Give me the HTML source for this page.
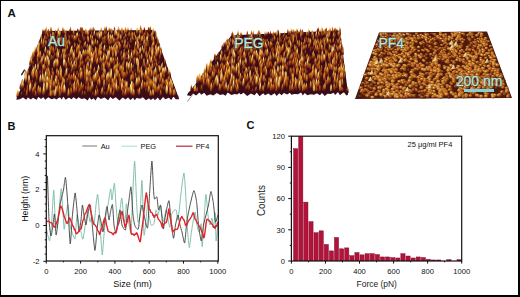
<!DOCTYPE html>
<html><head><meta charset="utf-8"><style>
html,body{margin:0;padding:0;background:#fff;}
svg{display:block;}
text{font-family:"Liberation Sans", sans-serif;}
</style></head><body>
<svg width="520" height="297" viewBox="0 0 520 297">
<defs>
<linearGradient id="ga" x1="0" y1="0" x2="0.25" y2="1"><stop offset="0" stop-color="#f8d870"/><stop offset="0.3" stop-color="#d47c18"/><stop offset="0.7" stop-color="#8c3010"/><stop offset="1" stop-color="#440c18"/></linearGradient>
<linearGradient id="gb" x1="0" y1="0" x2="0.25" y2="1"><stop offset="0" stop-color="#e49828"/><stop offset="0.35" stop-color="#b25210"/><stop offset="0.75" stop-color="#6a1e0e"/><stop offset="1" stop-color="#380a18"/></linearGradient>
<linearGradient id="gc" x1="0" y1="0" x2="0.25" y2="1"><stop offset="0" stop-color="#fff6d0"/><stop offset="0.25" stop-color="#f0c850"/><stop offset="0.6" stop-color="#c86c1c"/><stop offset="1" stop-color="#501018"/></linearGradient>
<linearGradient id="gd" x1="0" y1="0" x2="0.25" y2="1"><stop offset="0" stop-color="#c87028"/><stop offset="0.4" stop-color="#903610"/><stop offset="1" stop-color="#360a18"/></linearGradient>
<linearGradient id="ge" x1="0" y1="0" x2="0.25" y2="1"><stop offset="0" stop-color="#ffffff"/><stop offset="0.3" stop-color="#f8f0b0"/><stop offset="0.65" stop-color="#d89838"/><stop offset="1" stop-color="#602014"/></linearGradient>
<path id="pa1" d="M0,-4.88 C0.47,-3.66 0.94,-1.71 0.75,0 Q0,0.73 -0.75,0 C-0.94,-1.71 -0.47,-3.66 0,-4.88Z" fill="url(#ga)"/><path id="pb1" d="M0,-4.12 C0.45,-3.09 0.9,-1.44 0.72,0 Q0,0.62 -0.72,0 C-0.9,-1.44 -0.45,-3.09 0,-4.12Z" fill="url(#gb)"/><path id="pc1" d="M0,-5.62 C0.49,-4.22 0.98,-1.97 0.78,0 Q0,0.84 -0.78,0 C-0.98,-1.97 -0.49,-4.22 0,-5.62Z" fill="url(#gc)"/><path id="pd1" d="M0,-3.38 C0.43,-2.53 0.86,-1.18 0.69,0 Q0,0.51 -0.69,0 C-0.86,-1.18 -0.43,-2.53 0,-3.38Z" fill="url(#gd)"/><path id="pe1" d="M0,-6 C0.49,-4.5 0.98,-2.1 0.78,0 Q0,0.9 -0.78,0 C-0.98,-2.1 -0.49,-4.5 0,-6Z" fill="url(#ge)"/><path id="pa2" d="M0,-5.85 C0.56,-4.39 1.12,-2.05 0.9,0 Q0,0.88 -0.9,0 C-1.12,-2.05 -0.56,-4.39 0,-5.85Z" fill="url(#ga)"/><path id="pb2" d="M0,-4.95 C0.54,-3.71 1.08,-1.73 0.86,0 Q0,0.74 -0.86,0 C-1.08,-1.73 -0.54,-3.71 0,-4.95Z" fill="url(#gb)"/><path id="pc2" d="M0,-6.75 C0.59,-5.06 1.17,-2.36 0.94,0 Q0,1.01 -0.94,0 C-1.17,-2.36 -0.59,-5.06 0,-6.75Z" fill="url(#gc)"/><path id="pd2" d="M0,-4.05 C0.52,-3.04 1.03,-1.42 0.83,0 Q0,0.61 -0.83,0 C-1.03,-1.42 -0.52,-3.04 0,-4.05Z" fill="url(#gd)"/><path id="pe2" d="M0,-7.2 C0.59,-5.4 1.17,-2.52 0.94,0 Q0,1.08 -0.94,0 C-1.17,-2.52 -0.59,-5.4 0,-7.2Z" fill="url(#ge)"/><path id="pa3" d="M0,-6.83 C0.66,-5.12 1.31,-2.39 1.05,0 Q0,1.02 -1.05,0 C-1.31,-2.39 -0.66,-5.12 0,-6.83Z" fill="url(#ga)"/><path id="pb3" d="M0,-5.78 C0.63,-4.33 1.26,-2.02 1.01,0 Q0,0.87 -1.01,0 C-1.26,-2.02 -0.63,-4.33 0,-5.78Z" fill="url(#gb)"/><path id="pc3" d="M0,-7.88 C0.68,-5.91 1.37,-2.76 1.09,0 Q0,1.18 -1.09,0 C-1.37,-2.76 -0.68,-5.91 0,-7.88Z" fill="url(#gc)"/><path id="pd3" d="M0,-4.73 C0.6,-3.54 1.21,-1.65 0.97,0 Q0,0.71 -0.97,0 C-1.21,-1.65 -0.6,-3.54 0,-4.73Z" fill="url(#gd)"/><path id="pe3" d="M0,-8.4 C0.68,-6.3 1.37,-2.94 1.09,0 Q0,1.26 -1.09,0 C-1.37,-2.94 -0.68,-6.3 0,-8.4Z" fill="url(#ge)"/><filter id="soft" x="0" y="0" width="1" height="1"><feGaussianBlur stdDeviation="0.35"/></filter>
<radialGradient id="g1" cx="0.35" cy="0.3" r="0.75"><stop offset="0" stop-color="#e8a448"/><stop offset="0.45" stop-color="#bc6a1e"/><stop offset="1" stop-color="#642410"/></radialGradient>
<radialGradient id="g2" cx="0.35" cy="0.3" r="0.75"><stop offset="0" stop-color="#cc8034"/><stop offset="0.5" stop-color="#9a4c18"/><stop offset="1" stop-color="#521a10"/></radialGradient>
<radialGradient id="g3" cx="0.35" cy="0.3" r="0.75"><stop offset="0" stop-color="#f0c468"/><stop offset="0.45" stop-color="#c07828"/><stop offset="1" stop-color="#6a2810"/></radialGradient>
<radialGradient id="g4" cx="0.35" cy="0.3" r="0.75"><stop offset="0" stop-color="#8a4a1c"/><stop offset="0.5" stop-color="#622410"/><stop offset="1" stop-color="#38100c"/></radialGradient>
<linearGradient id="gt" x1="0" y1="0" x2="1" y2="0.3"><stop offset="0" stop-color="#fff8d8"/><stop offset="0.6" stop-color="#e8d090"/><stop offset="1" stop-color="#a07030"/></linearGradient>
<path id="tri" d="M0,-4 L2.5,0.5 L-2.5,0.5Z" fill="url(#gt)"/>
<ellipse id="e1a" rx="1.64" ry="1.33" fill="url(#g1)"/><ellipse id="e2a" rx="1.48" ry="1.25" fill="url(#g2)"/><ellipse id="e3a" rx="1.79" ry="1.48" fill="url(#g3)"/><ellipse id="e4a" rx="1.56" ry="1.33" fill="url(#g4)"/><ellipse id="e1b" rx="1.99" ry="1.61" fill="url(#g1)"/><ellipse id="e2b" rx="1.8" ry="1.52" fill="url(#g2)"/><ellipse id="e3b" rx="2.18" ry="1.8" fill="url(#g3)"/><ellipse id="e4b" rx="1.9" ry="1.61" fill="url(#g4)"/></defs>
<rect x="0" y="0" width="520" height="297" fill="#fff"/>
<g filter="url(#soft)">
<path d="M43,31 L154,30 L178.19,96.4 L17.4,96.9 Z" fill="#3a0c16"/>
<use href="#pc1" x="140.6" y="30.1"/>
<use href="#pd1" x="148.5" y="30.2"/>
<use href="#pb1" x="118.5" y="30.4"/>
<use href="#pb1" x="114.5" y="30.4"/>
<use href="#pb1" x="144.3" y="30.6"/>
<use href="#pa1" x="106.2" y="30.6"/>
<use href="#pb1" x="80.5" y="30.7"/>
<use href="#pb1" x="81.3" y="30.7"/>
<use href="#pc1" x="150.4" y="30.8"/>
<use href="#pe1" x="104.6" y="31.0"/>
<use href="#pb1" x="82.5" y="31.1"/>
<use href="#pd1" x="109.9" y="31.2"/>
<use href="#pa1" x="93.1" y="31.2"/>
<use href="#pb1" x="82.4" y="31.3"/>
<use href="#pc1" x="70.4" y="31.3"/>
<use href="#pa1" x="50.9" y="31.3"/>
<use href="#pa1" x="46.2" y="31.7"/>
<use href="#pa1" x="149.5" y="31.7"/>
<use href="#pe1" x="58.2" y="31.7"/>
<use href="#pa1" x="62.9" y="31.7"/>
<use href="#pc1" x="125.3" y="31.8"/>
<use href="#pd1" x="80.6" y="31.9"/>
<use href="#pa1" x="90.9" y="32.0"/>
<use href="#pb1" x="77.6" y="32.0"/>
<use href="#pc1" x="127.9" y="32.1"/>
<use href="#pd1" x="48.4" y="32.2"/>
<use href="#pc1" x="137.2" y="32.2"/>
<use href="#pc1" x="109.0" y="32.2"/>
<use href="#pd1" x="45.1" y="32.2"/>
<use href="#pa1" x="104.9" y="32.2"/>
<use href="#pb1" x="111.7" y="32.2"/>
<use href="#pc1" x="118.5" y="32.2"/>
<use href="#pc1" x="101.1" y="32.3"/>
<use href="#pa1" x="131.1" y="32.4"/>
<use href="#pc1" x="51.4" y="32.4"/>
<use href="#pb1" x="89.9" y="32.5"/>
<use href="#pa1" x="94.5" y="32.6"/>
<use href="#pc1" x="121.5" y="32.6"/>
<use href="#pa1" x="141.3" y="32.7"/>
<use href="#pe1" x="137.7" y="32.7"/>
<use href="#pe1" x="137.2" y="32.7"/>
<use href="#pb1" x="43.0" y="32.7"/>
<use href="#pc1" x="122.6" y="32.8"/>
<use href="#pa1" x="153.1" y="32.8"/>
<use href="#pb1" x="80.1" y="32.9"/>
<use href="#pb1" x="69.5" y="33.0"/>
<use href="#pd1" x="126.9" y="33.0"/>
<use href="#pc1" x="153.4" y="33.0"/>
<use href="#pa1" x="62.7" y="33.0"/>
<use href="#pd1" x="46.6" y="33.1"/>
<use href="#pd1" x="90.0" y="33.1"/>
<use href="#pb1" x="78.6" y="33.1"/>
<use href="#pa1" x="85.4" y="33.2"/>
<use href="#pb1" x="119.6" y="33.4"/>
<use href="#pa1" x="145.7" y="33.5"/>
<use href="#pa1" x="140.1" y="33.6"/>
<use href="#pc1" x="126.2" y="33.6"/>
<use href="#pa1" x="139.9" y="33.7"/>
<use href="#pd1" x="94.5" y="33.7"/>
<use href="#pd1" x="155.3" y="33.7"/>
<use href="#pc1" x="115.0" y="33.8"/>
<use href="#pe1" x="153.2" y="33.8"/>
<use href="#pa1" x="82.1" y="33.8"/>
<use href="#pc1" x="64.6" y="33.8"/>
<use href="#pa1" x="48.1" y="33.9"/>
<use href="#pc1" x="46.7" y="33.9"/>
<use href="#pa1" x="142.2" y="33.9"/>
<use href="#pe1" x="73.6" y="33.9"/>
<use href="#pd1" x="100.9" y="34.0"/>
<use href="#pd1" x="85.7" y="34.0"/>
<use href="#pd1" x="110.8" y="34.0"/>
<use href="#pc1" x="124.7" y="34.0"/>
<use href="#pa1" x="57.7" y="34.1"/>
<use href="#pa1" x="55.7" y="34.2"/>
<use href="#pc1" x="111.9" y="34.3"/>
<use href="#pa1" x="58.9" y="34.4"/>
<use href="#pa1" x="102.0" y="34.4"/>
<use href="#pb1" x="47.5" y="34.4"/>
<use href="#pa1" x="153.8" y="34.4"/>
<use href="#pc1" x="86.0" y="34.4"/>
<use href="#pa1" x="66.1" y="34.5"/>
<use href="#pc1" x="86.5" y="34.5"/>
<use href="#pd1" x="152.5" y="34.5"/>
<use href="#pd1" x="44.3" y="34.5"/>
<use href="#pd1" x="134.6" y="34.5"/>
<use href="#pb1" x="49.7" y="34.6"/>
<use href="#pd1" x="139.6" y="34.7"/>
<use href="#pe1" x="87.6" y="34.7"/>
<use href="#pc1" x="140.3" y="34.8"/>
<use href="#pe1" x="115.6" y="34.8"/>
<use href="#pa1" x="106.1" y="35.0"/>
<use href="#pc1" x="99.8" y="35.0"/>
<use href="#pb1" x="142.6" y="35.0"/>
<use href="#pb1" x="83.9" y="35.0"/>
<use href="#pa1" x="104.4" y="35.1"/>
<use href="#pe1" x="60.0" y="35.3"/>
<use href="#pd1" x="73.8" y="35.3"/>
<use href="#pb1" x="137.2" y="35.3"/>
<use href="#pb1" x="147.6" y="35.3"/>
<use href="#pa1" x="122.0" y="35.5"/>
<use href="#pd1" x="88.8" y="35.6"/>
<use href="#pb1" x="74.2" y="35.7"/>
<use href="#pa1" x="46.0" y="35.7"/>
<use href="#pe1" x="94.4" y="35.7"/>
<use href="#pb1" x="82.5" y="35.7"/>
<use href="#pa1" x="91.7" y="35.9"/>
<use href="#pa1" x="117.0" y="35.9"/>
<use href="#pe1" x="116.6" y="36.0"/>
<use href="#pb1" x="134.6" y="36.0"/>
<use href="#pa1" x="65.5" y="36.0"/>
<use href="#pe1" x="58.5" y="36.0"/>
<use href="#pa1" x="155.8" y="36.0"/>
<use href="#pc1" x="88.2" y="36.0"/>
<use href="#pb1" x="123.0" y="36.2"/>
<use href="#pb1" x="65.6" y="36.2"/>
<use href="#pb1" x="152.4" y="36.3"/>
<use href="#pa1" x="101.7" y="36.4"/>
<use href="#pa1" x="101.8" y="36.4"/>
<use href="#pd1" x="125.6" y="36.5"/>
<use href="#pb1" x="146.0" y="36.6"/>
<use href="#pc1" x="152.8" y="36.6"/>
<use href="#pa1" x="132.0" y="36.7"/>
<use href="#pb1" x="60.2" y="36.7"/>
<use href="#pc1" x="129.2" y="36.7"/>
<use href="#pc1" x="52.7" y="36.8"/>
<use href="#pa1" x="114.5" y="36.8"/>
<use href="#pa1" x="134.0" y="36.9"/>
<use href="#pc1" x="100.4" y="36.9"/>
<use href="#pd1" x="127.0" y="37.0"/>
<use href="#pa1" x="144.6" y="37.0"/>
<use href="#pb1" x="133.2" y="37.0"/>
<use href="#pa1" x="96.5" y="37.0"/>
<use href="#pc1" x="132.3" y="37.1"/>
<use href="#pe1" x="98.1" y="37.2"/>
<use href="#pd1" x="71.4" y="37.2"/>
<use href="#pc1" x="53.7" y="37.2"/>
<use href="#pc1" x="118.9" y="37.3"/>
<use href="#pb1" x="130.2" y="37.3"/>
<use href="#pd1" x="82.3" y="37.3"/>
<use href="#pa1" x="47.7" y="37.4"/>
<use href="#pb1" x="53.6" y="37.4"/>
<use href="#pe1" x="108.4" y="37.5"/>
<use href="#pb1" x="65.9" y="37.5"/>
<use href="#pc1" x="151.7" y="37.5"/>
<use href="#pc1" x="59.4" y="37.5"/>
<use href="#pd1" x="77.2" y="37.6"/>
<use href="#pe1" x="101.2" y="37.6"/>
<use href="#pd1" x="91.2" y="37.6"/>
<use href="#pd1" x="68.6" y="37.6"/>
<use href="#pb1" x="79.2" y="37.7"/>
<use href="#pa1" x="134.6" y="37.7"/>
<use href="#pe1" x="77.5" y="37.7"/>
<use href="#pd1" x="73.6" y="37.7"/>
<use href="#pb1" x="150.2" y="37.8"/>
<use href="#pb1" x="48.9" y="37.9"/>
<use href="#pc1" x="118.0" y="37.9"/>
<use href="#pc1" x="108.5" y="37.9"/>
<use href="#pb1" x="110.1" y="38.0"/>
<use href="#pc1" x="76.6" y="38.1"/>
<use href="#pd1" x="48.3" y="38.1"/>
<use href="#pd1" x="106.6" y="38.3"/>
<use href="#pc1" x="148.0" y="38.3"/>
<use href="#pa1" x="82.7" y="38.3"/>
<use href="#pa1" x="125.8" y="38.4"/>
<use href="#pa1" x="143.4" y="38.4"/>
<use href="#pa1" x="125.5" y="38.5"/>
<use href="#pb1" x="48.1" y="38.6"/>
<use href="#pd1" x="99.0" y="38.6"/>
<use href="#pc1" x="76.5" y="38.6"/>
<use href="#pd1" x="111.9" y="38.6"/>
<use href="#pc1" x="50.8" y="38.7"/>
<use href="#pb1" x="69.2" y="38.9"/>
<use href="#pb1" x="90.9" y="38.9"/>
<use href="#pd1" x="88.5" y="39.0"/>
<use href="#pa1" x="112.6" y="39.1"/>
<use href="#pe1" x="99.6" y="39.1"/>
<use href="#pa1" x="72.4" y="39.3"/>
<use href="#pc1" x="41.2" y="39.4"/>
<use href="#pd1" x="84.7" y="39.4"/>
<use href="#pe1" x="156.5" y="39.4"/>
<use href="#pc1" x="139.8" y="39.4"/>
<use href="#pc1" x="156.4" y="39.5"/>
<use href="#pc1" x="65.2" y="39.5"/>
<use href="#pb1" x="118.6" y="39.5"/>
<use href="#pc1" x="118.9" y="39.6"/>
<use href="#pb1" x="91.9" y="39.6"/>
<use href="#pe1" x="120.9" y="39.7"/>
<use href="#pc1" x="90.8" y="39.7"/>
<use href="#pb1" x="74.0" y="39.7"/>
<use href="#pd1" x="102.1" y="39.8"/>
<use href="#pb1" x="69.9" y="39.8"/>
<use href="#pa1" x="108.6" y="39.9"/>
<use href="#pa1" x="57.3" y="39.9"/>
<use href="#pa1" x="142.3" y="39.9"/>
<use href="#pe1" x="110.8" y="40.0"/>
<use href="#pa1" x="108.3" y="40.1"/>
<use href="#pc1" x="54.0" y="40.1"/>
<use href="#pa1" x="141.5" y="40.1"/>
<use href="#pe1" x="112.3" y="40.2"/>
<use href="#pc1" x="135.7" y="40.2"/>
<use href="#pe1" x="139.2" y="40.2"/>
<use href="#pb1" x="61.7" y="40.2"/>
<use href="#pb1" x="83.4" y="40.3"/>
<use href="#pa1" x="144.3" y="40.4"/>
<use href="#pb1" x="46.7" y="40.4"/>
<use href="#pc1" x="44.9" y="40.4"/>
<use href="#pa1" x="124.1" y="40.4"/>
<use href="#pa1" x="87.4" y="40.5"/>
<use href="#pc1" x="92.5" y="40.5"/>
<use href="#pe1" x="108.7" y="40.5"/>
<use href="#pc1" x="132.3" y="40.5"/>
<use href="#pc1" x="152.2" y="40.6"/>
<use href="#pe1" x="74.9" y="40.7"/>
<use href="#pc1" x="105.0" y="40.7"/>
<use href="#pa1" x="41.7" y="40.9"/>
<use href="#pc1" x="88.0" y="40.9"/>
<use href="#pb1" x="76.2" y="41.0"/>
<use href="#pd1" x="127.6" y="41.0"/>
<use href="#pa1" x="52.9" y="41.0"/>
<use href="#pb1" x="130.7" y="41.1"/>
<use href="#pa1" x="50.5" y="41.1"/>
<use href="#pa1" x="66.2" y="41.2"/>
<use href="#pc1" x="74.5" y="41.2"/>
<use href="#pb1" x="133.5" y="41.3"/>
<use href="#pc1" x="146.4" y="41.4"/>
<use href="#pb1" x="74.4" y="41.4"/>
<use href="#pc1" x="142.5" y="41.4"/>
<use href="#pb1" x="61.6" y="41.4"/>
<use href="#pa1" x="144.3" y="41.4"/>
<use href="#pa1" x="138.6" y="41.4"/>
<use href="#pa1" x="103.2" y="41.4"/>
<use href="#pa1" x="117.4" y="41.5"/>
<use href="#pc1" x="153.4" y="41.5"/>
<use href="#pd1" x="50.0" y="41.5"/>
<use href="#pb1" x="116.5" y="41.6"/>
<use href="#pb1" x="107.3" y="41.6"/>
<use href="#pc1" x="137.3" y="41.7"/>
<use href="#pd1" x="143.6" y="41.7"/>
<use href="#pe1" x="147.4" y="41.8"/>
<use href="#pb1" x="84.3" y="41.8"/>
<use href="#pb1" x="103.0" y="41.8"/>
<use href="#pa1" x="88.5" y="41.9"/>
<use href="#pd1" x="136.5" y="41.9"/>
<use href="#pe1" x="51.7" y="41.9"/>
<use href="#pa1" x="137.0" y="42.0"/>
<use href="#pd1" x="157.5" y="42.1"/>
<use href="#pb1" x="95.3" y="42.1"/>
<use href="#pa1" x="78.8" y="42.2"/>
<use href="#pa1" x="66.1" y="42.2"/>
<use href="#pe1" x="60.0" y="42.3"/>
<use href="#pb1" x="141.7" y="42.3"/>
<use href="#pc1" x="141.5" y="42.3"/>
<use href="#pd1" x="93.6" y="42.4"/>
<use href="#pb1" x="114.8" y="42.4"/>
<use href="#pb1" x="69.1" y="42.5"/>
<use href="#pa1" x="52.5" y="42.5"/>
<use href="#pb1" x="110.0" y="42.5"/>
<use href="#pc1" x="153.5" y="42.6"/>
<use href="#pc1" x="113.8" y="42.7"/>
<use href="#pa1" x="43.6" y="42.7"/>
<use href="#pa1" x="115.0" y="42.8"/>
<use href="#pb1" x="48.4" y="42.8"/>
<use href="#pc1" x="88.5" y="42.8"/>
<use href="#pa1" x="130.5" y="42.9"/>
<use href="#pd1" x="109.3" y="43.0"/>
<use href="#pd1" x="44.8" y="43.3"/>
<use href="#pd1" x="131.5" y="43.4"/>
<use href="#pb1" x="109.1" y="43.4"/>
<use href="#pd1" x="45.1" y="43.5"/>
<use href="#pb1" x="104.3" y="43.6"/>
<use href="#pa1" x="158.2" y="43.6"/>
<use href="#pd1" x="80.3" y="43.6"/>
<use href="#pb1" x="95.5" y="43.6"/>
<use href="#pc1" x="50.6" y="43.7"/>
<use href="#pd1" x="57.2" y="43.7"/>
<use href="#pd1" x="122.8" y="43.8"/>
<use href="#pb1" x="80.0" y="43.8"/>
<use href="#pb1" x="121.3" y="43.8"/>
<use href="#pb1" x="57.3" y="43.9"/>
<use href="#pa1" x="109.5" y="43.9"/>
<use href="#pb1" x="103.9" y="44.0"/>
<use href="#pa1" x="112.0" y="44.1"/>
<use href="#pa1" x="122.8" y="44.1"/>
<use href="#pa1" x="109.2" y="44.1"/>
<use href="#pa1" x="146.1" y="44.1"/>
<use href="#pc1" x="50.6" y="44.1"/>
<use href="#pa1" x="55.4" y="44.1"/>
<use href="#pb1" x="79.6" y="44.2"/>
<use href="#pe1" x="41.5" y="44.2"/>
<use href="#pc1" x="95.6" y="44.3"/>
<use href="#pa1" x="158.3" y="44.3"/>
<use href="#pc1" x="91.9" y="44.4"/>
<use href="#pb1" x="94.0" y="44.4"/>
<use href="#pa1" x="148.0" y="44.5"/>
<use href="#pc1" x="68.1" y="44.6"/>
<use href="#pb1" x="50.2" y="44.6"/>
<use href="#pe1" x="137.3" y="44.7"/>
<use href="#pa1" x="62.1" y="44.7"/>
<use href="#pe1" x="125.1" y="44.7"/>
<use href="#pa1" x="158.3" y="44.7"/>
<use href="#pe1" x="57.6" y="44.7"/>
<use href="#pb1" x="92.4" y="44.7"/>
<use href="#pb1" x="102.4" y="44.8"/>
<use href="#pb1" x="80.5" y="44.8"/>
<use href="#pa1" x="59.0" y="44.8"/>
<use href="#pc1" x="65.0" y="44.9"/>
<use href="#pb1" x="105.1" y="44.9"/>
<use href="#pd1" x="114.1" y="44.9"/>
<use href="#pa1" x="110.8" y="44.9"/>
<use href="#pe1" x="144.2" y="44.9"/>
<use href="#pd1" x="111.2" y="45.0"/>
<use href="#pc1" x="43.5" y="45.0"/>
<use href="#pd1" x="69.1" y="45.1"/>
<use href="#pa1" x="117.8" y="45.1"/>
<use href="#pc1" x="97.6" y="45.1"/>
<use href="#pd1" x="57.0" y="45.3"/>
<use href="#pc1" x="46.0" y="45.4"/>
<use href="#pd1" x="135.9" y="45.4"/>
<use href="#pa1" x="118.9" y="45.4"/>
<use href="#pa1" x="66.8" y="45.5"/>
<use href="#pa1" x="153.3" y="45.7"/>
<use href="#pa1" x="153.4" y="45.7"/>
<use href="#pa1" x="39.0" y="45.7"/>
<use href="#pa1" x="154.1" y="45.7"/>
<use href="#pb1" x="109.3" y="45.8"/>
<use href="#pb1" x="42.4" y="45.8"/>
<use href="#pb1" x="94.3" y="45.9"/>
<use href="#pc1" x="69.8" y="45.9"/>
<use href="#pa1" x="128.0" y="46.0"/>
<use href="#pe1" x="92.4" y="46.0"/>
<use href="#pa1" x="67.2" y="46.0"/>
<use href="#pb1" x="153.7" y="46.1"/>
<use href="#pb1" x="54.1" y="46.3"/>
<use href="#pb1" x="118.9" y="46.3"/>
<use href="#pc1" x="138.6" y="46.3"/>
<use href="#pa1" x="93.7" y="46.3"/>
<use href="#pb1" x="115.7" y="46.4"/>
<use href="#pd1" x="67.6" y="46.4"/>
<use href="#pb1" x="159.4" y="46.4"/>
<use href="#pb1" x="153.6" y="46.4"/>
<use href="#pc1" x="116.1" y="46.6"/>
<use href="#pb1" x="140.9" y="46.7"/>
<use href="#pe1" x="85.3" y="46.7"/>
<use href="#pa1" x="119.1" y="46.7"/>
<use href="#pd1" x="143.5" y="46.7"/>
<use href="#pe1" x="135.6" y="46.8"/>
<use href="#pa1" x="84.7" y="46.8"/>
<use href="#pb1" x="148.2" y="46.9"/>
<use href="#pa1" x="43.4" y="47.0"/>
<use href="#pc1" x="101.3" y="47.1"/>
<use href="#pd1" x="85.7" y="47.2"/>
<use href="#pc1" x="153.5" y="47.3"/>
<use href="#pd1" x="144.5" y="47.3"/>
<use href="#pc1" x="119.6" y="47.3"/>
<use href="#pa1" x="66.2" y="47.4"/>
<use href="#pc1" x="146.1" y="47.4"/>
<use href="#pc1" x="50.4" y="47.4"/>
<use href="#pa1" x="38.9" y="47.5"/>
<use href="#pa1" x="85.1" y="47.5"/>
<use href="#pc1" x="74.9" y="47.6"/>
<use href="#pb1" x="139.5" y="47.6"/>
<use href="#pd1" x="106.0" y="47.7"/>
<use href="#pb1" x="84.0" y="47.8"/>
<use href="#pb1" x="146.9" y="47.8"/>
<use href="#pc1" x="152.4" y="47.8"/>
<use href="#pa1" x="84.9" y="47.8"/>
<use href="#pe1" x="38.9" y="48.1"/>
<use href="#pa1" x="156.4" y="48.2"/>
<use href="#pa1" x="79.4" y="48.2"/>
<use href="#pc1" x="124.2" y="48.3"/>
<use href="#pd1" x="42.4" y="48.3"/>
<use href="#pb1" x="44.1" y="48.3"/>
<use href="#pa1" x="77.7" y="48.5"/>
<use href="#pd1" x="135.8" y="48.6"/>
<use href="#pa1" x="120.6" y="48.7"/>
<use href="#pc1" x="87.3" y="48.8"/>
<use href="#pa1" x="129.7" y="48.8"/>
<use href="#pc1" x="114.7" y="48.9"/>
<use href="#pc1" x="137.8" y="48.9"/>
<use href="#pa1" x="119.6" y="49.0"/>
<use href="#pd1" x="91.1" y="49.0"/>
<use href="#pd1" x="67.8" y="49.0"/>
<use href="#pa1" x="65.7" y="49.0"/>
<use href="#pb1" x="81.2" y="49.0"/>
<use href="#pb1" x="114.3" y="49.0"/>
<use href="#pb1" x="56.9" y="49.1"/>
<use href="#pa1" x="99.6" y="49.2"/>
<use href="#pc1" x="100.3" y="49.2"/>
<use href="#pc1" x="127.1" y="49.3"/>
<use href="#pa1" x="125.9" y="49.4"/>
<use href="#pd1" x="99.6" y="49.5"/>
<use href="#pa1" x="144.8" y="49.9"/>
<use href="#pa1" x="72.6" y="49.9"/>
<use href="#pc1" x="78.7" y="50.0"/>
<use href="#pd1" x="117.9" y="50.1"/>
<use href="#pc1" x="49.8" y="50.1"/>
<use href="#pa1" x="138.4" y="50.1"/>
<use href="#pb1" x="101.5" y="50.2"/>
<use href="#pa1" x="51.9" y="50.2"/>
<use href="#pe1" x="116.9" y="50.2"/>
<use href="#pc1" x="37.2" y="50.3"/>
<use href="#pd1" x="98.1" y="50.3"/>
<use href="#pc1" x="67.3" y="50.3"/>
<use href="#pc1" x="155.6" y="50.3"/>
<use href="#pa1" x="91.1" y="50.4"/>
<use href="#pd1" x="91.8" y="50.5"/>
<use href="#pb1" x="119.9" y="50.5"/>
<use href="#pa1" x="71.6" y="50.5"/>
<use href="#pa1" x="152.0" y="50.5"/>
<use href="#pb1" x="82.2" y="50.6"/>
<use href="#pc1" x="111.4" y="50.6"/>
<use href="#pe1" x="89.2" y="50.6"/>
<use href="#pd1" x="72.3" y="50.7"/>
<use href="#pc1" x="138.1" y="50.7"/>
<use href="#pb1" x="77.5" y="50.7"/>
<use href="#pd1" x="115.0" y="50.7"/>
<use href="#pb1" x="104.0" y="51.0"/>
<use href="#pe1" x="142.4" y="51.1"/>
<use href="#pa2" x="55.9" y="51.3"/>
<use href="#pb2" x="101.0" y="51.3"/>
<use href="#pd2" x="52.4" y="51.3"/>
<use href="#pe2" x="104.5" y="51.4"/>
<use href="#pc2" x="78.8" y="51.4"/>
<use href="#pb2" x="137.1" y="51.4"/>
<use href="#pe2" x="89.9" y="51.4"/>
<use href="#pc2" x="117.1" y="51.5"/>
<use href="#pc2" x="113.5" y="51.5"/>
<use href="#pa2" x="79.1" y="51.5"/>
<use href="#pa2" x="101.5" y="51.5"/>
<use href="#pc2" x="159.1" y="51.6"/>
<use href="#pd2" x="137.3" y="51.6"/>
<use href="#pb2" x="146.2" y="51.6"/>
<use href="#pd2" x="79.8" y="51.6"/>
<use href="#pa2" x="51.1" y="51.8"/>
<use href="#pa2" x="76.9" y="51.9"/>
<use href="#pc2" x="109.6" y="51.9"/>
<use href="#pa2" x="53.3" y="52.0"/>
<use href="#pa2" x="134.8" y="52.0"/>
<use href="#pc2" x="38.7" y="52.1"/>
<use href="#pd2" x="135.8" y="52.1"/>
<use href="#pc2" x="89.5" y="52.1"/>
<use href="#pa2" x="112.2" y="52.4"/>
<use href="#pa2" x="99.9" y="52.4"/>
<use href="#pe2" x="35.4" y="52.4"/>
<use href="#pc2" x="156.2" y="52.5"/>
<use href="#pb2" x="87.9" y="52.6"/>
<use href="#pa2" x="110.2" y="52.6"/>
<use href="#pa2" x="161.0" y="52.7"/>
<use href="#pa2" x="77.2" y="52.7"/>
<use href="#pc2" x="157.9" y="52.7"/>
<use href="#pc2" x="95.8" y="52.7"/>
<use href="#pa2" x="100.5" y="52.7"/>
<use href="#pa2" x="151.9" y="52.8"/>
<use href="#pb2" x="140.0" y="53.0"/>
<use href="#pc2" x="152.9" y="53.0"/>
<use href="#pc2" x="149.9" y="53.0"/>
<use href="#pa2" x="100.0" y="53.1"/>
<use href="#pe2" x="45.5" y="53.1"/>
<use href="#pc2" x="115.1" y="53.1"/>
<use href="#pe2" x="71.4" y="53.2"/>
<use href="#pb2" x="96.7" y="53.3"/>
<use href="#pb2" x="107.1" y="53.3"/>
<use href="#pe2" x="158.4" y="53.3"/>
<use href="#pb2" x="128.9" y="53.3"/>
<use href="#pc2" x="112.9" y="53.4"/>
<use href="#pa2" x="92.1" y="53.4"/>
<use href="#pd2" x="156.9" y="53.4"/>
<use href="#pb2" x="35.8" y="53.5"/>
<use href="#pc2" x="37.8" y="53.5"/>
<use href="#pa2" x="50.7" y="53.5"/>
<use href="#pa2" x="65.5" y="53.6"/>
<use href="#pb2" x="135.5" y="53.7"/>
<use href="#pa2" x="53.7" y="53.7"/>
<use href="#pe2" x="140.2" y="53.8"/>
<use href="#pc2" x="144.0" y="53.9"/>
<use href="#pa2" x="95.7" y="54.0"/>
<use href="#pa2" x="124.3" y="54.1"/>
<use href="#pb2" x="131.7" y="54.2"/>
<use href="#pe2" x="89.8" y="54.3"/>
<use href="#pa2" x="62.8" y="54.3"/>
<use href="#pb2" x="118.2" y="54.3"/>
<use href="#pd2" x="93.2" y="54.3"/>
<use href="#pb2" x="136.5" y="54.4"/>
<use href="#pa2" x="115.9" y="54.5"/>
<use href="#pd2" x="132.0" y="54.5"/>
<use href="#pb2" x="133.3" y="54.5"/>
<use href="#pa2" x="76.7" y="54.6"/>
<use href="#pc2" x="57.7" y="54.6"/>
<use href="#pa2" x="59.2" y="54.6"/>
<use href="#pb2" x="112.5" y="54.6"/>
<use href="#pc2" x="63.1" y="54.7"/>
<use href="#pc2" x="38.3" y="54.8"/>
<use href="#pa2" x="90.6" y="54.8"/>
<use href="#pc2" x="64.8" y="54.9"/>
<use href="#pd2" x="154.8" y="55.0"/>
<use href="#pc2" x="99.1" y="55.1"/>
<use href="#pa2" x="74.4" y="55.2"/>
<use href="#pc2" x="95.3" y="55.2"/>
<use href="#pd2" x="38.4" y="55.3"/>
<use href="#pa2" x="62.8" y="55.3"/>
<use href="#pc2" x="156.4" y="55.5"/>
<use href="#pd2" x="133.0" y="55.5"/>
<use href="#pc2" x="72.3" y="55.5"/>
<use href="#pb2" x="34.4" y="55.6"/>
<use href="#pc2" x="87.2" y="55.6"/>
<use href="#pc2" x="156.7" y="55.6"/>
<use href="#pc2" x="88.7" y="55.7"/>
<use href="#pc2" x="70.5" y="55.8"/>
<use href="#pc2" x="48.0" y="55.8"/>
<use href="#pa2" x="153.1" y="55.8"/>
<use href="#pc2" x="85.3" y="55.8"/>
<use href="#pb2" x="99.7" y="55.9"/>
<use href="#pd2" x="137.2" y="55.9"/>
<use href="#pe2" x="83.3" y="55.9"/>
<use href="#pa2" x="101.5" y="56.0"/>
<use href="#pa2" x="108.5" y="56.0"/>
<use href="#pa2" x="157.6" y="56.0"/>
<use href="#pc2" x="134.3" y="56.1"/>
<use href="#pc2" x="128.5" y="56.1"/>
<use href="#pa2" x="121.3" y="56.2"/>
<use href="#pa2" x="96.2" y="56.2"/>
<use href="#pe2" x="152.1" y="56.2"/>
<use href="#pc2" x="160.7" y="56.3"/>
<use href="#pd2" x="33.8" y="56.3"/>
<use href="#pc2" x="79.2" y="56.3"/>
<use href="#pd2" x="98.5" y="56.4"/>
<use href="#pb2" x="126.3" y="56.4"/>
<use href="#pa2" x="137.1" y="56.4"/>
<use href="#pa2" x="47.3" y="56.5"/>
<use href="#pc2" x="108.6" y="56.6"/>
<use href="#pd2" x="96.9" y="56.6"/>
<use href="#pa2" x="99.2" y="56.6"/>
<use href="#pc2" x="39.0" y="56.7"/>
<use href="#pe2" x="109.2" y="56.7"/>
<use href="#pc2" x="83.9" y="56.8"/>
<use href="#pa2" x="148.8" y="56.8"/>
<use href="#pc2" x="89.9" y="56.8"/>
<use href="#pb2" x="128.7" y="56.8"/>
<use href="#pe2" x="49.7" y="56.9"/>
<use href="#pc2" x="146.2" y="57.0"/>
<use href="#pa2" x="138.0" y="57.0"/>
<use href="#pc2" x="33.0" y="57.0"/>
<use href="#pe2" x="116.0" y="57.1"/>
<use href="#pd2" x="66.2" y="57.1"/>
<use href="#pb2" x="93.5" y="57.1"/>
<use href="#pc2" x="100.8" y="57.1"/>
<use href="#pb2" x="54.8" y="57.2"/>
<use href="#pc2" x="100.3" y="57.2"/>
<use href="#pc2" x="40.4" y="57.3"/>
<use href="#pd2" x="125.7" y="57.4"/>
<use href="#pc2" x="156.4" y="57.4"/>
<use href="#pd2" x="98.8" y="57.5"/>
<use href="#pd2" x="83.2" y="57.5"/>
<use href="#pa2" x="103.9" y="57.6"/>
<use href="#pd2" x="68.1" y="57.6"/>
<use href="#pe2" x="107.9" y="57.6"/>
<use href="#pe2" x="80.2" y="57.6"/>
<use href="#pc2" x="57.2" y="57.6"/>
<use href="#pd2" x="137.1" y="57.7"/>
<use href="#pc2" x="113.0" y="57.7"/>
<use href="#pa2" x="33.2" y="57.9"/>
<use href="#pa2" x="90.1" y="57.9"/>
<use href="#pc2" x="73.5" y="58.0"/>
<use href="#pc2" x="38.6" y="58.2"/>
<use href="#pa2" x="34.0" y="58.2"/>
<use href="#pb2" x="99.6" y="58.3"/>
<use href="#pb2" x="69.5" y="58.4"/>
<use href="#pc2" x="93.4" y="58.4"/>
<use href="#pe2" x="91.5" y="58.5"/>
<use href="#pa2" x="104.2" y="58.5"/>
<use href="#pb2" x="72.9" y="58.5"/>
<use href="#pe2" x="58.4" y="58.7"/>
<use href="#pe2" x="124.0" y="58.8"/>
<use href="#pc2" x="152.5" y="58.8"/>
<use href="#pd2" x="104.4" y="58.9"/>
<use href="#pa2" x="96.7" y="58.9"/>
<use href="#pa2" x="147.3" y="58.9"/>
<use href="#pd2" x="46.2" y="59.0"/>
<use href="#pe2" x="131.5" y="59.0"/>
<use href="#pd2" x="159.6" y="59.1"/>
<use href="#pc2" x="73.8" y="59.1"/>
<use href="#pa2" x="105.6" y="59.1"/>
<use href="#pb2" x="125.0" y="59.2"/>
<use href="#pa2" x="40.3" y="59.2"/>
<use href="#pd2" x="80.7" y="59.2"/>
<use href="#pc2" x="74.0" y="59.3"/>
<use href="#pa2" x="61.5" y="59.3"/>
<use href="#pb2" x="95.5" y="59.5"/>
<use href="#pc2" x="43.8" y="59.6"/>
<use href="#pe2" x="64.0" y="59.6"/>
<use href="#pa2" x="79.2" y="59.7"/>
<use href="#pc2" x="141.7" y="59.7"/>
<use href="#pb2" x="51.4" y="59.8"/>
<use href="#pb2" x="154.7" y="59.8"/>
<use href="#pb2" x="132.8" y="59.9"/>
<use href="#pb2" x="159.9" y="59.9"/>
<use href="#pb2" x="53.1" y="59.9"/>
<use href="#pa2" x="65.7" y="60.0"/>
<use href="#pc2" x="37.7" y="60.0"/>
<use href="#pd2" x="37.9" y="60.0"/>
<use href="#pb2" x="51.8" y="60.0"/>
<use href="#pd2" x="129.5" y="60.1"/>
<use href="#pd2" x="92.8" y="60.1"/>
<use href="#pc2" x="92.8" y="60.2"/>
<use href="#pa2" x="152.4" y="60.2"/>
<use href="#pd2" x="149.9" y="60.2"/>
<use href="#pa2" x="139.9" y="60.3"/>
<use href="#pb2" x="78.8" y="60.4"/>
<use href="#pa2" x="124.7" y="60.4"/>
<use href="#pb2" x="45.1" y="60.5"/>
<use href="#pa2" x="147.2" y="60.5"/>
<use href="#pd2" x="74.1" y="60.5"/>
<use href="#pd2" x="129.0" y="60.6"/>
<use href="#pa2" x="108.7" y="60.6"/>
<use href="#pc2" x="73.9" y="60.6"/>
<use href="#pd2" x="126.1" y="60.6"/>
<use href="#pd2" x="51.2" y="60.6"/>
<use href="#pd2" x="112.3" y="60.7"/>
<use href="#pd2" x="110.5" y="60.7"/>
<use href="#pe2" x="128.7" y="60.7"/>
<use href="#pd2" x="127.4" y="60.7"/>
<use href="#pc2" x="31.7" y="60.8"/>
<use href="#pe2" x="81.5" y="60.9"/>
<use href="#pd2" x="52.2" y="60.9"/>
<use href="#pc2" x="81.2" y="60.9"/>
<use href="#pa2" x="122.1" y="60.9"/>
<use href="#pc2" x="47.0" y="60.9"/>
<use href="#pc2" x="78.4" y="61.0"/>
<use href="#pb2" x="104.4" y="61.0"/>
<use href="#pa2" x="87.3" y="61.1"/>
<use href="#pc2" x="149.7" y="61.1"/>
<use href="#pc2" x="31.3" y="61.2"/>
<use href="#pd2" x="77.9" y="61.3"/>
<use href="#pa2" x="96.0" y="61.4"/>
<use href="#pa2" x="154.5" y="61.5"/>
<use href="#pb2" x="97.9" y="61.5"/>
<use href="#pe2" x="103.4" y="61.6"/>
<use href="#pa2" x="88.3" y="61.7"/>
<use href="#pb2" x="154.9" y="61.8"/>
<use href="#pe2" x="106.8" y="61.9"/>
<use href="#pa2" x="107.5" y="62.0"/>
<use href="#pa2" x="71.0" y="62.2"/>
<use href="#pb2" x="87.0" y="62.2"/>
<use href="#pb2" x="115.4" y="62.2"/>
<use href="#pd2" x="155.2" y="62.3"/>
<use href="#pd2" x="133.6" y="62.4"/>
<use href="#pa2" x="134.9" y="62.4"/>
<use href="#pe2" x="42.1" y="62.5"/>
<use href="#pe2" x="47.7" y="62.5"/>
<use href="#pc2" x="100.4" y="62.6"/>
<use href="#pd2" x="112.8" y="62.6"/>
<use href="#pa2" x="64.1" y="62.7"/>
<use href="#pb2" x="48.2" y="62.8"/>
<use href="#pd2" x="92.6" y="62.8"/>
<use href="#pb2" x="124.4" y="62.9"/>
<use href="#pd2" x="72.9" y="62.9"/>
<use href="#pb2" x="91.0" y="62.9"/>
<use href="#pc2" x="117.5" y="62.9"/>
<use href="#pb2" x="95.2" y="62.9"/>
<use href="#pb2" x="56.5" y="63.0"/>
<use href="#pd2" x="148.9" y="63.1"/>
<use href="#pd2" x="64.0" y="63.1"/>
<use href="#pc2" x="76.1" y="63.2"/>
<use href="#pc2" x="91.4" y="63.2"/>
<use href="#pe2" x="151.3" y="63.3"/>
<use href="#pd2" x="148.2" y="63.3"/>
<use href="#pc2" x="48.6" y="63.3"/>
<use href="#pc2" x="68.6" y="63.4"/>
<use href="#pb2" x="85.7" y="63.4"/>
<use href="#pa2" x="101.9" y="63.5"/>
<use href="#pe2" x="111.0" y="63.5"/>
<use href="#pa2" x="89.4" y="63.5"/>
<use href="#pd2" x="57.4" y="63.6"/>
<use href="#pb2" x="164.8" y="63.6"/>
<use href="#pc2" x="113.6" y="63.7"/>
<use href="#pa2" x="101.6" y="63.7"/>
<use href="#pc2" x="137.1" y="63.7"/>
<use href="#pa2" x="37.7" y="63.7"/>
<use href="#pa2" x="113.0" y="63.7"/>
<use href="#pe2" x="45.4" y="63.8"/>
<use href="#pa2" x="130.5" y="64.0"/>
<use href="#pe2" x="92.3" y="64.0"/>
<use href="#pa2" x="156.1" y="64.1"/>
<use href="#pa2" x="55.8" y="64.1"/>
<use href="#pc2" x="111.3" y="64.2"/>
<use href="#pa2" x="97.1" y="64.2"/>
<use href="#pd2" x="159.0" y="64.3"/>
<use href="#pc2" x="97.4" y="64.3"/>
<use href="#pc2" x="31.5" y="64.4"/>
<use href="#pe2" x="137.0" y="64.4"/>
<use href="#pa2" x="80.3" y="64.5"/>
<use href="#pc2" x="144.0" y="64.6"/>
<use href="#pb2" x="164.9" y="64.6"/>
<use href="#pb2" x="30.1" y="64.7"/>
<use href="#pb2" x="152.8" y="64.7"/>
<use href="#pe2" x="137.1" y="64.7"/>
<use href="#pc2" x="41.2" y="64.8"/>
<use href="#pc2" x="57.7" y="64.9"/>
<use href="#pa2" x="54.4" y="65.0"/>
<use href="#pa2" x="110.0" y="65.1"/>
<use href="#pb2" x="45.2" y="65.1"/>
<use href="#pd2" x="127.3" y="65.1"/>
<use href="#pc2" x="55.8" y="65.2"/>
<use href="#pc2" x="64.4" y="65.2"/>
<use href="#pb2" x="40.1" y="65.3"/>
<use href="#pb2" x="134.5" y="65.3"/>
<use href="#pc2" x="138.4" y="65.3"/>
<use href="#pa2" x="106.0" y="65.3"/>
<use href="#pa2" x="64.7" y="65.3"/>
<use href="#pe2" x="57.1" y="65.5"/>
<use href="#pe2" x="63.9" y="65.6"/>
<use href="#pe2" x="147.6" y="65.6"/>
<use href="#pb2" x="148.8" y="65.6"/>
<use href="#pb2" x="33.2" y="65.6"/>
<use href="#pa2" x="65.4" y="65.7"/>
<use href="#pb2" x="92.1" y="65.8"/>
<use href="#pb2" x="152.6" y="65.9"/>
<use href="#pa2" x="82.8" y="65.9"/>
<use href="#pb2" x="47.1" y="65.9"/>
<use href="#pb2" x="105.8" y="66.0"/>
<use href="#pb2" x="81.4" y="66.0"/>
<use href="#pa2" x="123.9" y="66.2"/>
<use href="#pe2" x="49.0" y="66.2"/>
<use href="#pa2" x="58.2" y="66.2"/>
<use href="#pa2" x="57.2" y="66.3"/>
<use href="#pe2" x="64.3" y="66.3"/>
<use href="#pb2" x="69.4" y="66.4"/>
<use href="#pb2" x="56.6" y="66.5"/>
<use href="#pb2" x="114.3" y="66.5"/>
<use href="#pd2" x="148.3" y="66.6"/>
<use href="#pa2" x="76.6" y="66.7"/>
<use href="#pa2" x="107.6" y="66.8"/>
<use href="#pb2" x="102.4" y="66.9"/>
<use href="#pd2" x="126.5" y="67.0"/>
<use href="#pe2" x="54.3" y="67.0"/>
<use href="#pc2" x="71.4" y="67.1"/>
<use href="#pb2" x="119.4" y="67.1"/>
<use href="#pb2" x="55.0" y="67.1"/>
<use href="#pd2" x="42.1" y="67.2"/>
<use href="#pd2" x="30.5" y="67.2"/>
<use href="#pe2" x="74.3" y="67.3"/>
<use href="#pa2" x="127.2" y="67.3"/>
<use href="#pc2" x="57.4" y="67.4"/>
<use href="#pc2" x="117.4" y="67.4"/>
<use href="#pb2" x="154.5" y="67.5"/>
<use href="#pd2" x="144.4" y="67.6"/>
<use href="#pb2" x="102.7" y="67.6"/>
<use href="#pb2" x="143.1" y="67.6"/>
<use href="#pd2" x="121.9" y="67.6"/>
<use href="#pc2" x="129.5" y="67.7"/>
<use href="#pa2" x="108.3" y="67.8"/>
<use href="#pc2" x="104.0" y="67.8"/>
<use href="#pa2" x="80.4" y="67.8"/>
<use href="#pa2" x="122.9" y="67.8"/>
<use href="#pa2" x="156.6" y="67.9"/>
<use href="#pa2" x="66.3" y="67.9"/>
<use href="#pa2" x="144.8" y="67.9"/>
<use href="#pb2" x="157.2" y="68.1"/>
<use href="#pb2" x="118.6" y="68.2"/>
<use href="#pe2" x="88.0" y="68.2"/>
<use href="#pd2" x="115.3" y="68.4"/>
<use href="#pe2" x="138.2" y="68.4"/>
<use href="#pe2" x="126.9" y="68.4"/>
<use href="#pc2" x="162.3" y="68.4"/>
<use href="#pb2" x="54.7" y="68.5"/>
<use href="#pd2" x="76.1" y="68.6"/>
<use href="#pa2" x="44.3" y="68.7"/>
<use href="#pa2" x="76.2" y="68.8"/>
<use href="#pc2" x="38.1" y="68.9"/>
<use href="#pc2" x="109.5" y="68.9"/>
<use href="#pc2" x="90.9" y="68.9"/>
<use href="#pa2" x="129.0" y="68.9"/>
<use href="#pd2" x="32.9" y="69.0"/>
<use href="#pb2" x="102.1" y="69.0"/>
<use href="#pa2" x="86.8" y="69.0"/>
<use href="#pb2" x="133.4" y="69.1"/>
<use href="#pa2" x="66.4" y="69.1"/>
<use href="#pb2" x="166.0" y="69.2"/>
<use href="#pb2" x="152.9" y="69.2"/>
<use href="#pe2" x="131.5" y="69.4"/>
<use href="#pb2" x="76.0" y="69.4"/>
<use href="#pb2" x="79.3" y="69.5"/>
<use href="#pb2" x="47.9" y="69.5"/>
<use href="#pb2" x="109.4" y="69.6"/>
<use href="#pc2" x="152.3" y="69.7"/>
<use href="#pe2" x="128.8" y="69.7"/>
<use href="#pb2" x="146.0" y="69.7"/>
<use href="#pa2" x="123.0" y="69.9"/>
<use href="#pc2" x="149.5" y="70.0"/>
<use href="#pb2" x="44.9" y="70.0"/>
<use href="#pd2" x="116.8" y="70.0"/>
<use href="#pa2" x="84.1" y="70.2"/>
<use href="#pc2" x="117.1" y="70.2"/>
<use href="#pa2" x="42.8" y="70.3"/>
<use href="#pc2" x="161.6" y="70.4"/>
<use href="#pc2" x="116.0" y="70.4"/>
<use href="#pb2" x="45.0" y="70.4"/>
<use href="#pb2" x="98.4" y="70.5"/>
<use href="#pb2" x="138.9" y="70.5"/>
<use href="#pb2" x="91.2" y="70.5"/>
<use href="#pc2" x="72.5" y="70.5"/>
<use href="#pc2" x="43.5" y="70.6"/>
<use href="#pc2" x="103.9" y="70.6"/>
<use href="#pe2" x="35.4" y="70.6"/>
<use href="#pa2" x="158.6" y="70.7"/>
<use href="#pc2" x="38.0" y="70.7"/>
<use href="#pb2" x="113.7" y="71.1"/>
<use href="#pd2" x="146.2" y="71.2"/>
<use href="#pd2" x="101.5" y="71.2"/>
<use href="#pc2" x="90.5" y="71.3"/>
<use href="#pb2" x="44.7" y="71.3"/>
<use href="#pa2" x="60.7" y="71.3"/>
<use href="#pc2" x="120.2" y="71.3"/>
<use href="#pc2" x="114.6" y="71.4"/>
<use href="#pd2" x="74.1" y="71.4"/>
<use href="#pd2" x="72.1" y="71.5"/>
<use href="#pe2" x="98.6" y="71.5"/>
<use href="#pd2" x="102.6" y="71.5"/>
<use href="#pd2" x="88.5" y="71.5"/>
<use href="#pc2" x="121.6" y="71.7"/>
<use href="#pc2" x="60.4" y="72.0"/>
<use href="#pe2" x="159.9" y="72.0"/>
<use href="#pd2" x="110.7" y="72.0"/>
<use href="#pb2" x="67.8" y="72.2"/>
<use href="#pa2" x="94.4" y="72.3"/>
<use href="#pc2" x="86.8" y="72.4"/>
<use href="#pc2" x="151.0" y="72.5"/>
<use href="#pb2" x="162.9" y="72.5"/>
<use href="#pa2" x="146.7" y="72.6"/>
<use href="#pd2" x="66.7" y="72.6"/>
<use href="#pb2" x="149.3" y="72.7"/>
<use href="#pd2" x="135.1" y="72.7"/>
<use href="#pa2" x="147.7" y="72.8"/>
<use href="#pc2" x="141.3" y="72.8"/>
<use href="#pb2" x="110.8" y="72.9"/>
<use href="#pb2" x="155.3" y="72.9"/>
<use href="#pa2" x="52.4" y="73.0"/>
<use href="#pc2" x="123.2" y="73.0"/>
<use href="#pb2" x="126.7" y="73.1"/>
<use href="#pe2" x="165.4" y="73.1"/>
<use href="#pc2" x="138.0" y="73.1"/>
<use href="#pa2" x="81.6" y="73.2"/>
<use href="#pb2" x="116.1" y="73.2"/>
<use href="#pd2" x="46.1" y="73.3"/>
<use href="#pd2" x="94.8" y="73.3"/>
<use href="#pc2" x="148.7" y="73.4"/>
<use href="#pa2" x="131.3" y="73.4"/>
<use href="#pb2" x="166.4" y="73.5"/>
<use href="#pd2" x="152.1" y="73.5"/>
<use href="#pe2" x="33.8" y="73.5"/>
<use href="#pb2" x="71.5" y="73.6"/>
<use href="#pc2" x="80.4" y="73.6"/>
<use href="#pb2" x="109.8" y="73.6"/>
<use href="#pa2" x="85.0" y="73.6"/>
<use href="#pc2" x="48.8" y="73.7"/>
<use href="#pa2" x="61.3" y="73.7"/>
<use href="#pd2" x="127.0" y="73.8"/>
<use href="#pc2" x="163.3" y="73.8"/>
<use href="#pe2" x="155.7" y="73.8"/>
<use href="#pa2" x="94.5" y="73.8"/>
<use href="#pb2" x="163.1" y="73.9"/>
<use href="#pe2" x="164.1" y="73.9"/>
<use href="#pc2" x="104.0" y="74.0"/>
<use href="#pb2" x="129.8" y="74.1"/>
<use href="#pc2" x="47.0" y="74.1"/>
<use href="#pb2" x="47.2" y="74.2"/>
<use href="#pb2" x="122.1" y="74.4"/>
<use href="#pc2" x="117.0" y="74.4"/>
<use href="#pd2" x="82.8" y="74.4"/>
<use href="#pc2" x="57.0" y="74.5"/>
<use href="#pb2" x="40.1" y="74.6"/>
<use href="#pe2" x="162.9" y="74.6"/>
<use href="#pb2" x="33.2" y="74.8"/>
<use href="#pd2" x="115.0" y="74.9"/>
<use href="#pa2" x="104.6" y="75.0"/>
<use href="#pc2" x="105.0" y="75.0"/>
<use href="#pc2" x="168.7" y="75.0"/>
<use href="#pc2" x="116.8" y="75.0"/>
<use href="#pc2" x="27.8" y="75.1"/>
<use href="#pb2" x="156.8" y="75.1"/>
<use href="#pb2" x="121.4" y="75.2"/>
<use href="#pc2" x="87.5" y="75.3"/>
<use href="#pd2" x="53.8" y="75.3"/>
<use href="#pc2" x="162.9" y="75.3"/>
<use href="#pa2" x="115.7" y="75.4"/>
<use href="#pe2" x="111.3" y="75.4"/>
<use href="#pc2" x="148.8" y="75.4"/>
<use href="#pa2" x="42.6" y="75.5"/>
<use href="#pa2" x="32.6" y="75.5"/>
<use href="#pe2" x="61.0" y="75.6"/>
<use href="#pb2" x="96.5" y="75.7"/>
<use href="#pb2" x="57.1" y="75.7"/>
<use href="#pb2" x="52.5" y="75.7"/>
<use href="#pa3" x="149.2" y="75.9"/>
<use href="#pe3" x="66.4" y="75.9"/>
<use href="#pa3" x="139.5" y="75.9"/>
<use href="#pc3" x="33.1" y="76.0"/>
<use href="#pb3" x="77.1" y="76.1"/>
<use href="#pa3" x="25.7" y="76.1"/>
<use href="#pd3" x="52.9" y="76.2"/>
<use href="#pa3" x="36.1" y="76.3"/>
<use href="#pb3" x="74.1" y="76.3"/>
<use href="#pa3" x="90.3" y="76.5"/>
<use href="#pd3" x="102.8" y="76.5"/>
<use href="#pc3" x="32.4" y="76.6"/>
<use href="#pb3" x="127.5" y="76.7"/>
<use href="#pb3" x="126.6" y="76.7"/>
<use href="#pb3" x="118.2" y="76.7"/>
<use href="#pc3" x="36.5" y="76.7"/>
<use href="#pc3" x="154.3" y="76.7"/>
<use href="#pa3" x="163.1" y="76.8"/>
<use href="#pd3" x="155.3" y="76.9"/>
<use href="#pa3" x="118.5" y="76.9"/>
<use href="#pb3" x="170.0" y="77.0"/>
<use href="#pa3" x="122.6" y="77.0"/>
<use href="#pa3" x="148.8" y="77.1"/>
<use href="#pa3" x="132.9" y="77.1"/>
<use href="#pe3" x="86.9" y="77.1"/>
<use href="#pa3" x="36.8" y="77.2"/>
<use href="#pd3" x="37.7" y="77.2"/>
<use href="#pc3" x="151.7" y="77.3"/>
<use href="#pb3" x="80.3" y="77.3"/>
<use href="#pe3" x="145.7" y="77.3"/>
<use href="#pa3" x="154.5" y="77.5"/>
<use href="#pb3" x="118.6" y="77.5"/>
<use href="#pa3" x="89.8" y="77.5"/>
<use href="#pa3" x="49.6" y="77.5"/>
<use href="#pe3" x="97.4" y="77.6"/>
<use href="#pc3" x="58.7" y="77.6"/>
<use href="#pd3" x="115.5" y="77.6"/>
<use href="#pa3" x="85.0" y="77.7"/>
<use href="#pa3" x="161.2" y="77.7"/>
<use href="#pd3" x="149.1" y="77.8"/>
<use href="#pb3" x="125.2" y="77.8"/>
<use href="#pc3" x="89.2" y="77.9"/>
<use href="#pd3" x="159.2" y="77.9"/>
<use href="#pa3" x="47.3" y="77.9"/>
<use href="#pb3" x="143.6" y="78.0"/>
<use href="#pa3" x="53.0" y="78.0"/>
<use href="#pe3" x="141.9" y="78.0"/>
<use href="#pc3" x="146.7" y="78.0"/>
<use href="#pc3" x="117.0" y="78.0"/>
<use href="#pa3" x="124.3" y="78.1"/>
<use href="#pa3" x="49.3" y="78.1"/>
<use href="#pb3" x="78.7" y="78.4"/>
<use href="#pc3" x="89.0" y="78.4"/>
<use href="#pa3" x="97.3" y="78.4"/>
<use href="#pc3" x="33.4" y="78.4"/>
<use href="#pb3" x="87.6" y="78.5"/>
<use href="#pd3" x="125.6" y="78.5"/>
<use href="#pc3" x="81.7" y="78.6"/>
<use href="#pd3" x="26.6" y="78.6"/>
<use href="#pb3" x="69.3" y="78.7"/>
<use href="#pa3" x="123.5" y="78.7"/>
<use href="#pb3" x="64.9" y="78.7"/>
<use href="#pa3" x="135.7" y="78.8"/>
<use href="#pe3" x="45.6" y="78.9"/>
<use href="#pd3" x="139.6" y="78.9"/>
<use href="#pb3" x="164.1" y="79.0"/>
<use href="#pe3" x="111.1" y="79.0"/>
<use href="#pb3" x="156.6" y="79.0"/>
<use href="#pb3" x="42.5" y="79.1"/>
<use href="#pd3" x="146.6" y="79.2"/>
<use href="#pc3" x="81.0" y="79.3"/>
<use href="#pa3" x="49.4" y="79.3"/>
<use href="#pa3" x="88.1" y="79.3"/>
<use href="#pb3" x="74.4" y="79.4"/>
<use href="#pb3" x="123.9" y="79.4"/>
<use href="#pb3" x="160.8" y="79.4"/>
<use href="#pb3" x="160.9" y="79.4"/>
<use href="#pc3" x="145.8" y="79.5"/>
<use href="#pb3" x="78.7" y="79.5"/>
<use href="#pc3" x="26.0" y="79.5"/>
<use href="#pb3" x="104.1" y="79.6"/>
<use href="#pc3" x="160.9" y="79.6"/>
<use href="#pd3" x="156.7" y="79.6"/>
<use href="#pc3" x="25.9" y="79.7"/>
<use href="#pe3" x="108.9" y="79.7"/>
<use href="#pa3" x="145.6" y="79.8"/>
<use href="#pb3" x="98.1" y="79.9"/>
<use href="#pa3" x="119.5" y="80.0"/>
<use href="#pc3" x="60.9" y="80.1"/>
<use href="#pb3" x="60.6" y="80.2"/>
<use href="#pc3" x="73.6" y="80.3"/>
<use href="#pe3" x="107.3" y="80.3"/>
<use href="#pa3" x="133.1" y="80.3"/>
<use href="#pa3" x="69.1" y="80.4"/>
<use href="#pb3" x="101.6" y="80.4"/>
<use href="#pc3" x="115.0" y="80.4"/>
<use href="#pe3" x="95.4" y="80.4"/>
<use href="#pa3" x="158.1" y="80.5"/>
<use href="#pb3" x="138.2" y="80.5"/>
<use href="#pc3" x="103.8" y="80.6"/>
<use href="#pa3" x="36.8" y="80.6"/>
<use href="#pa3" x="71.7" y="80.6"/>
<use href="#pc3" x="161.1" y="80.7"/>
<use href="#pa3" x="61.5" y="80.8"/>
<use href="#pb3" x="85.1" y="80.9"/>
<use href="#pa3" x="102.8" y="80.9"/>
<use href="#pb3" x="109.2" y="81.0"/>
<use href="#pd3" x="142.4" y="81.0"/>
<use href="#pb3" x="119.9" y="81.0"/>
<use href="#pa3" x="93.4" y="81.0"/>
<use href="#pa3" x="28.7" y="81.1"/>
<use href="#pb3" x="56.5" y="81.1"/>
<use href="#pb3" x="133.1" y="81.4"/>
<use href="#pe3" x="42.9" y="81.5"/>
<use href="#pa3" x="55.7" y="81.5"/>
<use href="#pb3" x="70.4" y="81.5"/>
<use href="#pc3" x="131.2" y="81.6"/>
<use href="#pe3" x="26.0" y="81.6"/>
<use href="#pd3" x="114.5" y="81.6"/>
<use href="#pa3" x="169.2" y="81.6"/>
<use href="#pc3" x="94.5" y="82.0"/>
<use href="#pa3" x="147.4" y="82.1"/>
<use href="#pc3" x="106.9" y="82.2"/>
<use href="#pc3" x="51.7" y="82.3"/>
<use href="#pe3" x="40.5" y="82.3"/>
<use href="#pa3" x="148.9" y="82.4"/>
<use href="#pa3" x="99.4" y="82.5"/>
<use href="#pb3" x="96.6" y="82.6"/>
<use href="#pd3" x="150.7" y="82.6"/>
<use href="#pc3" x="75.5" y="82.7"/>
<use href="#pb3" x="76.9" y="82.8"/>
<use href="#pc3" x="56.6" y="82.8"/>
<use href="#pa3" x="90.3" y="82.9"/>
<use href="#pe3" x="29.1" y="83.0"/>
<use href="#pc3" x="114.6" y="83.0"/>
<use href="#pb3" x="67.2" y="83.1"/>
<use href="#pc3" x="153.7" y="83.1"/>
<use href="#pd3" x="170.5" y="83.2"/>
<use href="#pa3" x="168.2" y="83.2"/>
<use href="#pa3" x="87.9" y="83.4"/>
<use href="#pb3" x="159.9" y="83.5"/>
<use href="#pb3" x="120.7" y="83.7"/>
<use href="#pb3" x="111.6" y="83.7"/>
<use href="#pa3" x="49.6" y="83.8"/>
<use href="#pa3" x="49.0" y="83.8"/>
<use href="#pd3" x="32.4" y="83.9"/>
<use href="#pe3" x="47.6" y="83.9"/>
<use href="#pb3" x="160.7" y="83.9"/>
<use href="#pc3" x="63.0" y="83.9"/>
<use href="#pc3" x="86.8" y="84.0"/>
<use href="#pc3" x="46.3" y="84.1"/>
<use href="#pd3" x="108.5" y="84.1"/>
<use href="#pe3" x="155.9" y="84.2"/>
<use href="#pb3" x="103.9" y="84.3"/>
<use href="#pc3" x="138.1" y="84.3"/>
<use href="#pb3" x="22.4" y="84.3"/>
<use href="#pb3" x="109.3" y="84.4"/>
<use href="#pc3" x="139.3" y="84.5"/>
<use href="#pa3" x="63.9" y="84.5"/>
<use href="#pd3" x="57.3" y="84.5"/>
<use href="#pb3" x="58.5" y="84.6"/>
<use href="#pc3" x="44.2" y="84.6"/>
<use href="#pb3" x="165.2" y="84.7"/>
<use href="#pa3" x="120.1" y="84.8"/>
<use href="#pa3" x="51.7" y="84.8"/>
<use href="#pa3" x="99.1" y="84.9"/>
<use href="#pa3" x="120.8" y="84.9"/>
<use href="#pd3" x="164.1" y="84.9"/>
<use href="#pa3" x="91.1" y="84.9"/>
<use href="#pa3" x="123.0" y="85.0"/>
<use href="#pc3" x="154.1" y="85.0"/>
<use href="#pc3" x="162.9" y="85.1"/>
<use href="#pd3" x="151.5" y="85.1"/>
<use href="#pa3" x="149.2" y="85.1"/>
<use href="#pa3" x="116.6" y="85.1"/>
<use href="#pb3" x="165.7" y="85.3"/>
<use href="#pc3" x="112.8" y="85.3"/>
<use href="#pc3" x="170.8" y="85.3"/>
<use href="#pd3" x="86.3" y="85.4"/>
<use href="#pa3" x="138.4" y="85.4"/>
<use href="#pa3" x="28.6" y="85.4"/>
<use href="#pe3" x="136.7" y="85.5"/>
<use href="#pc3" x="122.5" y="85.6"/>
<use href="#pa3" x="50.2" y="85.8"/>
<use href="#pc3" x="99.6" y="86.0"/>
<use href="#pa3" x="98.0" y="86.0"/>
<use href="#pa3" x="49.5" y="86.1"/>
<use href="#pc3" x="64.1" y="86.1"/>
<use href="#pd3" x="125.8" y="86.1"/>
<use href="#pb3" x="30.5" y="86.1"/>
<use href="#pc3" x="78.0" y="86.2"/>
<use href="#pe3" x="55.7" y="86.2"/>
<use href="#pa3" x="125.1" y="86.2"/>
<use href="#pd3" x="107.0" y="86.3"/>
<use href="#pb3" x="70.1" y="86.3"/>
<use href="#pa3" x="63.4" y="86.4"/>
<use href="#pd3" x="30.8" y="86.4"/>
<use href="#pb3" x="55.5" y="86.4"/>
<use href="#pc3" x="166.8" y="86.5"/>
<use href="#pb3" x="35.9" y="86.6"/>
<use href="#pb3" x="138.0" y="86.7"/>
<use href="#pc3" x="151.0" y="86.7"/>
<use href="#pd3" x="124.9" y="86.9"/>
<use href="#pc3" x="171.1" y="86.9"/>
<use href="#pa3" x="77.6" y="86.9"/>
<use href="#pb3" x="167.8" y="86.9"/>
<use href="#pc3" x="142.5" y="87.0"/>
<use href="#pb3" x="168.2" y="87.0"/>
<use href="#pd3" x="59.9" y="87.1"/>
<use href="#pd3" x="52.8" y="87.2"/>
<use href="#pc3" x="104.2" y="87.2"/>
<use href="#pa3" x="132.6" y="87.5"/>
<use href="#pb3" x="29.8" y="87.6"/>
<use href="#pa3" x="152.4" y="87.6"/>
<use href="#pa3" x="149.3" y="87.7"/>
<use href="#pb3" x="131.7" y="87.8"/>
<use href="#pe3" x="22.9" y="87.8"/>
<use href="#pc3" x="147.1" y="87.8"/>
<use href="#pc3" x="53.9" y="87.8"/>
<use href="#pb3" x="113.4" y="87.9"/>
<use href="#pa3" x="76.8" y="87.9"/>
<use href="#pc3" x="51.0" y="88.0"/>
<use href="#pd3" x="121.2" y="88.0"/>
<use href="#pb3" x="120.1" y="88.1"/>
<use href="#pc3" x="116.2" y="88.1"/>
<use href="#pc3" x="131.8" y="88.1"/>
<use href="#pc3" x="171.6" y="88.2"/>
<use href="#pb3" x="48.1" y="88.3"/>
<use href="#pb3" x="30.5" y="88.3"/>
<use href="#pd3" x="92.8" y="88.3"/>
<use href="#pa3" x="144.7" y="88.4"/>
<use href="#pa3" x="144.9" y="88.4"/>
<use href="#pa3" x="58.4" y="88.4"/>
<use href="#pc3" x="127.0" y="88.4"/>
<use href="#pd3" x="32.0" y="88.6"/>
<use href="#pe3" x="92.2" y="88.6"/>
<use href="#pb3" x="171.6" y="88.7"/>
<use href="#pc3" x="62.2" y="88.7"/>
<use href="#pb3" x="122.1" y="88.7"/>
<use href="#pc3" x="169.8" y="88.7"/>
<use href="#pa3" x="78.7" y="88.8"/>
<use href="#pc3" x="74.5" y="88.8"/>
<use href="#pa3" x="74.3" y="88.9"/>
<use href="#pa3" x="88.3" y="88.9"/>
<use href="#pb3" x="20.6" y="88.9"/>
<use href="#pa3" x="50.0" y="88.9"/>
<use href="#pb3" x="72.0" y="89.1"/>
<use href="#pd3" x="160.4" y="89.1"/>
<use href="#pc3" x="74.3" y="89.1"/>
<use href="#pb3" x="150.1" y="89.1"/>
<use href="#pc3" x="46.7" y="89.1"/>
<use href="#pb3" x="83.3" y="89.2"/>
<use href="#pc3" x="167.5" y="89.2"/>
<use href="#pd3" x="53.6" y="89.2"/>
<use href="#pb3" x="160.5" y="89.3"/>
<use href="#pc3" x="81.4" y="89.3"/>
<use href="#pc3" x="114.1" y="89.3"/>
<use href="#pa3" x="133.6" y="89.3"/>
<use href="#pa3" x="109.4" y="89.3"/>
<use href="#pe3" x="126.1" y="89.5"/>
<use href="#pe3" x="131.5" y="89.5"/>
<use href="#pb3" x="111.2" y="89.7"/>
<use href="#pb3" x="21.8" y="89.7"/>
<use href="#pc3" x="153.6" y="89.8"/>
<use href="#pb3" x="78.7" y="89.9"/>
<use href="#pc3" x="172.3" y="89.9"/>
<use href="#pb3" x="112.4" y="90.0"/>
<use href="#pc3" x="141.7" y="90.2"/>
<use href="#pe3" x="47.2" y="90.2"/>
<use href="#pc3" x="35.0" y="90.2"/>
<use href="#pa3" x="161.9" y="90.2"/>
<use href="#pa3" x="114.2" y="90.3"/>
<use href="#pe3" x="44.0" y="90.3"/>
<use href="#pc3" x="155.0" y="90.4"/>
<use href="#pb3" x="27.5" y="90.4"/>
<use href="#pe3" x="122.0" y="90.5"/>
<use href="#pd3" x="123.6" y="90.6"/>
<use href="#pb3" x="123.2" y="90.6"/>
<use href="#pd3" x="104.2" y="90.7"/>
<use href="#pb3" x="82.3" y="90.7"/>
<use href="#pc3" x="30.3" y="90.7"/>
<use href="#pc3" x="44.3" y="90.8"/>
<use href="#pa3" x="64.4" y="90.8"/>
<use href="#pb3" x="96.6" y="90.8"/>
<use href="#pa3" x="116.6" y="90.9"/>
<use href="#pb3" x="164.2" y="91.0"/>
<use href="#pa3" x="125.1" y="91.0"/>
<use href="#pb3" x="91.4" y="91.1"/>
<use href="#pe3" x="116.4" y="91.1"/>
<use href="#pd3" x="148.4" y="91.1"/>
<use href="#pb3" x="85.9" y="91.1"/>
<use href="#pa3" x="126.8" y="91.1"/>
<use href="#pc3" x="131.7" y="91.3"/>
<use href="#pd3" x="115.1" y="91.4"/>
<use href="#pe3" x="30.2" y="91.4"/>
<use href="#pb3" x="118.7" y="91.4"/>
<use href="#pc3" x="158.9" y="91.5"/>
<use href="#pc3" x="108.7" y="91.6"/>
<use href="#pa3" x="57.6" y="91.7"/>
<use href="#pc3" x="61.4" y="91.8"/>
<use href="#pb3" x="114.9" y="91.8"/>
<use href="#pb3" x="118.6" y="91.8"/>
<use href="#pa3" x="133.1" y="91.8"/>
<use href="#pa3" x="90.2" y="91.8"/>
<use href="#pa3" x="155.9" y="91.9"/>
<use href="#pd3" x="146.0" y="91.9"/>
<use href="#pb3" x="39.2" y="92.0"/>
<use href="#pe3" x="130.5" y="92.1"/>
<use href="#pe3" x="64.2" y="92.1"/>
<use href="#pc3" x="131.7" y="92.2"/>
<use href="#pd3" x="60.1" y="92.3"/>
<use href="#pc3" x="108.8" y="92.3"/>
<use href="#pd3" x="43.5" y="92.5"/>
<use href="#pc3" x="50.5" y="92.5"/>
<use href="#pb3" x="70.6" y="92.7"/>
<use href="#pa3" x="88.2" y="92.7"/>
<use href="#pb3" x="80.0" y="92.7"/>
<use href="#pd3" x="24.5" y="92.7"/>
<use href="#pe3" x="166.5" y="92.7"/>
<use href="#pa3" x="76.3" y="92.8"/>
<use href="#pc3" x="59.6" y="92.8"/>
<use href="#pb3" x="62.4" y="92.8"/>
<use href="#pc3" x="148.8" y="92.9"/>
<use href="#pb3" x="111.2" y="92.9"/>
<use href="#pc3" x="55.8" y="92.9"/>
<use href="#pb3" x="90.8" y="92.9"/>
<use href="#pa3" x="157.5" y="92.9"/>
<use href="#pc3" x="74.3" y="92.9"/>
<use href="#pb3" x="27.6" y="93.0"/>
<use href="#pc3" x="38.5" y="93.0"/>
<use href="#pa3" x="64.0" y="93.0"/>
<use href="#pd3" x="127.5" y="93.0"/>
<use href="#pa3" x="33.3" y="93.1"/>
<use href="#pe3" x="64.7" y="93.1"/>
<use href="#pa3" x="149.6" y="93.2"/>
<use href="#pc3" x="56.7" y="93.3"/>
<use href="#pd3" x="158.5" y="93.4"/>
<use href="#pb3" x="34.1" y="93.4"/>
<use href="#pb3" x="33.8" y="93.4"/>
<use href="#pa3" x="127.2" y="93.5"/>
<use href="#pd3" x="126.0" y="93.5"/>
<use href="#pc3" x="170.2" y="93.6"/>
<use href="#pd3" x="137.7" y="93.6"/>
<use href="#pb3" x="79.2" y="93.8"/>
<use href="#pb3" x="155.4" y="93.8"/>
<use href="#pb3" x="44.9" y="93.9"/>
<use href="#pa3" x="128.8" y="93.9"/>
<use href="#pa3" x="33.3" y="93.9"/>
<use href="#pe3" x="167.1" y="94.0"/>
<use href="#pb3" x="174.6" y="94.1"/>
<use href="#pd3" x="172.5" y="94.1"/>
<use href="#pb3" x="32.8" y="94.2"/>
<use href="#pe3" x="43.6" y="94.3"/>
<use href="#pa3" x="61.8" y="94.3"/>
<use href="#pa3" x="68.5" y="94.4"/>
<use href="#pb3" x="101.6" y="94.4"/>
<use href="#pc3" x="40.3" y="94.5"/>
<use href="#pc3" x="102.3" y="94.5"/>
<use href="#pb3" x="134.0" y="94.6"/>
<use href="#pe3" x="131.7" y="94.6"/>
<use href="#pa3" x="71.4" y="94.7"/>
<use href="#pc3" x="110.9" y="94.8"/>
<use href="#pb3" x="52.2" y="95.0"/>
<use href="#pa3" x="97.6" y="95.0"/>
<use href="#pc3" x="139.3" y="95.0"/>
<use href="#pb3" x="113.8" y="95.3"/>
<use href="#pa3" x="123.0" y="95.4"/>
<use href="#pd3" x="55.2" y="95.4"/>
<use href="#pd3" x="84.8" y="95.5"/>
<use href="#pd3" x="39.3" y="95.6"/>
<use href="#pb3" x="51.9" y="95.7"/>
<use href="#pc3" x="170.8" y="95.8"/>
<use href="#pb3" x="82.5" y="95.8"/>
<use href="#pd3" x="85.0" y="95.8"/>
<use href="#pd3" x="92.9" y="95.9"/>
<use href="#pd3" x="21.7" y="95.9"/>
<use href="#pc3" x="125.6" y="96.0"/>
<use href="#pb3" x="43.9" y="96.0"/>
<use href="#pd3" x="132.3" y="96.0"/>
<use href="#pb3" x="107.1" y="96.1"/>
<use href="#pa3" x="160.8" y="96.2"/>
<use href="#pc3" x="133.7" y="96.2"/>
<use href="#pd3" x="104.5" y="96.2"/>
<use href="#pb3" x="175.1" y="96.4"/>
<use href="#pa3" x="26.8" y="96.4"/>
<use href="#pa3" x="53.5" y="96.4"/>
<use href="#pc3" x="173.9" y="96.5"/>
<use href="#pe3" x="55.2" y="96.7"/>
<use href="#pd3" x="49.4" y="96.7"/>
<use href="#pa3" x="35.7" y="96.9"/>
<use href="#pc3" x="68.6" y="96.9"/>
<use href="#pe3" x="153.0" y="96.9"/>
<use href="#pb3" x="113.2" y="97.0"/>
<use href="#pc3" x="95.7" y="97.0"/>
<use href="#pc3" x="150.7" y="97.1"/>
<use href="#pb3" x="124.7" y="97.1"/>
<use href="#pa3" x="59.9" y="97.1"/>
<use href="#pc3" x="17.6" y="97.2"/>
<use href="#pa3" x="152.2" y="97.3"/>
<use href="#pc3" x="18.0" y="97.3"/>
<use href="#pc3" x="50.8" y="97.7"/>
<path d="M16.3,99.7 L19.72,99.14 L23.04,97.51 L26.11,99.7 L27.88,97.39 L30.91,99.45 L32.8,97.72 L36.53,99.67 L38.4,96.95 L41.03,99.12 L43.27,97.17 L45.38,99.74 L48.32,97.35 L51.6,99.28 L54.47,98.33 L56.36,99.56 L59.86,97.05 L61.54,99.59 L63.47,96.78 L65.63,99.75 L68.81,97.5 L71.47,99.21 L73.48,97.23 L76.51,99.3 L78.51,97.17 L81.6,99.05 L84.44,98.15 L87.67,100.53 L89.37,97.41 L91.51,99.85 L93.7,98.23 L95.55,100.58 L97.78,96.76 L100.77,99.12 L104.54,97.45 L108.2,100.24 L110.36,97.03 L112.71,98.98 L115.76,97.31 L119.38,100.53 L122.84,97.44 L125.44,99.42 L128.06,97.39 L130.43,99.91 L133.11,97.86 L134.73,100.13 L136.5,97.99 L140.3,98.79 L142.8,97.33 L145.95,100.23 L148.96,98.18 L150.75,99.98 L153.29,98.29 L154.9,100.17 L157.85,97.51 L160.01,100.51 L163.14,96.91 L165.23,99.24 L168.93,97.75 L171.26,100.05 L173.44,96.5 L175.68,99.25 L179.2,99.2 L178.19,95.6 L17.4,96.1Z" fill="#3a0c1c"/>
<path d="M231.5,35.3 L340,30.5 L347.84,91.9 L189.17,92.4 Z" fill="#3a0c16"/>
<use href="#pd1" x="334.9" y="30.9"/>
<use href="#pc1" x="332.5" y="31.4"/>
<use href="#pe1" x="339.7" y="31.4"/>
<use href="#pa1" x="318.5" y="31.6"/>
<use href="#pb1" x="321.4" y="31.7"/>
<use href="#pb1" x="317.5" y="31.8"/>
<use href="#pa1" x="326.3" y="31.8"/>
<use href="#pd1" x="336.9" y="31.9"/>
<use href="#pb1" x="325.2" y="32.0"/>
<use href="#pc1" x="321.9" y="32.1"/>
<use href="#pb1" x="335.3" y="32.3"/>
<use href="#pa1" x="335.7" y="32.4"/>
<use href="#pb1" x="300.7" y="32.4"/>
<use href="#pc1" x="330.0" y="32.5"/>
<use href="#pd1" x="302.5" y="32.6"/>
<use href="#pc1" x="322.3" y="32.6"/>
<use href="#pd1" x="325.1" y="33.0"/>
<use href="#pe1" x="296.6" y="33.0"/>
<use href="#pa1" x="340.2" y="33.0"/>
<use href="#pb1" x="297.4" y="33.1"/>
<use href="#pb1" x="332.8" y="33.1"/>
<use href="#pc1" x="291.8" y="33.4"/>
<use href="#pd1" x="309.6" y="33.4"/>
<use href="#pe1" x="321.6" y="33.4"/>
<use href="#pb1" x="323.1" y="33.5"/>
<use href="#pa1" x="287.8" y="33.5"/>
<use href="#pc1" x="330.1" y="33.5"/>
<use href="#pb1" x="277.4" y="33.5"/>
<use href="#pb1" x="278.4" y="33.6"/>
<use href="#pb1" x="328.5" y="33.6"/>
<use href="#pb1" x="328.9" y="33.6"/>
<use href="#pa1" x="293.8" y="33.6"/>
<use href="#pd1" x="291.6" y="33.8"/>
<use href="#pd1" x="289.1" y="33.8"/>
<use href="#pe1" x="308.5" y="33.8"/>
<use href="#pd1" x="333.8" y="33.8"/>
<use href="#pd1" x="302.1" y="33.9"/>
<use href="#pd1" x="295.6" y="34.0"/>
<use href="#pa1" x="300.3" y="34.1"/>
<use href="#pc1" x="312.1" y="34.5"/>
<use href="#pb1" x="299.0" y="34.6"/>
<use href="#pa1" x="258.4" y="34.6"/>
<use href="#pd1" x="273.8" y="34.6"/>
<use href="#pd1" x="268.5" y="34.7"/>
<use href="#pa1" x="316.4" y="34.7"/>
<use href="#pd1" x="329.4" y="34.7"/>
<use href="#pb1" x="247.3" y="34.7"/>
<use href="#pc1" x="290.4" y="34.8"/>
<use href="#pb1" x="277.1" y="34.8"/>
<use href="#pa1" x="259.0" y="34.8"/>
<use href="#pb1" x="270.5" y="34.8"/>
<use href="#pa1" x="325.2" y="34.8"/>
<use href="#pd1" x="294.8" y="34.8"/>
<use href="#pb1" x="298.1" y="35.0"/>
<use href="#pa1" x="340.1" y="35.1"/>
<use href="#pe1" x="253.3" y="35.1"/>
<use href="#pc1" x="324.2" y="35.2"/>
<use href="#pa1" x="251.5" y="35.2"/>
<use href="#pc1" x="259.3" y="35.3"/>
<use href="#pb1" x="270.3" y="35.4"/>
<use href="#pa1" x="326.4" y="35.4"/>
<use href="#pd1" x="339.0" y="35.4"/>
<use href="#pb1" x="259.8" y="35.5"/>
<use href="#pb1" x="337.8" y="35.5"/>
<use href="#pb1" x="334.6" y="35.6"/>
<use href="#pc1" x="238.0" y="35.6"/>
<use href="#pc1" x="338.9" y="35.7"/>
<use href="#pb1" x="307.0" y="35.7"/>
<use href="#pc1" x="328.1" y="35.8"/>
<use href="#pa1" x="296.9" y="35.8"/>
<use href="#pa1" x="302.9" y="35.8"/>
<use href="#pa1" x="267.0" y="35.8"/>
<use href="#pb1" x="275.4" y="35.9"/>
<use href="#pd1" x="288.8" y="36.0"/>
<use href="#pe1" x="277.1" y="36.0"/>
<use href="#pa1" x="232.4" y="36.0"/>
<use href="#pc1" x="306.9" y="36.2"/>
<use href="#pb1" x="232.1" y="36.3"/>
<use href="#pc1" x="265.0" y="36.3"/>
<use href="#pc1" x="273.2" y="36.3"/>
<use href="#pb1" x="240.7" y="36.4"/>
<use href="#pc1" x="318.8" y="36.4"/>
<use href="#pd1" x="233.3" y="36.5"/>
<use href="#pa1" x="284.7" y="36.5"/>
<use href="#pb1" x="247.7" y="36.6"/>
<use href="#pb1" x="322.5" y="36.6"/>
<use href="#pb1" x="326.2" y="36.6"/>
<use href="#pb1" x="321.5" y="36.7"/>
<use href="#pd1" x="237.1" y="36.7"/>
<use href="#pa1" x="318.8" y="36.8"/>
<use href="#pb1" x="308.8" y="36.8"/>
<use href="#pc1" x="279.8" y="36.8"/>
<use href="#pc1" x="241.2" y="36.8"/>
<use href="#pe1" x="279.8" y="37.0"/>
<use href="#pb1" x="319.2" y="37.0"/>
<use href="#pe1" x="316.5" y="37.0"/>
<use href="#pc1" x="329.6" y="37.1"/>
<use href="#pd1" x="252.3" y="37.1"/>
<use href="#pa1" x="295.2" y="37.1"/>
<use href="#pb1" x="237.7" y="37.2"/>
<use href="#pa1" x="339.0" y="37.2"/>
<use href="#pe1" x="312.9" y="37.2"/>
<use href="#pb1" x="241.7" y="37.2"/>
<use href="#pa1" x="257.3" y="37.3"/>
<use href="#pa1" x="312.1" y="37.3"/>
<use href="#pb1" x="335.2" y="37.3"/>
<use href="#pe1" x="301.1" y="37.4"/>
<use href="#pc1" x="316.3" y="37.4"/>
<use href="#pd1" x="274.1" y="37.4"/>
<use href="#pa1" x="301.4" y="37.6"/>
<use href="#pc1" x="333.6" y="37.8"/>
<use href="#pc1" x="260.1" y="38.0"/>
<use href="#pd1" x="254.8" y="38.0"/>
<use href="#pa1" x="291.3" y="38.1"/>
<use href="#pb1" x="295.7" y="38.1"/>
<use href="#pb1" x="251.0" y="38.3"/>
<use href="#pb1" x="249.2" y="38.3"/>
<use href="#pc1" x="233.6" y="38.5"/>
<use href="#pd1" x="293.2" y="38.5"/>
<use href="#pa1" x="283.3" y="38.7"/>
<use href="#pc1" x="293.1" y="38.7"/>
<use href="#pb1" x="334.5" y="38.8"/>
<use href="#pe1" x="328.0" y="38.9"/>
<use href="#pa1" x="296.8" y="39.3"/>
<use href="#pc1" x="239.1" y="39.5"/>
<use href="#pd1" x="273.5" y="39.5"/>
<use href="#pa1" x="294.2" y="39.6"/>
<use href="#pd1" x="281.1" y="39.6"/>
<use href="#pb1" x="317.4" y="39.6"/>
<use href="#pe1" x="251.3" y="39.6"/>
<use href="#pc1" x="326.7" y="39.7"/>
<use href="#pc1" x="234.9" y="39.7"/>
<use href="#pa1" x="252.3" y="39.9"/>
<use href="#pc1" x="340.3" y="40.0"/>
<use href="#pb1" x="306.0" y="40.0"/>
<use href="#pc1" x="286.2" y="40.0"/>
<use href="#pd1" x="253.3" y="40.2"/>
<use href="#pa1" x="249.7" y="40.3"/>
<use href="#pd1" x="325.9" y="40.4"/>
<use href="#pd1" x="304.6" y="40.4"/>
<use href="#pb1" x="288.4" y="40.5"/>
<use href="#pb1" x="287.5" y="40.5"/>
<use href="#pc1" x="313.3" y="40.6"/>
<use href="#pc1" x="237.3" y="40.6"/>
<use href="#pb1" x="340.5" y="40.8"/>
<use href="#pa1" x="289.9" y="40.8"/>
<use href="#pc1" x="274.7" y="40.9"/>
<use href="#pc1" x="293.2" y="40.9"/>
<use href="#pb1" x="301.9" y="41.0"/>
<use href="#pb1" x="255.9" y="41.0"/>
<use href="#pa1" x="279.5" y="41.0"/>
<use href="#pb1" x="280.2" y="41.0"/>
<use href="#pb1" x="291.3" y="41.1"/>
<use href="#pd1" x="336.5" y="41.3"/>
<use href="#pa1" x="252.6" y="41.5"/>
<use href="#pd1" x="326.5" y="41.5"/>
<use href="#pb1" x="232.8" y="41.6"/>
<use href="#pc1" x="239.1" y="41.6"/>
<use href="#pd1" x="320.9" y="41.7"/>
<use href="#pa1" x="325.7" y="41.8"/>
<use href="#pa1" x="306.8" y="41.8"/>
<use href="#pb1" x="243.2" y="41.8"/>
<use href="#pa1" x="308.5" y="41.9"/>
<use href="#pb1" x="264.0" y="42.0"/>
<use href="#pd1" x="270.8" y="42.0"/>
<use href="#pa1" x="296.5" y="42.0"/>
<use href="#pa1" x="277.7" y="42.1"/>
<use href="#pc1" x="261.7" y="42.1"/>
<use href="#pb1" x="326.8" y="42.2"/>
<use href="#pb1" x="234.3" y="42.2"/>
<use href="#pc1" x="324.1" y="42.3"/>
<use href="#pb1" x="245.0" y="42.3"/>
<use href="#pd1" x="231.8" y="42.3"/>
<use href="#pb1" x="320.4" y="42.5"/>
<use href="#pa1" x="272.2" y="42.5"/>
<use href="#pa1" x="284.6" y="42.5"/>
<use href="#pc1" x="252.4" y="42.6"/>
<use href="#pb1" x="266.1" y="42.7"/>
<use href="#pc1" x="339.1" y="42.8"/>
<use href="#pa1" x="330.0" y="42.9"/>
<use href="#pd1" x="226.8" y="42.9"/>
<use href="#pc1" x="333.4" y="43.0"/>
<use href="#pb1" x="281.4" y="43.0"/>
<use href="#pa1" x="263.5" y="43.1"/>
<use href="#pb1" x="315.9" y="43.1"/>
<use href="#pc1" x="230.3" y="43.2"/>
<use href="#pa1" x="227.9" y="43.2"/>
<use href="#pa1" x="227.2" y="43.2"/>
<use href="#pc1" x="293.4" y="43.3"/>
<use href="#pd1" x="329.9" y="43.3"/>
<use href="#pa1" x="280.0" y="43.3"/>
<use href="#pb1" x="305.0" y="43.3"/>
<use href="#pa1" x="267.4" y="43.4"/>
<use href="#pa1" x="323.0" y="43.4"/>
<use href="#pc1" x="327.3" y="43.5"/>
<use href="#pc1" x="309.2" y="43.5"/>
<use href="#pc1" x="310.6" y="43.6"/>
<use href="#pd1" x="285.9" y="43.6"/>
<use href="#pe1" x="327.7" y="43.6"/>
<use href="#pb1" x="299.2" y="43.7"/>
<use href="#pc1" x="315.2" y="43.7"/>
<use href="#pb1" x="330.1" y="43.7"/>
<use href="#pd1" x="305.4" y="43.7"/>
<use href="#pd1" x="307.6" y="43.8"/>
<use href="#pa1" x="314.2" y="43.8"/>
<use href="#pc1" x="318.0" y="43.8"/>
<use href="#pa1" x="337.5" y="43.9"/>
<use href="#pa1" x="328.3" y="43.9"/>
<use href="#pc1" x="253.8" y="44.0"/>
<use href="#pc1" x="304.8" y="44.0"/>
<use href="#pa1" x="265.1" y="44.1"/>
<use href="#pa1" x="330.6" y="44.2"/>
<use href="#pd1" x="299.6" y="44.2"/>
<use href="#pa1" x="317.1" y="44.2"/>
<use href="#pd1" x="288.0" y="44.3"/>
<use href="#pc1" x="289.9" y="44.3"/>
<use href="#pb1" x="283.8" y="44.3"/>
<use href="#pa1" x="321.8" y="44.4"/>
<use href="#pd1" x="335.5" y="44.5"/>
<use href="#pa1" x="338.4" y="44.6"/>
<use href="#pd1" x="225.8" y="44.6"/>
<use href="#pd1" x="292.6" y="44.7"/>
<use href="#pb1" x="263.0" y="44.7"/>
<use href="#pa1" x="288.7" y="44.7"/>
<use href="#pb1" x="288.9" y="44.7"/>
<use href="#pc1" x="253.6" y="44.8"/>
<use href="#pe1" x="233.0" y="44.8"/>
<use href="#pa1" x="299.4" y="45.0"/>
<use href="#pa1" x="320.3" y="45.0"/>
<use href="#pc1" x="310.4" y="45.1"/>
<use href="#pb1" x="317.0" y="45.2"/>
<use href="#pc1" x="324.4" y="45.2"/>
<use href="#pd1" x="301.3" y="45.3"/>
<use href="#pb1" x="298.0" y="45.3"/>
<use href="#pa1" x="263.0" y="45.3"/>
<use href="#pd1" x="254.1" y="45.3"/>
<use href="#pb1" x="289.6" y="45.3"/>
<use href="#pc1" x="340.5" y="45.4"/>
<use href="#pc1" x="297.5" y="45.4"/>
<use href="#pb1" x="289.3" y="45.5"/>
<use href="#pd1" x="324.7" y="45.5"/>
<use href="#pc1" x="228.7" y="45.5"/>
<use href="#pb1" x="224.1" y="45.6"/>
<use href="#pa1" x="234.5" y="45.7"/>
<use href="#pa1" x="318.8" y="45.7"/>
<use href="#pc1" x="315.1" y="45.8"/>
<use href="#pb1" x="339.9" y="45.9"/>
<use href="#pc1" x="277.3" y="46.0"/>
<use href="#pc1" x="277.2" y="46.0"/>
<use href="#pc1" x="253.1" y="46.0"/>
<use href="#pc1" x="245.7" y="46.0"/>
<use href="#pc1" x="316.5" y="46.1"/>
<use href="#pb1" x="241.7" y="46.1"/>
<use href="#pc1" x="236.5" y="46.1"/>
<use href="#pb1" x="235.9" y="46.2"/>
<use href="#pc1" x="226.4" y="46.2"/>
<use href="#pd1" x="309.4" y="46.2"/>
<use href="#pd1" x="328.8" y="46.3"/>
<use href="#pa1" x="303.6" y="46.3"/>
<use href="#pc1" x="270.4" y="46.3"/>
<use href="#pc1" x="268.6" y="46.4"/>
<use href="#pe1" x="290.8" y="46.5"/>
<use href="#pc1" x="234.7" y="46.5"/>
<use href="#pc1" x="320.9" y="46.5"/>
<use href="#pa1" x="227.7" y="46.6"/>
<use href="#pd1" x="239.4" y="46.6"/>
<use href="#pe1" x="246.8" y="46.6"/>
<use href="#pd1" x="256.6" y="46.7"/>
<use href="#pc1" x="301.7" y="46.8"/>
<use href="#pc1" x="314.0" y="46.8"/>
<use href="#pa1" x="254.5" y="46.9"/>
<use href="#pc1" x="278.7" y="46.9"/>
<use href="#pc1" x="263.4" y="47.0"/>
<use href="#pd1" x="275.7" y="47.0"/>
<use href="#pc1" x="271.8" y="47.1"/>
<use href="#pd1" x="263.1" y="47.2"/>
<use href="#pb1" x="238.1" y="47.3"/>
<use href="#pa1" x="319.6" y="47.3"/>
<use href="#pd1" x="293.0" y="47.3"/>
<use href="#pc1" x="229.6" y="47.3"/>
<use href="#pc1" x="299.3" y="47.3"/>
<use href="#pa1" x="265.2" y="47.4"/>
<use href="#pc1" x="286.0" y="47.4"/>
<use href="#pb1" x="286.8" y="47.4"/>
<use href="#pb1" x="341.8" y="47.5"/>
<use href="#pe1" x="265.6" y="47.5"/>
<use href="#pc1" x="325.0" y="47.5"/>
<use href="#pa1" x="271.1" y="47.7"/>
<use href="#pd1" x="226.3" y="47.7"/>
<use href="#pb1" x="283.6" y="47.7"/>
<use href="#pd1" x="265.8" y="47.8"/>
<use href="#pa1" x="247.4" y="47.9"/>
<use href="#pc1" x="236.3" y="47.9"/>
<use href="#pb1" x="335.0" y="47.9"/>
<use href="#pa1" x="309.4" y="47.9"/>
<use href="#pb1" x="333.9" y="48.0"/>
<use href="#pd1" x="258.5" y="48.1"/>
<use href="#pa1" x="283.5" y="48.2"/>
<use href="#pa1" x="265.7" y="48.3"/>
<use href="#pb1" x="222.3" y="48.3"/>
<use href="#pb1" x="287.6" y="48.3"/>
<use href="#pc1" x="238.8" y="48.4"/>
<use href="#pb1" x="282.9" y="48.5"/>
<use href="#pb1" x="331.1" y="48.6"/>
<use href="#pb1" x="222.4" y="48.6"/>
<use href="#pb1" x="302.9" y="48.6"/>
<use href="#pa1" x="308.9" y="48.6"/>
<use href="#pa1" x="246.6" y="48.6"/>
<use href="#pb1" x="227.8" y="48.7"/>
<use href="#pb1" x="331.0" y="48.8"/>
<use href="#pc1" x="334.5" y="48.8"/>
<use href="#pc1" x="266.7" y="48.8"/>
<use href="#pc1" x="290.9" y="48.9"/>
<use href="#pc1" x="306.1" y="49.0"/>
<use href="#pb1" x="270.1" y="49.1"/>
<use href="#pd1" x="251.6" y="49.1"/>
<use href="#pc1" x="315.8" y="49.3"/>
<use href="#pd1" x="242.4" y="49.5"/>
<use href="#pd1" x="282.7" y="49.6"/>
<use href="#pa1" x="261.6" y="49.6"/>
<use href="#pd1" x="316.8" y="49.8"/>
<use href="#pa1" x="321.8" y="49.9"/>
<use href="#pe1" x="340.5" y="50.0"/>
<use href="#pa1" x="304.2" y="50.1"/>
<use href="#pb1" x="313.1" y="50.1"/>
<use href="#pe1" x="321.9" y="50.1"/>
<use href="#pc1" x="304.0" y="50.1"/>
<use href="#pa2" x="336.8" y="50.2"/>
<use href="#pb2" x="275.7" y="50.2"/>
<use href="#pd2" x="311.0" y="50.3"/>
<use href="#pe2" x="340.2" y="50.4"/>
<use href="#pa2" x="319.9" y="50.4"/>
<use href="#pb2" x="296.8" y="50.4"/>
<use href="#pc2" x="255.5" y="50.5"/>
<use href="#pb2" x="266.6" y="50.5"/>
<use href="#pc2" x="329.6" y="50.5"/>
<use href="#pb2" x="322.2" y="50.7"/>
<use href="#pd2" x="296.9" y="50.7"/>
<use href="#pc2" x="294.9" y="50.7"/>
<use href="#pc2" x="282.8" y="50.7"/>
<use href="#pb2" x="241.2" y="50.7"/>
<use href="#pa2" x="342.5" y="50.7"/>
<use href="#pb2" x="279.3" y="50.8"/>
<use href="#pb2" x="277.8" y="50.9"/>
<use href="#pb2" x="243.1" y="50.9"/>
<use href="#pd2" x="281.6" y="50.9"/>
<use href="#pc2" x="237.2" y="51.0"/>
<use href="#pe2" x="248.1" y="51.0"/>
<use href="#pa2" x="262.1" y="51.0"/>
<use href="#pa2" x="338.8" y="51.0"/>
<use href="#pd2" x="273.4" y="51.0"/>
<use href="#pb2" x="275.5" y="51.1"/>
<use href="#pa2" x="286.7" y="51.3"/>
<use href="#pc2" x="317.4" y="51.3"/>
<use href="#pa2" x="324.4" y="51.4"/>
<use href="#pa2" x="234.0" y="51.4"/>
<use href="#pc2" x="228.2" y="51.4"/>
<use href="#pc2" x="282.3" y="51.5"/>
<use href="#pb2" x="329.8" y="51.5"/>
<use href="#pc2" x="277.4" y="51.5"/>
<use href="#pc2" x="279.2" y="51.5"/>
<use href="#pb2" x="253.9" y="51.6"/>
<use href="#pb2" x="278.8" y="51.6"/>
<use href="#pc2" x="245.1" y="51.7"/>
<use href="#pc2" x="227.5" y="51.7"/>
<use href="#pb2" x="315.1" y="51.7"/>
<use href="#pc2" x="235.5" y="51.9"/>
<use href="#pc2" x="280.0" y="52.0"/>
<use href="#pb2" x="337.7" y="52.1"/>
<use href="#pd2" x="310.6" y="52.1"/>
<use href="#pa2" x="247.2" y="52.2"/>
<use href="#pb2" x="318.8" y="52.2"/>
<use href="#pa2" x="337.8" y="52.3"/>
<use href="#pb2" x="322.5" y="52.4"/>
<use href="#pd2" x="250.8" y="52.4"/>
<use href="#pc2" x="301.9" y="52.4"/>
<use href="#pa2" x="295.7" y="52.4"/>
<use href="#pa2" x="289.4" y="52.5"/>
<use href="#pe2" x="332.2" y="52.5"/>
<use href="#pc2" x="286.6" y="52.6"/>
<use href="#pa2" x="272.1" y="52.6"/>
<use href="#pd2" x="335.4" y="52.7"/>
<use href="#pc2" x="260.1" y="52.9"/>
<use href="#pc2" x="250.7" y="53.0"/>
<use href="#pb2" x="276.0" y="53.0"/>
<use href="#pd2" x="292.2" y="53.1"/>
<use href="#pa2" x="288.1" y="53.2"/>
<use href="#pd2" x="342.2" y="53.3"/>
<use href="#pb2" x="242.3" y="53.3"/>
<use href="#pb2" x="267.1" y="53.3"/>
<use href="#pe2" x="333.7" y="53.4"/>
<use href="#pc2" x="288.2" y="53.4"/>
<use href="#pd2" x="225.1" y="53.5"/>
<use href="#pd2" x="259.6" y="53.7"/>
<use href="#pd2" x="341.5" y="53.7"/>
<use href="#pa2" x="250.6" y="53.7"/>
<use href="#pc2" x="251.9" y="53.8"/>
<use href="#pc2" x="288.0" y="53.9"/>
<use href="#pc2" x="232.1" y="54.0"/>
<use href="#pc2" x="240.4" y="54.0"/>
<use href="#pc2" x="287.6" y="54.0"/>
<use href="#pc2" x="289.9" y="54.1"/>
<use href="#pd2" x="333.4" y="54.1"/>
<use href="#pa2" x="326.0" y="54.2"/>
<use href="#pb2" x="273.4" y="54.2"/>
<use href="#pb2" x="262.1" y="54.2"/>
<use href="#pb2" x="285.5" y="54.4"/>
<use href="#pc2" x="277.0" y="54.5"/>
<use href="#pb2" x="232.6" y="54.5"/>
<use href="#pa2" x="342.9" y="54.5"/>
<use href="#pb2" x="305.4" y="54.5"/>
<use href="#pa2" x="280.2" y="54.6"/>
<use href="#pb2" x="221.2" y="54.6"/>
<use href="#pa2" x="265.4" y="54.8"/>
<use href="#pa2" x="240.1" y="54.8"/>
<use href="#pd2" x="260.6" y="54.9"/>
<use href="#pd2" x="240.9" y="54.9"/>
<use href="#pa2" x="296.3" y="55.0"/>
<use href="#pa2" x="229.9" y="55.1"/>
<use href="#pb2" x="326.4" y="55.2"/>
<use href="#pb2" x="327.8" y="55.2"/>
<use href="#pe2" x="297.3" y="55.3"/>
<use href="#pb2" x="238.3" y="55.3"/>
<use href="#pc2" x="277.9" y="55.3"/>
<use href="#pd2" x="335.5" y="55.3"/>
<use href="#pb2" x="319.0" y="55.3"/>
<use href="#pa2" x="289.1" y="55.4"/>
<use href="#pc2" x="260.6" y="55.4"/>
<use href="#pe2" x="332.3" y="55.5"/>
<use href="#pe2" x="267.5" y="55.5"/>
<use href="#pc2" x="233.7" y="55.6"/>
<use href="#pb2" x="233.3" y="55.6"/>
<use href="#pa2" x="266.2" y="55.8"/>
<use href="#pa2" x="241.1" y="55.8"/>
<use href="#pe2" x="288.7" y="55.9"/>
<use href="#pd2" x="262.6" y="55.9"/>
<use href="#pd2" x="325.7" y="56.2"/>
<use href="#pb2" x="293.8" y="56.3"/>
<use href="#pc2" x="267.3" y="56.3"/>
<use href="#pa2" x="256.2" y="56.3"/>
<use href="#pa2" x="332.6" y="56.4"/>
<use href="#pb2" x="246.0" y="56.4"/>
<use href="#pa2" x="326.0" y="56.4"/>
<use href="#pc2" x="301.8" y="56.4"/>
<use href="#pc2" x="221.8" y="56.5"/>
<use href="#pb2" x="218.3" y="56.6"/>
<use href="#pe2" x="261.9" y="56.6"/>
<use href="#pd2" x="303.4" y="56.7"/>
<use href="#pc2" x="254.1" y="56.7"/>
<use href="#pc2" x="322.2" y="56.7"/>
<use href="#pb2" x="294.5" y="56.8"/>
<use href="#pe2" x="256.6" y="56.8"/>
<use href="#pc2" x="255.0" y="56.8"/>
<use href="#pa2" x="260.6" y="56.8"/>
<use href="#pe2" x="233.3" y="56.9"/>
<use href="#pc2" x="313.4" y="57.0"/>
<use href="#pa2" x="272.9" y="57.0"/>
<use href="#pc2" x="278.8" y="57.0"/>
<use href="#pb2" x="339.5" y="57.0"/>
<use href="#pb2" x="326.8" y="57.1"/>
<use href="#pa2" x="270.3" y="57.3"/>
<use href="#pa2" x="248.9" y="57.3"/>
<use href="#pd2" x="279.6" y="57.4"/>
<use href="#pb2" x="257.2" y="57.4"/>
<use href="#pa2" x="254.6" y="57.5"/>
<use href="#pe2" x="260.1" y="57.5"/>
<use href="#pa2" x="339.3" y="57.5"/>
<use href="#pb2" x="335.0" y="57.5"/>
<use href="#pa2" x="296.0" y="57.5"/>
<use href="#pa2" x="229.2" y="57.6"/>
<use href="#pe2" x="244.2" y="57.7"/>
<use href="#pc2" x="322.7" y="57.7"/>
<use href="#pc2" x="284.2" y="57.8"/>
<use href="#pd2" x="214.8" y="57.9"/>
<use href="#pc2" x="301.4" y="58.0"/>
<use href="#pa2" x="312.7" y="58.0"/>
<use href="#pa2" x="264.0" y="58.1"/>
<use href="#pd2" x="235.5" y="58.1"/>
<use href="#pa2" x="261.6" y="58.2"/>
<use href="#pc2" x="336.6" y="58.2"/>
<use href="#pb2" x="224.8" y="58.2"/>
<use href="#pa2" x="329.2" y="58.3"/>
<use href="#pc2" x="330.4" y="58.4"/>
<use href="#pd2" x="319.2" y="58.4"/>
<use href="#pb2" x="334.5" y="58.5"/>
<use href="#pa2" x="253.0" y="58.5"/>
<use href="#pa2" x="259.5" y="58.6"/>
<use href="#pa2" x="243.7" y="58.7"/>
<use href="#pe2" x="234.6" y="58.7"/>
<use href="#pa2" x="258.0" y="58.8"/>
<use href="#pd2" x="280.9" y="58.8"/>
<use href="#pe2" x="276.4" y="58.8"/>
<use href="#pc2" x="292.0" y="58.9"/>
<use href="#pb2" x="294.6" y="58.9"/>
<use href="#pb2" x="332.8" y="58.9"/>
<use href="#pd2" x="252.7" y="58.9"/>
<use href="#pc2" x="328.9" y="58.9"/>
<use href="#pa2" x="215.0" y="59.0"/>
<use href="#pa2" x="307.5" y="59.0"/>
<use href="#pd2" x="244.3" y="59.0"/>
<use href="#pd2" x="214.7" y="59.0"/>
<use href="#pd2" x="309.7" y="59.1"/>
<use href="#pa2" x="314.4" y="59.1"/>
<use href="#pa2" x="240.1" y="59.2"/>
<use href="#pb2" x="296.7" y="59.2"/>
<use href="#pa2" x="313.4" y="59.3"/>
<use href="#pb2" x="242.0" y="59.4"/>
<use href="#pc2" x="287.4" y="59.6"/>
<use href="#pb2" x="281.6" y="59.6"/>
<use href="#pc2" x="273.8" y="59.6"/>
<use href="#pb2" x="335.2" y="59.6"/>
<use href="#pa2" x="298.8" y="59.7"/>
<use href="#pa2" x="244.7" y="59.7"/>
<use href="#pd2" x="274.0" y="59.7"/>
<use href="#pd2" x="217.9" y="59.8"/>
<use href="#pc2" x="257.3" y="59.8"/>
<use href="#pa2" x="245.0" y="59.8"/>
<use href="#pa2" x="259.7" y="59.9"/>
<use href="#pa2" x="306.5" y="60.0"/>
<use href="#pd2" x="239.0" y="60.0"/>
<use href="#pd2" x="311.1" y="60.2"/>
<use href="#pb2" x="258.9" y="60.3"/>
<use href="#pd2" x="298.0" y="60.3"/>
<use href="#pa2" x="225.0" y="60.3"/>
<use href="#pa2" x="250.4" y="60.3"/>
<use href="#pa2" x="294.4" y="60.4"/>
<use href="#pb2" x="340.1" y="60.4"/>
<use href="#pd2" x="221.3" y="60.4"/>
<use href="#pb2" x="224.2" y="60.5"/>
<use href="#pc2" x="318.0" y="60.6"/>
<use href="#pb2" x="257.4" y="60.6"/>
<use href="#pb2" x="329.9" y="60.6"/>
<use href="#pc2" x="291.0" y="60.7"/>
<use href="#pc2" x="323.6" y="60.7"/>
<use href="#pc2" x="319.9" y="60.8"/>
<use href="#pc2" x="342.0" y="60.8"/>
<use href="#pe2" x="324.7" y="60.8"/>
<use href="#pe2" x="220.7" y="60.9"/>
<use href="#pc2" x="270.8" y="60.9"/>
<use href="#pb2" x="290.0" y="60.9"/>
<use href="#pd2" x="299.6" y="61.0"/>
<use href="#pa2" x="304.0" y="61.0"/>
<use href="#pb2" x="231.3" y="61.0"/>
<use href="#pa2" x="228.6" y="61.2"/>
<use href="#pc2" x="337.0" y="61.2"/>
<use href="#pa2" x="232.2" y="61.3"/>
<use href="#pb2" x="281.8" y="61.4"/>
<use href="#pc2" x="278.9" y="61.5"/>
<use href="#pa2" x="308.7" y="61.5"/>
<use href="#pa2" x="277.5" y="61.5"/>
<use href="#pe2" x="252.4" y="61.5"/>
<use href="#pa2" x="238.4" y="61.6"/>
<use href="#pa2" x="249.9" y="61.6"/>
<use href="#pa2" x="260.5" y="61.6"/>
<use href="#pc2" x="321.8" y="61.7"/>
<use href="#pb2" x="224.0" y="61.8"/>
<use href="#pb2" x="216.0" y="61.8"/>
<use href="#pd2" x="265.2" y="61.9"/>
<use href="#pd2" x="250.3" y="61.9"/>
<use href="#pb2" x="296.0" y="62.0"/>
<use href="#pa2" x="240.7" y="62.0"/>
<use href="#pa2" x="225.6" y="62.0"/>
<use href="#pc2" x="269.0" y="62.1"/>
<use href="#pa2" x="329.4" y="62.1"/>
<use href="#pb2" x="265.7" y="62.1"/>
<use href="#pe2" x="302.0" y="62.2"/>
<use href="#pb2" x="333.5" y="62.3"/>
<use href="#pb2" x="222.9" y="62.3"/>
<use href="#pb2" x="294.0" y="62.4"/>
<use href="#pa2" x="296.2" y="62.4"/>
<use href="#pb2" x="303.6" y="62.4"/>
<use href="#pb2" x="259.2" y="62.4"/>
<use href="#pd2" x="316.0" y="62.5"/>
<use href="#pb2" x="334.8" y="62.5"/>
<use href="#pc2" x="227.3" y="62.6"/>
<use href="#pe2" x="259.4" y="62.6"/>
<use href="#pd2" x="259.2" y="62.7"/>
<use href="#pb2" x="333.7" y="62.8"/>
<use href="#pd2" x="300.9" y="62.9"/>
<use href="#pa2" x="295.7" y="62.9"/>
<use href="#pc2" x="334.3" y="62.9"/>
<use href="#pc2" x="281.1" y="63.0"/>
<use href="#pb2" x="253.0" y="63.1"/>
<use href="#pd2" x="319.6" y="63.2"/>
<use href="#pa2" x="277.8" y="63.2"/>
<use href="#pd2" x="330.4" y="63.2"/>
<use href="#pc2" x="308.6" y="63.3"/>
<use href="#pc2" x="283.1" y="63.3"/>
<use href="#pa2" x="302.2" y="63.3"/>
<use href="#pa2" x="322.1" y="63.4"/>
<use href="#pd2" x="265.3" y="63.5"/>
<use href="#pb2" x="314.5" y="63.6"/>
<use href="#pc2" x="307.9" y="63.7"/>
<use href="#pa2" x="283.6" y="63.8"/>
<use href="#pe2" x="263.5" y="63.8"/>
<use href="#pb2" x="303.7" y="63.8"/>
<use href="#pe2" x="285.1" y="63.9"/>
<use href="#pc2" x="315.8" y="63.9"/>
<use href="#pa2" x="261.9" y="63.9"/>
<use href="#pb2" x="239.3" y="64.2"/>
<use href="#pc2" x="251.5" y="64.2"/>
<use href="#pd2" x="250.1" y="64.2"/>
<use href="#pe2" x="302.1" y="64.3"/>
<use href="#pa2" x="279.0" y="64.3"/>
<use href="#pc2" x="268.1" y="64.4"/>
<use href="#pe2" x="245.9" y="64.4"/>
<use href="#pa2" x="278.1" y="64.5"/>
<use href="#pb2" x="244.5" y="64.5"/>
<use href="#pa2" x="302.0" y="64.5"/>
<use href="#pc2" x="283.0" y="64.6"/>
<use href="#pd2" x="262.5" y="64.7"/>
<use href="#pc2" x="300.4" y="64.7"/>
<use href="#pa2" x="340.5" y="64.7"/>
<use href="#pc2" x="277.8" y="64.7"/>
<use href="#pb2" x="227.2" y="64.8"/>
<use href="#pc2" x="234.3" y="64.9"/>
<use href="#pa2" x="254.1" y="64.9"/>
<use href="#pe2" x="232.2" y="64.9"/>
<use href="#pb2" x="254.9" y="65.0"/>
<use href="#pa2" x="230.0" y="65.0"/>
<use href="#pb2" x="260.6" y="65.0"/>
<use href="#pc2" x="293.2" y="65.0"/>
<use href="#pb2" x="270.2" y="65.1"/>
<use href="#pa2" x="301.4" y="65.1"/>
<use href="#pb2" x="325.8" y="65.2"/>
<use href="#pc2" x="210.6" y="65.2"/>
<use href="#pb2" x="261.2" y="65.2"/>
<use href="#pc2" x="297.4" y="65.3"/>
<use href="#pd2" x="267.0" y="65.4"/>
<use href="#pa2" x="295.7" y="65.4"/>
<use href="#pa2" x="342.0" y="65.5"/>
<use href="#pd2" x="329.8" y="65.5"/>
<use href="#pd2" x="276.5" y="65.5"/>
<use href="#pa2" x="290.9" y="65.5"/>
<use href="#pa2" x="335.0" y="65.6"/>
<use href="#pe2" x="332.9" y="65.7"/>
<use href="#pa2" x="211.2" y="65.7"/>
<use href="#pe2" x="240.4" y="65.7"/>
<use href="#pa2" x="336.5" y="65.8"/>
<use href="#pb2" x="294.0" y="65.9"/>
<use href="#pb2" x="227.1" y="66.0"/>
<use href="#pb2" x="289.9" y="66.0"/>
<use href="#pa2" x="289.4" y="66.2"/>
<use href="#pe2" x="307.4" y="66.2"/>
<use href="#pc2" x="243.0" y="66.3"/>
<use href="#pb2" x="271.1" y="66.3"/>
<use href="#pc2" x="319.1" y="66.3"/>
<use href="#pb2" x="253.5" y="66.4"/>
<use href="#pb2" x="254.3" y="66.6"/>
<use href="#pb2" x="238.2" y="66.6"/>
<use href="#pb2" x="222.0" y="66.6"/>
<use href="#pc2" x="260.5" y="66.8"/>
<use href="#pb2" x="287.3" y="66.8"/>
<use href="#pd2" x="228.4" y="66.8"/>
<use href="#pb2" x="225.9" y="66.9"/>
<use href="#pe2" x="299.5" y="66.9"/>
<use href="#pb2" x="238.1" y="66.9"/>
<use href="#pc2" x="260.3" y="67.0"/>
<use href="#pd2" x="305.0" y="67.0"/>
<use href="#pd2" x="274.8" y="67.2"/>
<use href="#pb2" x="315.1" y="67.2"/>
<use href="#pa2" x="269.6" y="67.3"/>
<use href="#pb2" x="334.5" y="67.4"/>
<use href="#pb2" x="319.4" y="67.6"/>
<use href="#pb2" x="343.6" y="67.6"/>
<use href="#pe2" x="227.5" y="67.6"/>
<use href="#pc2" x="275.6" y="67.6"/>
<use href="#pa2" x="267.0" y="67.6"/>
<use href="#pb2" x="243.6" y="67.7"/>
<use href="#pb2" x="264.4" y="67.7"/>
<use href="#pc2" x="275.1" y="67.8"/>
<use href="#pb2" x="332.5" y="67.8"/>
<use href="#pb2" x="221.9" y="67.8"/>
<use href="#pd2" x="338.5" y="67.9"/>
<use href="#pa2" x="262.3" y="67.9"/>
<use href="#pb2" x="217.6" y="67.9"/>
<use href="#pc2" x="305.6" y="68.0"/>
<use href="#pa2" x="262.5" y="68.0"/>
<use href="#pa2" x="301.3" y="68.0"/>
<use href="#pa2" x="268.0" y="68.0"/>
<use href="#pa2" x="317.1" y="68.1"/>
<use href="#pe2" x="217.6" y="68.1"/>
<use href="#pb2" x="271.8" y="68.1"/>
<use href="#pb2" x="343.5" y="68.1"/>
<use href="#pa2" x="308.0" y="68.2"/>
<use href="#pa2" x="302.9" y="68.3"/>
<use href="#pb2" x="215.9" y="68.4"/>
<use href="#pa2" x="217.9" y="68.5"/>
<use href="#pc2" x="228.4" y="68.5"/>
<use href="#pa2" x="309.2" y="68.5"/>
<use href="#pb2" x="269.3" y="68.6"/>
<use href="#pd2" x="284.7" y="68.6"/>
<use href="#pb2" x="343.0" y="68.6"/>
<use href="#pa2" x="328.5" y="68.6"/>
<use href="#pa2" x="238.9" y="68.6"/>
<use href="#pb2" x="295.3" y="68.7"/>
<use href="#pb2" x="297.4" y="68.7"/>
<use href="#pc2" x="209.9" y="68.8"/>
<use href="#pc2" x="296.7" y="68.8"/>
<use href="#pa2" x="310.2" y="68.9"/>
<use href="#pa2" x="222.9" y="68.9"/>
<use href="#pc2" x="330.2" y="68.9"/>
<use href="#pc2" x="206.8" y="68.9"/>
<use href="#pa2" x="285.3" y="69.0"/>
<use href="#pc2" x="326.1" y="69.0"/>
<use href="#pa2" x="283.2" y="69.0"/>
<use href="#pa2" x="210.7" y="69.0"/>
<use href="#pd2" x="266.4" y="69.1"/>
<use href="#pa2" x="227.1" y="69.2"/>
<use href="#pb2" x="224.6" y="69.3"/>
<use href="#pe2" x="238.5" y="69.4"/>
<use href="#pb2" x="285.7" y="69.4"/>
<use href="#pa2" x="220.8" y="69.5"/>
<use href="#pc2" x="211.6" y="69.5"/>
<use href="#pc2" x="341.3" y="69.6"/>
<use href="#pa2" x="244.1" y="69.6"/>
<use href="#pa2" x="318.0" y="69.7"/>
<use href="#pa2" x="330.4" y="69.8"/>
<use href="#pc2" x="209.2" y="69.8"/>
<use href="#pc2" x="236.5" y="69.9"/>
<use href="#pd2" x="216.1" y="69.9"/>
<use href="#pd2" x="245.6" y="70.0"/>
<use href="#pc2" x="232.0" y="70.2"/>
<use href="#pc2" x="331.7" y="70.2"/>
<use href="#pc2" x="261.2" y="70.3"/>
<use href="#pd2" x="242.4" y="70.3"/>
<use href="#pb2" x="254.3" y="70.4"/>
<use href="#pd2" x="273.9" y="70.4"/>
<use href="#pa2" x="232.4" y="70.4"/>
<use href="#pb2" x="252.1" y="70.4"/>
<use href="#pd2" x="310.8" y="70.5"/>
<use href="#pb2" x="227.8" y="70.5"/>
<use href="#pd2" x="336.5" y="70.5"/>
<use href="#pc2" x="313.2" y="70.5"/>
<use href="#pb2" x="266.1" y="70.6"/>
<use href="#pb2" x="222.6" y="70.6"/>
<use href="#pb2" x="208.8" y="70.6"/>
<use href="#pa2" x="321.6" y="70.6"/>
<use href="#pa2" x="333.2" y="70.6"/>
<use href="#pa2" x="213.8" y="70.6"/>
<use href="#pd2" x="297.9" y="70.7"/>
<use href="#pa2" x="273.5" y="70.8"/>
<use href="#pb2" x="281.3" y="70.8"/>
<use href="#pa2" x="287.0" y="71.1"/>
<use href="#pb2" x="264.6" y="71.2"/>
<use href="#pb2" x="248.5" y="71.2"/>
<use href="#pb2" x="293.6" y="71.2"/>
<use href="#pa2" x="319.4" y="71.2"/>
<use href="#pc2" x="233.7" y="71.3"/>
<use href="#pb2" x="260.0" y="71.4"/>
<use href="#pa2" x="283.3" y="71.4"/>
<use href="#pc2" x="224.2" y="71.4"/>
<use href="#pc2" x="343.8" y="71.5"/>
<use href="#pc2" x="280.4" y="71.6"/>
<use href="#pe2" x="282.8" y="71.7"/>
<use href="#pb2" x="315.6" y="71.7"/>
<use href="#pa2" x="239.2" y="71.7"/>
<use href="#pa2" x="229.9" y="71.8"/>
<use href="#pb2" x="226.6" y="71.8"/>
<use href="#pa2" x="249.2" y="71.9"/>
<use href="#pb2" x="305.9" y="71.9"/>
<use href="#pd2" x="304.5" y="72.1"/>
<use href="#pb2" x="278.0" y="72.1"/>
<use href="#pb2" x="338.4" y="72.1"/>
<use href="#pa2" x="297.4" y="72.1"/>
<use href="#pc2" x="207.8" y="72.1"/>
<use href="#pc2" x="336.1" y="72.2"/>
<use href="#pb2" x="302.5" y="72.2"/>
<use href="#pc2" x="232.6" y="72.3"/>
<use href="#pc2" x="313.0" y="72.3"/>
<use href="#pb2" x="328.1" y="72.3"/>
<use href="#pd2" x="212.1" y="72.5"/>
<use href="#pc2" x="208.5" y="72.5"/>
<use href="#pb2" x="219.0" y="72.6"/>
<use href="#pc2" x="325.2" y="72.7"/>
<use href="#pd2" x="265.7" y="72.7"/>
<use href="#pc2" x="334.4" y="72.8"/>
<use href="#pe2" x="341.4" y="72.8"/>
<use href="#pd2" x="247.1" y="72.8"/>
<use href="#pc2" x="274.5" y="72.9"/>
<use href="#pc2" x="255.8" y="73.0"/>
<use href="#pe2" x="236.4" y="73.0"/>
<use href="#pb2" x="272.0" y="73.1"/>
<use href="#pd3" x="292.3" y="73.1"/>
<use href="#pb3" x="232.0" y="73.2"/>
<use href="#pb3" x="290.2" y="73.3"/>
<use href="#pc3" x="265.6" y="73.3"/>
<use href="#pe3" x="278.0" y="73.3"/>
<use href="#pb3" x="315.3" y="73.3"/>
<use href="#pa3" x="257.3" y="73.3"/>
<use href="#pb3" x="265.2" y="73.5"/>
<use href="#pb3" x="211.1" y="73.5"/>
<use href="#pc3" x="341.2" y="73.5"/>
<use href="#pa3" x="234.5" y="73.5"/>
<use href="#pa3" x="339.3" y="73.6"/>
<use href="#pb3" x="263.3" y="73.6"/>
<use href="#pb3" x="298.3" y="73.6"/>
<use href="#pa3" x="326.9" y="73.6"/>
<use href="#pb3" x="321.1" y="73.8"/>
<use href="#pc3" x="229.3" y="74.0"/>
<use href="#pc3" x="300.7" y="74.0"/>
<use href="#pb3" x="325.7" y="74.0"/>
<use href="#pa3" x="210.3" y="74.0"/>
<use href="#pd3" x="276.3" y="74.1"/>
<use href="#pa3" x="303.1" y="74.1"/>
<use href="#pa3" x="291.0" y="74.1"/>
<use href="#pb3" x="216.0" y="74.2"/>
<use href="#pc3" x="339.4" y="74.2"/>
<use href="#pd3" x="306.9" y="74.2"/>
<use href="#pb3" x="270.6" y="74.3"/>
<use href="#pd3" x="296.7" y="74.3"/>
<use href="#pa3" x="294.0" y="74.5"/>
<use href="#pc3" x="327.6" y="74.5"/>
<use href="#pd3" x="275.9" y="74.6"/>
<use href="#pa3" x="214.3" y="74.6"/>
<use href="#pc3" x="342.6" y="74.6"/>
<use href="#pd3" x="320.3" y="74.6"/>
<use href="#pd3" x="242.5" y="74.6"/>
<use href="#pb3" x="275.3" y="74.6"/>
<use href="#pe3" x="204.5" y="74.7"/>
<use href="#pa3" x="261.2" y="74.7"/>
<use href="#pa3" x="205.1" y="74.8"/>
<use href="#pc3" x="226.6" y="74.8"/>
<use href="#pc3" x="246.7" y="74.9"/>
<use href="#pc3" x="246.0" y="75.0"/>
<use href="#pa3" x="344.3" y="75.1"/>
<use href="#pb3" x="324.8" y="75.1"/>
<use href="#pb3" x="305.6" y="75.2"/>
<use href="#pc3" x="297.0" y="75.3"/>
<use href="#pc3" x="316.1" y="75.3"/>
<use href="#pb3" x="225.3" y="75.6"/>
<use href="#pd3" x="291.1" y="75.6"/>
<use href="#pb3" x="257.3" y="75.6"/>
<use href="#pc3" x="221.5" y="75.7"/>
<use href="#pb3" x="245.3" y="75.8"/>
<use href="#pa3" x="313.9" y="75.9"/>
<use href="#pa3" x="218.7" y="76.0"/>
<use href="#pd3" x="312.4" y="76.0"/>
<use href="#pc3" x="266.4" y="76.1"/>
<use href="#pa3" x="312.4" y="76.3"/>
<use href="#pb3" x="300.3" y="76.3"/>
<use href="#pc3" x="239.0" y="76.3"/>
<use href="#pa3" x="231.2" y="76.4"/>
<use href="#pa3" x="319.8" y="76.4"/>
<use href="#pd3" x="333.3" y="76.5"/>
<use href="#pb3" x="282.2" y="76.5"/>
<use href="#pd3" x="220.3" y="76.5"/>
<use href="#pb3" x="244.4" y="76.6"/>
<use href="#pc3" x="228.4" y="76.6"/>
<use href="#pb3" x="261.1" y="76.6"/>
<use href="#pa3" x="220.5" y="76.6"/>
<use href="#pd3" x="344.0" y="76.7"/>
<use href="#pd3" x="284.4" y="76.7"/>
<use href="#pc3" x="228.2" y="76.7"/>
<use href="#pc3" x="229.4" y="76.7"/>
<use href="#pb3" x="274.0" y="76.8"/>
<use href="#pe3" x="316.0" y="77.0"/>
<use href="#pc3" x="272.6" y="77.0"/>
<use href="#pa3" x="205.2" y="77.0"/>
<use href="#pa3" x="226.5" y="77.1"/>
<use href="#pd3" x="314.0" y="77.1"/>
<use href="#pb3" x="228.3" y="77.2"/>
<use href="#pb3" x="219.7" y="77.2"/>
<use href="#pd3" x="303.6" y="77.3"/>
<use href="#pb3" x="279.5" y="77.3"/>
<use href="#pe3" x="274.8" y="77.4"/>
<use href="#pa3" x="207.2" y="77.4"/>
<use href="#pd3" x="332.7" y="77.4"/>
<use href="#pb3" x="312.9" y="77.4"/>
<use href="#pd3" x="325.4" y="77.6"/>
<use href="#pa3" x="280.8" y="77.7"/>
<use href="#pb3" x="253.7" y="77.7"/>
<use href="#pb3" x="321.4" y="77.7"/>
<use href="#pc3" x="299.7" y="77.8"/>
<use href="#pd3" x="261.3" y="77.8"/>
<use href="#pc3" x="256.8" y="77.8"/>
<use href="#pd3" x="328.4" y="77.9"/>
<use href="#pc3" x="312.3" y="77.9"/>
<use href="#pe3" x="282.9" y="77.9"/>
<use href="#pa3" x="285.8" y="77.9"/>
<use href="#pd3" x="309.3" y="78.0"/>
<use href="#pd3" x="308.4" y="78.0"/>
<use href="#pe3" x="250.2" y="78.0"/>
<use href="#pa3" x="283.9" y="78.1"/>
<use href="#pb3" x="310.0" y="78.1"/>
<use href="#pb3" x="310.3" y="78.1"/>
<use href="#pa3" x="214.1" y="78.1"/>
<use href="#pb3" x="334.3" y="78.2"/>
<use href="#pd3" x="342.3" y="78.2"/>
<use href="#pc3" x="333.8" y="78.3"/>
<use href="#pb3" x="232.4" y="78.3"/>
<use href="#pb3" x="271.1" y="78.3"/>
<use href="#pb3" x="275.7" y="78.4"/>
<use href="#pa3" x="312.3" y="78.4"/>
<use href="#pc3" x="212.7" y="78.5"/>
<use href="#pd3" x="275.2" y="78.5"/>
<use href="#pb3" x="256.4" y="78.6"/>
<use href="#pa3" x="302.8" y="78.7"/>
<use href="#pb3" x="291.7" y="78.7"/>
<use href="#pc3" x="221.6" y="78.8"/>
<use href="#pb3" x="344.6" y="79.0"/>
<use href="#pc3" x="221.5" y="79.0"/>
<use href="#pc3" x="225.7" y="79.1"/>
<use href="#pe3" x="286.0" y="79.1"/>
<use href="#pc3" x="341.9" y="79.2"/>
<use href="#pa3" x="310.3" y="79.3"/>
<use href="#pd3" x="246.0" y="79.3"/>
<use href="#pa3" x="202.4" y="79.3"/>
<use href="#pd3" x="212.5" y="79.4"/>
<use href="#pb3" x="272.8" y="79.5"/>
<use href="#pe3" x="318.3" y="79.5"/>
<use href="#pc3" x="324.2" y="79.8"/>
<use href="#pb3" x="300.0" y="79.8"/>
<use href="#pc3" x="342.4" y="79.8"/>
<use href="#pc3" x="261.4" y="79.9"/>
<use href="#pc3" x="293.0" y="79.9"/>
<use href="#pc3" x="340.6" y="79.9"/>
<use href="#pd3" x="242.5" y="80.0"/>
<use href="#pc3" x="276.7" y="80.0"/>
<use href="#pa3" x="199.4" y="80.0"/>
<use href="#pa3" x="312.1" y="80.0"/>
<use href="#pc3" x="205.6" y="80.0"/>
<use href="#pc3" x="335.3" y="80.0"/>
<use href="#pb3" x="282.6" y="80.1"/>
<use href="#pc3" x="304.8" y="80.2"/>
<use href="#pa3" x="338.0" y="80.2"/>
<use href="#pc3" x="245.0" y="80.3"/>
<use href="#pc3" x="282.8" y="80.3"/>
<use href="#pc3" x="240.5" y="80.4"/>
<use href="#pd3" x="282.6" y="80.5"/>
<use href="#pb3" x="299.9" y="80.5"/>
<use href="#pb3" x="252.2" y="80.5"/>
<use href="#pa3" x="227.6" y="80.6"/>
<use href="#pb3" x="273.3" y="80.6"/>
<use href="#pc3" x="258.0" y="80.8"/>
<use href="#pd3" x="217.2" y="80.8"/>
<use href="#pc3" x="207.7" y="80.8"/>
<use href="#pc3" x="247.5" y="80.9"/>
<use href="#pa3" x="217.9" y="80.9"/>
<use href="#pa3" x="316.2" y="81.0"/>
<use href="#pe3" x="231.7" y="81.1"/>
<use href="#pa3" x="275.6" y="81.1"/>
<use href="#pd3" x="299.0" y="81.2"/>
<use href="#pd3" x="285.8" y="81.2"/>
<use href="#pc3" x="203.3" y="81.3"/>
<use href="#pa3" x="224.2" y="81.3"/>
<use href="#pb3" x="279.0" y="81.3"/>
<use href="#pa3" x="234.0" y="81.4"/>
<use href="#pc3" x="292.9" y="81.5"/>
<use href="#pb3" x="256.0" y="81.5"/>
<use href="#pe3" x="200.1" y="81.5"/>
<use href="#pd3" x="279.0" y="81.5"/>
<use href="#pb3" x="324.9" y="81.6"/>
<use href="#pb3" x="337.9" y="81.6"/>
<use href="#pe3" x="221.2" y="81.7"/>
<use href="#pc3" x="255.1" y="81.8"/>
<use href="#pb3" x="257.9" y="81.8"/>
<use href="#pb3" x="319.4" y="81.8"/>
<use href="#pa3" x="203.8" y="81.9"/>
<use href="#pd3" x="286.7" y="81.9"/>
<use href="#pc3" x="264.0" y="81.9"/>
<use href="#pc3" x="306.9" y="81.9"/>
<use href="#pc3" x="300.2" y="81.9"/>
<use href="#pb3" x="261.8" y="81.9"/>
<use href="#pb3" x="284.3" y="82.0"/>
<use href="#pc3" x="222.1" y="82.0"/>
<use href="#pc3" x="197.3" y="82.1"/>
<use href="#pa3" x="260.7" y="82.1"/>
<use href="#pd3" x="254.2" y="82.2"/>
<use href="#pa3" x="288.0" y="82.3"/>
<use href="#pb3" x="254.4" y="82.3"/>
<use href="#pb3" x="286.0" y="82.3"/>
<use href="#pa3" x="210.0" y="82.4"/>
<use href="#pd3" x="341.2" y="82.6"/>
<use href="#pe3" x="216.4" y="82.8"/>
<use href="#pb3" x="245.2" y="82.8"/>
<use href="#pb3" x="281.4" y="82.9"/>
<use href="#pc3" x="280.4" y="83.0"/>
<use href="#pb3" x="201.7" y="83.1"/>
<use href="#pa3" x="328.1" y="83.2"/>
<use href="#pc3" x="301.3" y="83.2"/>
<use href="#pa3" x="330.0" y="83.3"/>
<use href="#pb3" x="236.8" y="83.3"/>
<use href="#pd3" x="198.6" y="83.3"/>
<use href="#pc3" x="277.1" y="83.4"/>
<use href="#pb3" x="265.6" y="83.4"/>
<use href="#pb3" x="198.6" y="83.4"/>
<use href="#pc3" x="286.0" y="83.4"/>
<use href="#pc3" x="328.1" y="83.5"/>
<use href="#pa3" x="269.1" y="83.5"/>
<use href="#pc3" x="233.8" y="83.5"/>
<use href="#pc3" x="224.4" y="83.6"/>
<use href="#pc3" x="250.9" y="83.7"/>
<use href="#pa3" x="270.2" y="83.8"/>
<use href="#pc3" x="334.7" y="83.8"/>
<use href="#pb3" x="197.9" y="83.8"/>
<use href="#pe3" x="256.7" y="83.9"/>
<use href="#pc3" x="217.7" y="84.0"/>
<use href="#pd3" x="238.8" y="84.0"/>
<use href="#pa3" x="251.4" y="84.1"/>
<use href="#pa3" x="203.8" y="84.2"/>
<use href="#pc3" x="295.5" y="84.3"/>
<use href="#pc3" x="285.1" y="84.3"/>
<use href="#pa3" x="313.9" y="84.4"/>
<use href="#pb3" x="290.5" y="84.5"/>
<use href="#pc3" x="259.9" y="84.5"/>
<use href="#pe3" x="279.4" y="84.5"/>
<use href="#pd3" x="212.7" y="84.5"/>
<use href="#pe3" x="256.7" y="84.6"/>
<use href="#pd3" x="328.9" y="84.6"/>
<use href="#pb3" x="335.2" y="84.8"/>
<use href="#pb3" x="225.9" y="84.8"/>
<use href="#pa3" x="293.4" y="84.8"/>
<use href="#pa3" x="239.1" y="84.8"/>
<use href="#pb3" x="235.6" y="84.9"/>
<use href="#pd3" x="277.2" y="84.9"/>
<use href="#pc3" x="337.3" y="84.9"/>
<use href="#pd3" x="249.2" y="85.0"/>
<use href="#pe3" x="276.4" y="85.0"/>
<use href="#pa3" x="274.4" y="85.0"/>
<use href="#pc3" x="215.4" y="85.1"/>
<use href="#pd3" x="224.8" y="85.1"/>
<use href="#pa3" x="298.0" y="85.1"/>
<use href="#pc3" x="292.9" y="85.2"/>
<use href="#pd3" x="319.7" y="85.2"/>
<use href="#pd3" x="274.0" y="85.3"/>
<use href="#pc3" x="208.1" y="85.5"/>
<use href="#pd3" x="207.4" y="85.6"/>
<use href="#pa3" x="313.0" y="85.6"/>
<use href="#pa3" x="206.7" y="85.7"/>
<use href="#pb3" x="260.7" y="85.7"/>
<use href="#pa3" x="327.2" y="85.8"/>
<use href="#pd3" x="242.3" y="85.8"/>
<use href="#pc3" x="259.6" y="85.9"/>
<use href="#pe3" x="271.1" y="85.9"/>
<use href="#pd3" x="297.5" y="85.9"/>
<use href="#pe3" x="243.5" y="85.9"/>
<use href="#pa3" x="325.8" y="85.9"/>
<use href="#pb3" x="240.7" y="86.0"/>
<use href="#pc3" x="296.2" y="86.1"/>
<use href="#pc3" x="342.4" y="86.1"/>
<use href="#pa3" x="300.8" y="86.1"/>
<use href="#pe3" x="217.7" y="86.1"/>
<use href="#pb3" x="290.9" y="86.2"/>
<use href="#pc3" x="230.6" y="86.2"/>
<use href="#pa3" x="203.7" y="86.2"/>
<use href="#pc3" x="236.8" y="86.3"/>
<use href="#pa3" x="314.3" y="86.3"/>
<use href="#pb3" x="271.0" y="86.4"/>
<use href="#pc3" x="208.8" y="86.5"/>
<use href="#pa3" x="339.2" y="86.6"/>
<use href="#pb3" x="222.8" y="86.6"/>
<use href="#pe3" x="316.5" y="86.7"/>
<use href="#pc3" x="284.4" y="86.8"/>
<use href="#pa3" x="252.9" y="87.0"/>
<use href="#pc3" x="302.2" y="87.0"/>
<use href="#pc3" x="318.4" y="87.0"/>
<use href="#pb3" x="290.7" y="87.1"/>
<use href="#pe3" x="340.1" y="87.1"/>
<use href="#pa3" x="313.9" y="87.1"/>
<use href="#pd3" x="229.3" y="87.2"/>
<use href="#pc3" x="276.4" y="87.3"/>
<use href="#pa3" x="287.0" y="87.5"/>
<use href="#pa3" x="223.2" y="87.8"/>
<use href="#pb3" x="314.6" y="88.1"/>
<use href="#pb3" x="230.2" y="88.1"/>
<use href="#pd3" x="220.6" y="88.2"/>
<use href="#pc3" x="310.8" y="88.2"/>
<use href="#pa3" x="276.7" y="88.2"/>
<use href="#pe3" x="233.5" y="88.2"/>
<use href="#pd3" x="333.8" y="88.2"/>
<use href="#pd3" x="282.8" y="88.3"/>
<use href="#pa3" x="269.2" y="88.3"/>
<use href="#pe3" x="299.4" y="88.3"/>
<use href="#pb3" x="213.6" y="88.4"/>
<use href="#pe3" x="278.9" y="88.4"/>
<use href="#pd3" x="209.2" y="88.6"/>
<use href="#pa3" x="264.7" y="88.6"/>
<use href="#pa3" x="211.2" y="88.7"/>
<use href="#pc3" x="295.6" y="88.8"/>
<use href="#pb3" x="221.8" y="88.9"/>
<use href="#pa3" x="248.0" y="88.9"/>
<use href="#pc3" x="268.6" y="88.9"/>
<use href="#pd3" x="314.0" y="89.1"/>
<use href="#pd3" x="201.4" y="89.1"/>
<use href="#pa3" x="277.4" y="89.3"/>
<use href="#pb3" x="336.9" y="89.4"/>
<use href="#pd3" x="226.9" y="89.4"/>
<use href="#pb3" x="273.9" y="89.8"/>
<use href="#pb3" x="210.5" y="89.8"/>
<use href="#pb3" x="272.5" y="89.8"/>
<use href="#pc3" x="313.7" y="89.9"/>
<use href="#pe3" x="226.1" y="90.1"/>
<use href="#pb3" x="235.8" y="90.1"/>
<use href="#pd3" x="230.5" y="90.1"/>
<use href="#pa3" x="334.3" y="90.2"/>
<use href="#pc3" x="304.2" y="90.2"/>
<use href="#pb3" x="224.2" y="90.2"/>
<use href="#pb3" x="246.9" y="90.3"/>
<use href="#pc3" x="325.0" y="90.3"/>
<use href="#pc3" x="306.4" y="90.4"/>
<use href="#pa3" x="273.6" y="90.4"/>
<use href="#pe3" x="260.3" y="90.4"/>
<use href="#pb3" x="249.3" y="90.5"/>
<use href="#pd3" x="316.1" y="90.5"/>
<use href="#pb3" x="191.4" y="90.6"/>
<use href="#pc3" x="292.3" y="90.6"/>
<use href="#pa3" x="282.4" y="90.6"/>
<use href="#pd3" x="245.8" y="90.6"/>
<use href="#pd3" x="296.4" y="90.7"/>
<use href="#pd3" x="306.0" y="90.8"/>
<use href="#pc3" x="211.6" y="90.8"/>
<use href="#pd3" x="316.5" y="90.8"/>
<use href="#pc3" x="219.8" y="90.8"/>
<use href="#pd3" x="225.0" y="90.9"/>
<use href="#pb3" x="331.2" y="90.9"/>
<use href="#pb3" x="237.3" y="90.9"/>
<use href="#pb3" x="335.0" y="90.9"/>
<use href="#pa3" x="305.3" y="91.0"/>
<use href="#pb3" x="249.4" y="91.0"/>
<use href="#pc3" x="271.5" y="91.0"/>
<use href="#pb3" x="303.0" y="91.0"/>
<use href="#pb3" x="201.8" y="91.1"/>
<use href="#pa3" x="323.6" y="91.1"/>
<use href="#pc3" x="237.7" y="91.2"/>
<use href="#pa3" x="271.4" y="91.2"/>
<use href="#pb3" x="193.9" y="91.2"/>
<use href="#pa3" x="290.0" y="91.4"/>
<use href="#pb3" x="256.3" y="91.5"/>
<use href="#pa3" x="319.9" y="91.5"/>
<use href="#pe3" x="340.1" y="91.6"/>
<use href="#pc3" x="303.0" y="91.6"/>
<use href="#pb3" x="299.9" y="91.6"/>
<use href="#pd3" x="293.3" y="91.7"/>
<use href="#pc3" x="228.3" y="91.8"/>
<use href="#pb3" x="220.1" y="91.8"/>
<use href="#pa3" x="340.2" y="92.0"/>
<use href="#pe3" x="195.1" y="92.2"/>
<use href="#pe3" x="331.1" y="92.2"/>
<use href="#pa3" x="276.5" y="92.2"/>
<use href="#pc3" x="263.1" y="92.4"/>
<use href="#pb3" x="342.6" y="92.5"/>
<use href="#pa3" x="341.2" y="92.6"/>
<use href="#pb3" x="255.5" y="92.7"/>
<use href="#pa3" x="347.5" y="92.7"/>
<use href="#pb3" x="276.4" y="92.7"/>
<use href="#pb3" x="316.8" y="92.7"/>
<use href="#pd3" x="262.5" y="92.8"/>
<use href="#pb3" x="211.0" y="92.9"/>
<use href="#pe3" x="314.2" y="92.9"/>
<use href="#pc3" x="195.2" y="93.0"/>
<use href="#pd3" x="252.5" y="93.1"/>
<use href="#pb3" x="237.0" y="93.2"/>
<use href="#pc3" x="231.4" y="93.2"/>
<use href="#pa3" x="197.1" y="93.3"/>
<path d="M186.8,95.2 L190.9,95.95 L192.92,93.45 L196.08,95.58 L199.38,92.38 L201.32,94.72 L204.16,92.73 L206.7,95.69 L210.28,94.34 L213.26,95.48 L216.96,92.96 L220,95.11 L223.1,94.24 L225.5,95.68 L227.72,92.43 L231.42,95.02 L234.69,93.92 L237.23,94.5 L239.06,92.96 L240.9,94.5 L243.46,92.63 L247.21,95.9 L250.99,93.53 L254.58,95.35 L256.72,92.38 L259.52,96.27 L263.19,93.17 L265.03,95.22 L268.36,93.45 L270.99,95.49 L274.74,93.23 L276.62,96.1 L279.23,93.24 L281.63,95.28 L283.78,93.07 L287.31,94.5 L289.82,92.73 L291.43,94.67 L294.33,93.98 L298.03,94.19 L301.08,92.6 L302.84,95.61 L304.68,93.06 L307.32,95.34 L310.73,94.21 L314.23,94.79 L316.86,93.22 L319.98,95.21 L321.98,92.93 L324.73,96.05 L327.47,93.87 L330.85,94.08 L333.55,92.64 L335.19,95.03 L337.96,91.95 L340,95.17 L343.71,91.98 L346.41,95.55 L348,94.7 L347.84,91.1 L189.17,91.6Z" fill="#3a0c1c"/>
<path d="M379,32.5 L487,31.5 L512,98 L355,99 Z" fill="#4a1a10"/>
<use href="#e1a" x="457.5" y="33.0"/>
<use href="#e3a" x="460.0" y="33.0"/>
<use href="#e1a" x="472.0" y="33.1"/>
<use href="#e1a" x="440.6" y="33.2"/>
<use href="#e3a" x="480.7" y="33.3"/>
<use href="#e1a" x="440.3" y="33.3"/>
<use href="#e1a" x="454.9" y="33.4"/>
<use href="#e3a" x="470.2" y="33.4"/>
<use href="#e3a" x="479.1" y="33.6"/>
<use href="#e1a" x="452.1" y="33.6"/>
<use href="#e2a" x="425.6" y="33.6"/>
<use href="#e4a" x="472.2" y="33.7"/>
<use href="#e1a" x="416.5" y="33.7"/>
<use href="#e2a" x="461.9" y="33.8"/>
<use href="#e4a" x="431.5" y="33.8"/>
<use href="#e4a" x="480.7" y="33.9"/>
<use href="#e2a" x="433.6" y="33.9"/>
<use href="#e3a" x="407.5" y="33.9"/>
<use href="#e3a" x="385.6" y="33.9"/>
<use href="#e1a" x="383.5" y="34.0"/>
<use href="#e3a" x="394.9" y="34.1"/>
<use href="#e3a" x="463.2" y="34.1"/>
<use href="#e2a" x="481.0" y="34.1"/>
<use href="#e3a" x="481.8" y="34.2"/>
<use href="#e3a" x="399.9" y="34.2"/>
<use href="#e2a" x="435.1" y="34.3"/>
<use href="#e2a" x="464.2" y="34.3"/>
<use href="#e2a" x="469.9" y="34.4"/>
<use href="#e3a" x="456.0" y="34.5"/>
<use href="#e2a" x="394.1" y="34.5"/>
<use href="#e2a" x="403.0" y="34.5"/>
<use href="#e3a" x="381.1" y="34.6"/>
<use href="#e4a" x="474.1" y="34.6"/>
<use href="#e1a" x="408.6" y="34.6"/>
<use href="#e1a" x="427.8" y="34.6"/>
<use href="#e3a" x="445.6" y="34.7"/>
<use href="#e4a" x="390.7" y="34.7"/>
<use href="#e3a" x="471.7" y="34.8"/>
<use href="#e3a" x="440.6" y="34.9"/>
<use href="#e1a" x="421.0" y="35.0"/>
<use href="#e2a" x="442.3" y="35.0"/>
<use href="#e3a" x="404.0" y="35.1"/>
<use href="#e2a" x="387.5" y="35.1"/>
<use href="#e4a" x="461.2" y="35.1"/>
<use href="#e2a" x="435.3" y="35.2"/>
<use href="#e3a" x="426.1" y="35.2"/>
<use href="#e1a" x="443.6" y="35.2"/>
<use href="#e1a" x="468.3" y="35.2"/>
<use href="#e3a" x="468.2" y="35.3"/>
<use href="#e2a" x="410.8" y="35.3"/>
<use href="#e3a" x="476.9" y="35.4"/>
<use href="#e3a" x="453.2" y="35.4"/>
<use href="#e2a" x="470.7" y="35.5"/>
<use href="#e2a" x="482.4" y="35.6"/>
<use href="#e2a" x="387.4" y="35.6"/>
<use href="#e1a" x="400.9" y="35.6"/>
<use href="#e3a" x="459.3" y="35.6"/>
<use href="#e3a" x="397.8" y="35.6"/>
<use href="#e3a" x="481.6" y="35.7"/>
<use href="#e3a" x="454.6" y="35.7"/>
<use href="#e2a" x="482.2" y="35.7"/>
<use href="#e2a" x="468.0" y="35.7"/>
<use href="#e2a" x="393.8" y="35.9"/>
<use href="#e1a" x="390.1" y="35.9"/>
<use href="#e3a" x="418.3" y="35.9"/>
<use href="#e1a" x="470.7" y="35.9"/>
<use href="#e3a" x="401.6" y="35.9"/>
<use href="#e1a" x="458.5" y="36.0"/>
<use href="#e1a" x="381.5" y="36.0"/>
<use href="#e1a" x="402.4" y="36.0"/>
<use href="#e4a" x="464.5" y="36.0"/>
<use href="#e2a" x="424.0" y="36.1"/>
<use href="#e1a" x="414.3" y="36.1"/>
<use href="#e3a" x="396.5" y="36.2"/>
<use href="#e2a" x="423.0" y="36.2"/>
<use href="#e2a" x="438.3" y="36.2"/>
<use href="#e2a" x="401.8" y="36.2"/>
<use href="#e3a" x="423.1" y="36.2"/>
<use href="#e1a" x="393.2" y="36.2"/>
<use href="#e1a" x="397.8" y="36.2"/>
<use href="#e1a" x="390.7" y="36.3"/>
<use href="#e3a" x="393.9" y="36.3"/>
<use href="#e1a" x="452.7" y="36.4"/>
<use href="#e2a" x="381.6" y="36.4"/>
<use href="#e2a" x="419.1" y="36.5"/>
<use href="#e4a" x="469.8" y="36.5"/>
<use href="#e3a" x="394.6" y="36.5"/>
<use href="#e3a" x="437.7" y="36.6"/>
<use href="#e4a" x="385.3" y="36.6"/>
<use href="#e1a" x="444.0" y="36.7"/>
<use href="#e4a" x="389.7" y="36.7"/>
<use href="#e1a" x="385.9" y="36.9"/>
<use href="#e3a" x="449.4" y="36.9"/>
<use href="#e2a" x="446.6" y="36.9"/>
<use href="#e1a" x="459.8" y="37.1"/>
<use href="#e1a" x="383.4" y="37.1"/>
<use href="#e1a" x="480.9" y="37.2"/>
<use href="#e4a" x="389.3" y="37.2"/>
<use href="#e1a" x="425.2" y="37.3"/>
<use href="#e3a" x="423.7" y="37.3"/>
<use href="#e1a" x="472.7" y="37.3"/>
<use href="#e3a" x="394.7" y="37.3"/>
<use href="#e3a" x="424.5" y="37.3"/>
<use href="#e1a" x="430.0" y="37.4"/>
<use href="#e4a" x="474.7" y="37.4"/>
<use href="#e3a" x="458.0" y="37.4"/>
<use href="#e2a" x="446.3" y="37.4"/>
<use href="#e1a" x="426.1" y="37.4"/>
<use href="#e2a" x="439.9" y="37.5"/>
<use href="#e1a" x="396.5" y="37.6"/>
<use href="#e3a" x="399.1" y="37.6"/>
<use href="#e1a" x="408.7" y="37.6"/>
<use href="#e1a" x="422.6" y="37.7"/>
<use href="#e2a" x="392.9" y="37.7"/>
<use href="#e1a" x="410.3" y="37.8"/>
<use href="#e1a" x="480.9" y="37.9"/>
<use href="#e4a" x="394.8" y="37.9"/>
<use href="#e4a" x="479.8" y="38.0"/>
<use href="#e1a" x="435.6" y="38.1"/>
<use href="#e3a" x="450.5" y="38.2"/>
<use href="#e1a" x="437.5" y="38.2"/>
<use href="#e2a" x="451.8" y="38.2"/>
<use href="#e4a" x="384.7" y="38.3"/>
<use href="#e1a" x="401.6" y="38.3"/>
<use href="#e4a" x="387.5" y="38.3"/>
<use href="#e3a" x="439.5" y="38.3"/>
<use href="#e2a" x="410.3" y="38.3"/>
<use href="#e3a" x="485.7" y="38.4"/>
<use href="#e2a" x="469.4" y="38.4"/>
<use href="#e1a" x="419.7" y="38.4"/>
<use href="#e2a" x="468.3" y="38.4"/>
<use href="#e3a" x="426.4" y="38.4"/>
<use href="#e1a" x="418.5" y="38.4"/>
<use href="#e2a" x="407.6" y="38.4"/>
<use href="#e3a" x="395.6" y="38.5"/>
<use href="#e3a" x="415.1" y="38.5"/>
<use href="#e4a" x="435.8" y="38.5"/>
<use href="#e3a" x="458.7" y="38.6"/>
<use href="#e1a" x="438.5" y="38.6"/>
<use href="#e1a" x="452.1" y="38.6"/>
<use href="#e2a" x="403.4" y="38.6"/>
<use href="#e2a" x="390.5" y="38.6"/>
<use href="#e4a" x="474.0" y="38.6"/>
<use href="#e3a" x="396.5" y="38.6"/>
<use href="#e1a" x="413.7" y="38.7"/>
<use href="#e3a" x="410.7" y="38.7"/>
<use href="#e3a" x="457.5" y="38.7"/>
<use href="#e2a" x="388.0" y="38.7"/>
<use href="#e4a" x="429.3" y="38.7"/>
<use href="#e3a" x="412.4" y="38.8"/>
<use href="#e3a" x="406.7" y="38.8"/>
<use href="#e2a" x="443.5" y="38.8"/>
<use href="#e2a" x="394.0" y="38.9"/>
<use href="#e1a" x="392.4" y="38.9"/>
<use href="#e3a" x="398.8" y="38.9"/>
<use href="#e1a" x="433.2" y="38.9"/>
<use href="#e3a" x="461.9" y="39.0"/>
<use href="#e1a" x="481.8" y="39.0"/>
<use href="#e2a" x="437.1" y="39.0"/>
<use href="#e2a" x="387.3" y="39.1"/>
<use href="#e3a" x="441.1" y="39.1"/>
<use href="#e4a" x="448.8" y="39.1"/>
<use href="#e1a" x="433.6" y="39.1"/>
<use href="#e1a" x="433.0" y="39.1"/>
<use href="#e3a" x="457.7" y="39.2"/>
<use href="#e3a" x="446.3" y="39.2"/>
<use href="#e4a" x="390.9" y="39.3"/>
<use href="#e3a" x="478.2" y="39.3"/>
<use href="#e4a" x="383.6" y="39.3"/>
<use href="#e3a" x="449.0" y="39.5"/>
<use href="#e1a" x="429.2" y="39.5"/>
<use href="#e3a" x="412.7" y="39.6"/>
<use href="#e3a" x="456.7" y="39.6"/>
<use href="#e4a" x="436.0" y="39.7"/>
<use href="#e3a" x="479.3" y="39.7"/>
<use href="#e1a" x="469.7" y="39.7"/>
<use href="#e3a" x="446.1" y="39.7"/>
<use href="#e1a" x="460.7" y="39.7"/>
<use href="#e1a" x="398.9" y="39.7"/>
<use href="#e3a" x="485.1" y="39.7"/>
<use href="#e2a" x="435.1" y="39.8"/>
<use href="#e1a" x="484.6" y="39.8"/>
<use href="#e4a" x="408.1" y="39.8"/>
<use href="#e2a" x="403.9" y="39.8"/>
<use href="#e2a" x="395.4" y="39.9"/>
<use href="#e2a" x="464.3" y="39.9"/>
<use href="#e2a" x="445.9" y="40.0"/>
<use href="#e2a" x="390.5" y="40.0"/>
<use href="#e1a" x="479.4" y="40.1"/>
<use href="#e3a" x="430.9" y="40.1"/>
<use href="#e2a" x="475.4" y="40.1"/>
<use href="#e3a" x="408.4" y="40.1"/>
<use href="#e1a" x="388.0" y="40.2"/>
<use href="#e4a" x="477.8" y="40.2"/>
<use href="#e2a" x="397.1" y="40.2"/>
<use href="#e2a" x="470.2" y="40.3"/>
<use href="#e3a" x="426.1" y="40.3"/>
<use href="#e4a" x="428.8" y="40.3"/>
<use href="#e2a" x="441.1" y="40.3"/>
<use href="#e2a" x="416.0" y="40.5"/>
<use href="#e1a" x="406.7" y="40.6"/>
<use href="#e4a" x="440.2" y="40.6"/>
<use href="#e3a" x="403.8" y="40.7"/>
<use href="#e2a" x="378.4" y="40.8"/>
<use href="#e2a" x="453.8" y="40.9"/>
<use href="#e3a" x="482.5" y="40.9"/>
<use href="#e1a" x="391.8" y="40.9"/>
<use href="#e2a" x="478.1" y="41.0"/>
<use href="#e4a" x="423.9" y="41.0"/>
<use href="#e1a" x="402.4" y="41.0"/>
<use href="#e2a" x="430.1" y="41.0"/>
<use href="#e3a" x="412.9" y="41.0"/>
<use href="#e2a" x="379.5" y="41.1"/>
<use href="#e3a" x="404.9" y="41.2"/>
<use href="#e2a" x="434.6" y="41.2"/>
<use href="#e2a" x="483.1" y="41.2"/>
<use href="#e3a" x="442.9" y="41.2"/>
<use href="#e4a" x="408.6" y="41.2"/>
<use href="#e2a" x="414.8" y="41.2"/>
<use href="#e2a" x="461.3" y="41.3"/>
<use href="#e3a" x="402.7" y="41.3"/>
<use href="#e2a" x="457.2" y="41.3"/>
<use href="#e1a" x="404.8" y="41.3"/>
<use href="#e2a" x="486.6" y="41.3"/>
<use href="#e1a" x="481.6" y="41.4"/>
<use href="#e1a" x="445.3" y="41.4"/>
<use href="#e1a" x="388.0" y="41.4"/>
<use href="#e1a" x="481.5" y="41.4"/>
<use href="#e2a" x="397.5" y="41.5"/>
<use href="#e2a" x="462.6" y="41.5"/>
<use href="#e1a" x="488.4" y="41.5"/>
<use href="#e4a" x="435.0" y="41.6"/>
<use href="#e2a" x="395.6" y="41.6"/>
<use href="#e2a" x="395.5" y="41.7"/>
<use href="#e1a" x="405.8" y="41.7"/>
<use href="#e4a" x="461.6" y="41.7"/>
<use href="#e4a" x="388.3" y="41.7"/>
<use href="#e3a" x="404.4" y="41.8"/>
<use href="#e2a" x="383.2" y="41.8"/>
<use href="#e1a" x="416.5" y="41.8"/>
<use href="#e1a" x="477.3" y="41.8"/>
<use href="#e2a" x="472.8" y="41.9"/>
<use href="#e4a" x="471.0" y="41.9"/>
<use href="#e1a" x="462.7" y="42.0"/>
<use href="#e2a" x="381.7" y="42.0"/>
<use href="#e2a" x="422.6" y="42.0"/>
<use href="#e1a" x="379.3" y="42.0"/>
<use href="#e1a" x="478.6" y="42.0"/>
<use href="#e4a" x="475.9" y="42.0"/>
<use href="#e4a" x="475.6" y="42.1"/>
<use href="#e2a" x="444.4" y="42.1"/>
<use href="#e2a" x="427.1" y="42.1"/>
<use href="#e1a" x="429.7" y="42.2"/>
<use href="#e4a" x="450.9" y="42.2"/>
<use href="#e2a" x="476.2" y="42.2"/>
<use href="#e1a" x="483.0" y="42.3"/>
<use href="#e1a" x="484.0" y="42.3"/>
<use href="#e4a" x="440.3" y="42.4"/>
<use href="#e1a" x="386.2" y="42.4"/>
<use href="#e2a" x="383.6" y="42.4"/>
<use href="#e1a" x="474.6" y="42.4"/>
<use href="#e1a" x="485.1" y="42.4"/>
<use href="#e1a" x="381.3" y="42.4"/>
<use href="#e2a" x="398.6" y="42.4"/>
<use href="#e2a" x="485.4" y="42.4"/>
<use href="#e4a" x="387.8" y="42.5"/>
<use href="#e4a" x="470.5" y="42.5"/>
<use href="#e1a" x="481.7" y="42.5"/>
<use href="#e2a" x="395.1" y="42.5"/>
<use href="#e2a" x="391.8" y="42.8"/>
<use href="#e3a" x="407.5" y="42.8"/>
<use href="#e1a" x="412.0" y="42.8"/>
<use href="#e1a" x="410.6" y="42.9"/>
<use href="#e4a" x="487.4" y="43.1"/>
<use href="#e4a" x="451.2" y="43.1"/>
<use href="#e1a" x="420.6" y="43.1"/>
<use href="#e1a" x="445.7" y="43.2"/>
<use href="#e1a" x="423.6" y="43.3"/>
<use href="#e1a" x="436.1" y="43.3"/>
<use href="#e1a" x="431.7" y="43.4"/>
<use href="#e1a" x="378.7" y="43.4"/>
<use href="#e4a" x="378.4" y="43.5"/>
<use href="#e2a" x="475.8" y="43.5"/>
<use href="#e4a" x="433.5" y="43.5"/>
<use href="#e1a" x="471.5" y="43.6"/>
<use href="#e1a" x="435.2" y="43.6"/>
<use href="#e1a" x="412.9" y="43.6"/>
<use href="#e4a" x="430.6" y="43.6"/>
<use href="#e1a" x="483.1" y="43.7"/>
<use href="#e1a" x="449.8" y="43.7"/>
<use href="#e4a" x="380.4" y="43.7"/>
<use href="#e1a" x="444.5" y="43.8"/>
<use href="#e2a" x="453.7" y="43.8"/>
<use href="#e1a" x="390.1" y="43.8"/>
<use href="#e1a" x="393.6" y="43.8"/>
<use href="#e1a" x="383.9" y="43.9"/>
<use href="#e3a" x="484.2" y="43.9"/>
<use href="#e1a" x="406.3" y="44.0"/>
<use href="#e1a" x="424.0" y="44.0"/>
<use href="#e2a" x="461.5" y="44.0"/>
<use href="#e2a" x="386.9" y="44.0"/>
<use href="#e4a" x="383.7" y="44.0"/>
<use href="#e2a" x="401.5" y="44.0"/>
<use href="#e1a" x="391.6" y="44.1"/>
<use href="#e4a" x="478.4" y="44.1"/>
<use href="#e1a" x="421.5" y="44.1"/>
<use href="#e3a" x="451.7" y="44.1"/>
<use href="#e2a" x="399.7" y="44.1"/>
<use href="#e4a" x="434.3" y="44.2"/>
<use href="#e2a" x="447.5" y="44.3"/>
<use href="#e4a" x="423.2" y="44.3"/>
<use href="#e1a" x="435.2" y="44.3"/>
<use href="#e1a" x="381.0" y="44.5"/>
<use href="#e1a" x="376.9" y="44.5"/>
<use href="#e3a" x="408.2" y="44.7"/>
<use href="#e4a" x="443.8" y="44.8"/>
<use href="#e1a" x="412.1" y="44.8"/>
<use href="#e3a" x="486.7" y="44.8"/>
<use href="#e4a" x="423.9" y="44.8"/>
<use href="#e4a" x="427.5" y="44.8"/>
<use href="#e1a" x="410.5" y="44.9"/>
<use href="#e2a" x="478.6" y="44.9"/>
<use href="#e2a" x="391.4" y="44.9"/>
<use href="#e4a" x="462.2" y="44.9"/>
<use href="#e1a" x="377.0" y="44.9"/>
<use href="#e4a" x="471.4" y="44.9"/>
<use href="#e4a" x="405.4" y="44.9"/>
<use href="#e4a" x="454.9" y="44.9"/>
<use href="#e1a" x="401.1" y="45.0"/>
<use href="#e1a" x="441.7" y="45.0"/>
<use href="#e1a" x="480.8" y="45.0"/>
<use href="#e4a" x="409.4" y="45.0"/>
<use href="#e4a" x="395.4" y="45.1"/>
<use href="#e1a" x="385.9" y="45.3"/>
<use href="#e2a" x="469.5" y="45.4"/>
<use href="#e3a" x="404.9" y="45.4"/>
<use href="#e4a" x="395.7" y="45.4"/>
<use href="#e2a" x="428.1" y="45.4"/>
<use href="#e1a" x="457.1" y="45.5"/>
<use href="#e3a" x="485.4" y="45.6"/>
<use href="#e4a" x="473.1" y="45.7"/>
<use href="#e3a" x="479.3" y="45.7"/>
<use href="#e1a" x="476.0" y="45.7"/>
<use href="#e1a" x="484.7" y="45.7"/>
<use href="#e2a" x="459.9" y="45.8"/>
<use href="#e1a" x="397.8" y="45.8"/>
<use href="#e2a" x="461.9" y="45.8"/>
<use href="#e4a" x="427.5" y="45.8"/>
<use href="#e2a" x="469.8" y="45.9"/>
<use href="#e4a" x="407.7" y="45.9"/>
<use href="#e3a" x="399.5" y="46.0"/>
<use href="#e1a" x="490.5" y="46.1"/>
<use href="#e1a" x="474.3" y="46.1"/>
<use href="#e4a" x="476.1" y="46.2"/>
<use href="#e4a" x="383.7" y="46.2"/>
<use href="#e3a" x="480.9" y="46.3"/>
<use href="#e2a" x="446.2" y="46.3"/>
<use href="#e3a" x="412.2" y="46.4"/>
<use href="#e1a" x="429.8" y="46.4"/>
<use href="#e4a" x="391.2" y="46.4"/>
<use href="#e2a" x="377.4" y="46.5"/>
<use href="#e3a" x="411.0" y="46.5"/>
<use href="#e4a" x="378.7" y="46.5"/>
<use href="#e3a" x="406.8" y="46.6"/>
<use href="#e2a" x="384.4" y="46.6"/>
<use href="#e4a" x="438.6" y="46.6"/>
<use href="#e3a" x="455.6" y="46.6"/>
<use href="#e1a" x="388.5" y="46.6"/>
<use href="#e1a" x="475.1" y="46.6"/>
<use href="#e3a" x="453.5" y="46.6"/>
<use href="#e3a" x="457.7" y="46.6"/>
<use href="#e2a" x="396.6" y="46.6"/>
<use href="#e1a" x="379.7" y="46.8"/>
<use href="#e2a" x="452.2" y="46.9"/>
<use href="#e4a" x="469.1" y="46.9"/>
<use href="#e2a" x="467.2" y="46.9"/>
<use href="#e1a" x="482.2" y="47.0"/>
<use href="#e1a" x="467.6" y="47.0"/>
<use href="#e2a" x="407.5" y="47.1"/>
<use href="#e4a" x="382.3" y="47.1"/>
<use href="#e4a" x="424.0" y="47.1"/>
<use href="#e1a" x="479.2" y="47.1"/>
<use href="#e4a" x="434.6" y="47.1"/>
<use href="#e3a" x="481.0" y="47.2"/>
<use href="#e1a" x="401.1" y="47.2"/>
<use href="#e3a" x="418.7" y="47.2"/>
<use href="#e1a" x="478.4" y="47.2"/>
<use href="#e1a" x="460.7" y="47.3"/>
<use href="#e2a" x="445.8" y="47.3"/>
<use href="#e1a" x="436.0" y="47.3"/>
<use href="#e4a" x="431.9" y="47.4"/>
<use href="#e1a" x="395.1" y="47.5"/>
<use href="#e4a" x="472.5" y="47.5"/>
<use href="#e2a" x="436.7" y="47.5"/>
<use href="#e3a" x="447.0" y="47.6"/>
<use href="#e1a" x="460.2" y="47.6"/>
<use href="#e4a" x="480.7" y="47.6"/>
<use href="#e3a" x="454.2" y="47.6"/>
<use href="#e2a" x="381.5" y="47.6"/>
<use href="#e4a" x="446.2" y="47.6"/>
<use href="#e1a" x="406.6" y="47.6"/>
<use href="#e2a" x="437.4" y="47.7"/>
<use href="#e1a" x="401.0" y="47.7"/>
<use href="#e1a" x="414.2" y="47.8"/>
<use href="#e3a" x="454.5" y="47.8"/>
<use href="#e1a" x="394.5" y="47.8"/>
<use href="#e2a" x="381.6" y="47.8"/>
<use href="#e2a" x="405.9" y="47.8"/>
<use href="#e4a" x="473.8" y="47.8"/>
<use href="#e1a" x="399.3" y="47.8"/>
<use href="#e3a" x="403.7" y="47.9"/>
<use href="#e2a" x="387.3" y="47.9"/>
<use href="#e2a" x="445.2" y="48.0"/>
<use href="#e4a" x="394.5" y="48.1"/>
<use href="#e3a" x="412.8" y="48.1"/>
<use href="#e1a" x="386.3" y="48.2"/>
<use href="#e4a" x="375.3" y="48.2"/>
<use href="#e1a" x="408.2" y="48.2"/>
<use href="#e3a" x="486.4" y="48.3"/>
<use href="#e2a" x="473.2" y="48.3"/>
<use href="#e2a" x="443.0" y="48.3"/>
<use href="#e1a" x="406.3" y="48.3"/>
<use href="#e1a" x="408.4" y="48.3"/>
<use href="#e1a" x="440.4" y="48.4"/>
<use href="#e2a" x="398.0" y="48.4"/>
<use href="#e4a" x="453.8" y="48.4"/>
<use href="#e4a" x="415.7" y="48.4"/>
<use href="#e4a" x="379.2" y="48.5"/>
<use href="#e3a" x="478.7" y="48.5"/>
<use href="#e2a" x="387.9" y="48.5"/>
<use href="#e2a" x="478.6" y="48.5"/>
<use href="#e2a" x="430.9" y="48.6"/>
<use href="#e2a" x="482.6" y="48.6"/>
<use href="#e4a" x="378.1" y="48.6"/>
<use href="#e2a" x="435.9" y="48.7"/>
<use href="#e1a" x="467.5" y="48.7"/>
<use href="#e2a" x="392.8" y="48.7"/>
<use href="#e1a" x="448.5" y="48.7"/>
<use href="#e1a" x="400.3" y="48.8"/>
<use href="#e4a" x="389.1" y="48.8"/>
<use href="#e2a" x="425.6" y="48.8"/>
<use href="#e3a" x="448.9" y="48.8"/>
<use href="#e1a" x="398.3" y="48.9"/>
<use href="#e2a" x="458.4" y="48.9"/>
<use href="#e2a" x="399.9" y="48.9"/>
<use href="#e4a" x="471.4" y="48.9"/>
<use href="#e3a" x="450.4" y="48.9"/>
<use href="#e1a" x="380.8" y="48.9"/>
<use href="#e4a" x="433.1" y="49.0"/>
<use href="#e4a" x="435.1" y="49.0"/>
<use href="#e1a" x="453.9" y="49.0"/>
<use href="#e2a" x="377.9" y="49.1"/>
<use href="#e3a" x="478.4" y="49.1"/>
<use href="#e4a" x="388.9" y="49.1"/>
<use href="#e1a" x="405.5" y="49.1"/>
<use href="#e3a" x="451.9" y="49.2"/>
<use href="#e4a" x="440.1" y="49.3"/>
<use href="#e2a" x="387.4" y="49.3"/>
<use href="#e2a" x="453.9" y="49.3"/>
<use href="#e2a" x="382.0" y="49.3"/>
<use href="#e1a" x="391.1" y="49.4"/>
<use href="#e4a" x="385.9" y="49.4"/>
<use href="#e1a" x="439.7" y="49.4"/>
<use href="#e1a" x="388.7" y="49.5"/>
<use href="#e1a" x="407.6" y="49.5"/>
<use href="#e2a" x="491.7" y="49.5"/>
<use href="#e1a" x="491.5" y="49.5"/>
<use href="#e4a" x="488.6" y="49.6"/>
<use href="#e2a" x="402.5" y="49.6"/>
<use href="#e2a" x="469.3" y="49.6"/>
<use href="#e1a" x="380.8" y="49.6"/>
<use href="#e2a" x="425.6" y="49.6"/>
<use href="#e2a" x="470.5" y="49.6"/>
<use href="#e4a" x="417.0" y="49.7"/>
<use href="#e3a" x="413.0" y="49.7"/>
<use href="#e4a" x="477.3" y="49.8"/>
<use href="#e1a" x="379.4" y="49.8"/>
<use href="#e1a" x="414.9" y="49.8"/>
<use href="#e2a" x="434.1" y="49.8"/>
<use href="#e1a" x="466.6" y="49.9"/>
<use href="#e1a" x="469.8" y="49.9"/>
<use href="#e1a" x="397.8" y="50.0"/>
<use href="#e1a" x="405.8" y="50.0"/>
<use href="#e1a" x="411.9" y="50.0"/>
<use href="#e1a" x="445.1" y="50.0"/>
<use href="#e2a" x="441.0" y="50.0"/>
<use href="#e3a" x="402.0" y="50.0"/>
<use href="#e3a" x="451.1" y="50.1"/>
<use href="#e2a" x="422.2" y="50.1"/>
<use href="#e3a" x="482.9" y="50.1"/>
<use href="#e1a" x="473.2" y="50.1"/>
<use href="#e1a" x="427.2" y="50.1"/>
<use href="#e3a" x="404.7" y="50.1"/>
<use href="#e1a" x="444.0" y="50.1"/>
<use href="#e1a" x="438.5" y="50.1"/>
<use href="#e4a" x="439.6" y="50.1"/>
<use href="#e1a" x="395.7" y="50.1"/>
<use href="#e2a" x="375.8" y="50.2"/>
<use href="#e1a" x="376.4" y="50.3"/>
<use href="#e1a" x="490.6" y="50.3"/>
<use href="#e3a" x="455.0" y="50.3"/>
<use href="#e3a" x="453.2" y="50.3"/>
<use href="#e4a" x="436.3" y="50.5"/>
<use href="#e2a" x="412.0" y="50.5"/>
<use href="#e1a" x="423.6" y="50.5"/>
<use href="#e3a" x="462.0" y="50.5"/>
<use href="#e1a" x="406.1" y="50.6"/>
<use href="#e1a" x="484.2" y="50.6"/>
<use href="#e1a" x="489.3" y="50.6"/>
<use href="#e2a" x="385.0" y="50.6"/>
<use href="#e3a" x="374.5" y="50.7"/>
<use href="#e3a" x="480.0" y="50.8"/>
<use href="#e1a" x="456.2" y="50.8"/>
<use href="#e2a" x="460.2" y="50.9"/>
<use href="#e1a" x="435.8" y="50.9"/>
<use href="#e1a" x="418.8" y="51.0"/>
<use href="#e2a" x="379.6" y="51.1"/>
<use href="#e2a" x="442.0" y="51.1"/>
<use href="#e2a" x="413.9" y="51.1"/>
<use href="#e2a" x="474.7" y="51.2"/>
<use href="#e4a" x="477.0" y="51.2"/>
<use href="#e1a" x="428.5" y="51.4"/>
<use href="#e3a" x="461.0" y="51.4"/>
<use href="#e2a" x="380.8" y="51.5"/>
<use href="#e2a" x="450.6" y="51.6"/>
<use href="#e4a" x="409.0" y="51.6"/>
<use href="#e2a" x="461.3" y="51.7"/>
<use href="#e2a" x="410.2" y="51.7"/>
<use href="#e2a" x="379.7" y="51.7"/>
<use href="#e2a" x="388.5" y="51.7"/>
<use href="#e2a" x="394.3" y="51.8"/>
<use href="#e1a" x="403.6" y="51.8"/>
<use href="#e2a" x="377.0" y="51.8"/>
<use href="#e2a" x="475.3" y="51.8"/>
<use href="#e1a" x="393.5" y="51.9"/>
<use href="#e4a" x="395.5" y="51.9"/>
<use href="#e2a" x="412.7" y="51.9"/>
<use href="#e1a" x="386.1" y="52.0"/>
<use href="#e1a" x="452.1" y="52.0"/>
<use href="#e2a" x="376.0" y="52.0"/>
<use href="#e3a" x="483.1" y="52.0"/>
<use href="#e3a" x="456.3" y="52.0"/>
<use href="#e2a" x="464.1" y="52.0"/>
<use href="#e2a" x="480.7" y="52.1"/>
<use href="#e4a" x="379.3" y="52.1"/>
<use href="#e1a" x="476.2" y="52.1"/>
<use href="#e2a" x="475.3" y="52.2"/>
<use href="#e1a" x="411.2" y="52.2"/>
<use href="#e4a" x="449.4" y="52.3"/>
<use href="#e4a" x="389.8" y="52.4"/>
<use href="#e1a" x="441.1" y="52.4"/>
<use href="#e1a" x="479.7" y="52.4"/>
<use href="#e2a" x="386.0" y="52.5"/>
<use href="#e1a" x="444.1" y="52.5"/>
<use href="#e1a" x="454.0" y="52.6"/>
<use href="#e3a" x="396.2" y="52.6"/>
<use href="#e1a" x="492.5" y="52.7"/>
<use href="#e1a" x="434.7" y="52.7"/>
<use href="#e2a" x="394.3" y="52.8"/>
<use href="#e2a" x="405.9" y="52.8"/>
<use href="#e4a" x="407.0" y="52.9"/>
<use href="#e1a" x="468.5" y="52.9"/>
<use href="#e1a" x="389.8" y="53.0"/>
<use href="#e1a" x="434.4" y="53.0"/>
<use href="#e1a" x="387.2" y="53.0"/>
<use href="#e2a" x="373.4" y="53.1"/>
<use href="#e3a" x="410.2" y="53.1"/>
<use href="#e4a" x="386.0" y="53.2"/>
<use href="#e1a" x="381.7" y="53.2"/>
<use href="#e3a" x="489.2" y="53.2"/>
<use href="#e2a" x="445.2" y="53.2"/>
<use href="#e1a" x="492.4" y="53.2"/>
<use href="#e1a" x="476.0" y="53.3"/>
<use href="#e1a" x="434.3" y="53.3"/>
<use href="#e3a" x="373.9" y="53.4"/>
<use href="#e3a" x="486.7" y="53.4"/>
<use href="#e2a" x="408.1" y="53.5"/>
<use href="#e2a" x="450.1" y="53.5"/>
<use href="#e1a" x="442.1" y="53.5"/>
<use href="#e1a" x="442.4" y="53.5"/>
<use href="#e1a" x="409.7" y="53.5"/>
<use href="#e1a" x="472.1" y="53.6"/>
<use href="#e3a" x="406.4" y="53.7"/>
<use href="#e2a" x="442.4" y="53.7"/>
<use href="#e3a" x="467.2" y="53.7"/>
<use href="#e3a" x="402.4" y="53.7"/>
<use href="#e3a" x="488.1" y="53.7"/>
<use href="#e2a" x="468.7" y="53.7"/>
<use href="#e1a" x="459.5" y="53.7"/>
<use href="#e3a" x="408.4" y="53.8"/>
<use href="#e2a" x="488.9" y="53.9"/>
<use href="#e1a" x="383.5" y="53.9"/>
<use href="#e2a" x="388.6" y="53.9"/>
<use href="#e1a" x="478.9" y="53.9"/>
<use href="#e4a" x="377.8" y="54.1"/>
<use href="#e2a" x="453.3" y="54.1"/>
<use href="#e3a" x="415.8" y="54.1"/>
<use href="#e2a" x="384.3" y="54.1"/>
<use href="#e2a" x="382.8" y="54.2"/>
<use href="#e2a" x="439.6" y="54.2"/>
<use href="#e2a" x="388.3" y="54.2"/>
<use href="#e1a" x="448.8" y="54.2"/>
<use href="#e1a" x="391.0" y="54.2"/>
<use href="#e1a" x="430.8" y="54.3"/>
<use href="#e3a" x="477.0" y="54.4"/>
<use href="#e2a" x="453.2" y="54.4"/>
<use href="#e1a" x="421.1" y="54.4"/>
<use href="#e3a" x="376.0" y="54.4"/>
<use href="#e2a" x="426.5" y="54.4"/>
<use href="#e3a" x="482.5" y="54.4"/>
<use href="#e3a" x="481.7" y="54.5"/>
<use href="#e3a" x="492.5" y="54.5"/>
<use href="#e4a" x="471.9" y="54.6"/>
<use href="#e4a" x="482.9" y="54.6"/>
<use href="#e3a" x="455.2" y="54.6"/>
<use href="#e2a" x="381.3" y="54.7"/>
<use href="#e1a" x="399.0" y="54.9"/>
<use href="#e1a" x="476.9" y="54.9"/>
<use href="#e3a" x="394.6" y="54.9"/>
<use href="#e2a" x="418.5" y="55.0"/>
<use href="#e1a" x="400.6" y="55.0"/>
<use href="#e4a" x="443.4" y="55.0"/>
<use href="#e1a" x="464.4" y="55.0"/>
<use href="#e2a" x="402.2" y="55.0"/>
<use href="#e3a" x="408.5" y="55.1"/>
<use href="#e2a" x="462.4" y="55.1"/>
<use href="#e2a" x="467.6" y="55.1"/>
<use href="#e2a" x="391.9" y="55.1"/>
<use href="#e4a" x="451.1" y="55.1"/>
<use href="#e3a" x="468.5" y="55.1"/>
<use href="#e1a" x="443.3" y="55.1"/>
<use href="#e3a" x="484.7" y="55.2"/>
<use href="#e2a" x="441.1" y="55.2"/>
<use href="#e2a" x="421.8" y="55.3"/>
<use href="#e3a" x="482.3" y="55.3"/>
<use href="#e1a" x="380.0" y="55.3"/>
<use href="#e2a" x="440.3" y="55.4"/>
<use href="#e3a" x="469.4" y="55.4"/>
<use href="#e2a" x="433.4" y="55.5"/>
<use href="#e1a" x="436.3" y="55.5"/>
<use href="#e3a" x="445.6" y="55.5"/>
<use href="#e2a" x="403.6" y="55.6"/>
<use href="#e2a" x="492.5" y="55.6"/>
<use href="#e3a" x="416.2" y="55.6"/>
<use href="#e2a" x="492.8" y="55.6"/>
<use href="#e4a" x="382.2" y="55.7"/>
<use href="#e1a" x="494.0" y="55.8"/>
<use href="#e3a" x="470.4" y="55.8"/>
<use href="#e1a" x="454.9" y="55.8"/>
<use href="#e1a" x="493.7" y="55.8"/>
<use href="#e2a" x="381.6" y="55.9"/>
<use href="#e2a" x="443.2" y="55.9"/>
<use href="#e3a" x="419.5" y="55.9"/>
<use href="#e1a" x="405.2" y="55.9"/>
<use href="#e1a" x="474.7" y="56.1"/>
<use href="#e1a" x="380.2" y="56.1"/>
<use href="#e2a" x="396.8" y="56.2"/>
<use href="#e4a" x="396.0" y="56.3"/>
<use href="#e1a" x="464.2" y="56.3"/>
<use href="#e2a" x="447.9" y="56.3"/>
<use href="#e2a" x="424.5" y="56.3"/>
<use href="#e1a" x="395.0" y="56.3"/>
<use href="#e4a" x="430.6" y="56.3"/>
<use href="#e3a" x="397.1" y="56.3"/>
<use href="#e2a" x="467.4" y="56.3"/>
<use href="#e1a" x="404.1" y="56.4"/>
<use href="#e3a" x="489.3" y="56.4"/>
<use href="#e1a" x="405.3" y="56.4"/>
<use href="#e1a" x="460.2" y="56.5"/>
<use href="#e4a" x="380.7" y="56.6"/>
<use href="#e2a" x="463.8" y="56.6"/>
<use href="#e1a" x="452.0" y="56.6"/>
<use href="#e3a" x="456.8" y="56.6"/>
<use href="#e4a" x="400.5" y="56.6"/>
<use href="#e3a" x="455.3" y="56.6"/>
<use href="#e1a" x="444.0" y="56.7"/>
<use href="#e3a" x="472.0" y="56.7"/>
<use href="#e4a" x="439.3" y="56.7"/>
<use href="#e2a" x="414.4" y="56.7"/>
<use href="#e2a" x="421.7" y="56.8"/>
<use href="#e1a" x="476.3" y="56.8"/>
<use href="#e4a" x="487.0" y="56.8"/>
<use href="#e2a" x="440.1" y="56.9"/>
<use href="#e2a" x="454.2" y="56.9"/>
<use href="#e3a" x="404.7" y="56.9"/>
<use href="#e3a" x="494.4" y="56.9"/>
<use href="#e2a" x="437.3" y="56.9"/>
<use href="#e1a" x="447.2" y="57.0"/>
<use href="#e2a" x="410.4" y="57.0"/>
<use href="#e4a" x="487.0" y="57.0"/>
<use href="#e1a" x="445.6" y="57.1"/>
<use href="#e1a" x="446.9" y="57.1"/>
<use href="#e2a" x="416.2" y="57.1"/>
<use href="#e3a" x="473.7" y="57.1"/>
<use href="#e2a" x="450.4" y="57.1"/>
<use href="#e3a" x="408.4" y="57.2"/>
<use href="#e1a" x="466.7" y="57.2"/>
<use href="#e2a" x="395.7" y="57.3"/>
<use href="#e1a" x="435.5" y="57.4"/>
<use href="#e4a" x="382.5" y="57.4"/>
<use href="#e1a" x="436.3" y="57.4"/>
<use href="#e4a" x="389.4" y="57.4"/>
<use href="#e3a" x="476.2" y="57.5"/>
<use href="#e1a" x="375.0" y="57.5"/>
<use href="#e3a" x="374.9" y="57.5"/>
<use href="#e3a" x="420.6" y="57.5"/>
<use href="#e3a" x="399.7" y="57.5"/>
<use href="#e4a" x="407.2" y="57.6"/>
<use href="#e2a" x="441.1" y="57.6"/>
<use href="#e3a" x="445.6" y="57.7"/>
<use href="#e3a" x="491.0" y="57.7"/>
<use href="#e1a" x="446.5" y="57.7"/>
<use href="#e1a" x="387.4" y="57.7"/>
<use href="#e4a" x="456.4" y="57.8"/>
<use href="#e2a" x="493.0" y="57.8"/>
<use href="#e3a" x="393.1" y="57.8"/>
<use href="#e3a" x="491.1" y="58.0"/>
<use href="#e1a" x="480.8" y="58.0"/>
<use href="#e3a" x="390.9" y="58.0"/>
<use href="#e1a" x="457.7" y="58.0"/>
<use href="#e2a" x="486.0" y="58.0"/>
<use href="#e1a" x="485.7" y="58.0"/>
<use href="#e2a" x="466.8" y="58.1"/>
<use href="#e2a" x="432.2" y="58.2"/>
<use href="#e2a" x="426.4" y="58.2"/>
<use href="#e1a" x="468.3" y="58.2"/>
<use href="#e1a" x="400.7" y="58.3"/>
<use href="#e2a" x="448.9" y="58.3"/>
<use href="#e2a" x="390.0" y="58.4"/>
<use href="#e2a" x="416.6" y="58.4"/>
<use href="#e3a" x="467.7" y="58.5"/>
<use href="#e2a" x="389.3" y="58.5"/>
<use href="#e1a" x="394.0" y="58.5"/>
<use href="#e1a" x="389.9" y="58.6"/>
<use href="#e1a" x="411.7" y="58.6"/>
<use href="#e2a" x="380.5" y="58.7"/>
<use href="#e3a" x="443.6" y="58.7"/>
<use href="#e2a" x="384.8" y="58.7"/>
<use href="#e1a" x="386.0" y="58.8"/>
<use href="#e1a" x="441.7" y="58.8"/>
<use href="#e3a" x="474.3" y="58.8"/>
<use href="#e2a" x="442.0" y="58.8"/>
<use href="#e4a" x="441.5" y="58.9"/>
<use href="#e1a" x="438.4" y="58.9"/>
<use href="#e1a" x="389.0" y="58.9"/>
<use href="#e3a" x="376.4" y="58.9"/>
<use href="#e2a" x="405.5" y="59.0"/>
<use href="#e1a" x="401.4" y="59.0"/>
<use href="#e1a" x="434.9" y="59.0"/>
<use href="#e1a" x="438.7" y="59.1"/>
<use href="#e3a" x="402.6" y="59.1"/>
<use href="#e1a" x="415.5" y="59.2"/>
<use href="#e2a" x="439.7" y="59.2"/>
<use href="#e4a" x="372.4" y="59.2"/>
<use href="#e3a" x="460.1" y="59.3"/>
<use href="#e3a" x="411.2" y="59.3"/>
<use href="#e1a" x="472.7" y="59.4"/>
<use href="#e1a" x="405.9" y="59.5"/>
<use href="#e2a" x="413.9" y="59.5"/>
<use href="#e1a" x="433.7" y="59.5"/>
<use href="#e1a" x="443.1" y="59.6"/>
<use href="#e4a" x="403.9" y="59.6"/>
<use href="#e3a" x="463.5" y="59.7"/>
<use href="#e1a" x="373.5" y="59.7"/>
<use href="#e1a" x="374.5" y="59.7"/>
<use href="#e3a" x="395.7" y="59.8"/>
<use href="#e1a" x="492.6" y="59.8"/>
<use href="#e4a" x="460.9" y="59.9"/>
<use href="#e2a" x="403.1" y="59.9"/>
<use href="#e1a" x="416.0" y="59.9"/>
<use href="#e2a" x="437.3" y="59.9"/>
<use href="#e3a" x="386.7" y="60.1"/>
<use href="#e3a" x="456.9" y="60.1"/>
<use href="#e3a" x="481.1" y="60.1"/>
<use href="#e2a" x="434.2" y="60.1"/>
<use href="#e1a" x="423.5" y="60.2"/>
<use href="#e3a" x="375.3" y="60.2"/>
<use href="#e1a" x="394.8" y="60.3"/>
<use href="#e2a" x="416.4" y="60.3"/>
<use href="#e3a" x="494.8" y="60.3"/>
<use href="#e1a" x="461.8" y="60.4"/>
<use href="#e1a" x="376.3" y="60.4"/>
<use href="#e3a" x="447.8" y="60.5"/>
<use href="#e1a" x="467.6" y="60.5"/>
<use href="#e1a" x="391.4" y="60.6"/>
<use href="#e3a" x="405.0" y="60.6"/>
<use href="#e4a" x="380.4" y="60.6"/>
<use href="#e1a" x="483.6" y="60.7"/>
<use href="#e2a" x="451.7" y="60.7"/>
<use href="#e1a" x="460.1" y="60.7"/>
<use href="#e1a" x="396.2" y="60.8"/>
<use href="#e3a" x="473.6" y="60.9"/>
<use href="#e2a" x="415.1" y="60.9"/>
<use href="#e1a" x="424.2" y="61.0"/>
<use href="#e3a" x="381.6" y="61.1"/>
<use href="#e3a" x="491.2" y="61.1"/>
<use href="#e3a" x="415.9" y="61.2"/>
<use href="#e2a" x="454.0" y="61.2"/>
<use href="#e2a" x="491.8" y="61.2"/>
<use href="#e1a" x="407.9" y="61.3"/>
<use href="#e2a" x="491.8" y="61.3"/>
<use href="#e2a" x="475.0" y="61.4"/>
<use href="#e1a" x="389.9" y="61.4"/>
<use href="#e3a" x="433.4" y="61.5"/>
<use href="#e4a" x="442.7" y="61.5"/>
<use href="#e1a" x="446.0" y="61.6"/>
<use href="#e3a" x="385.3" y="61.7"/>
<use href="#e4a" x="466.4" y="61.7"/>
<use href="#e3a" x="416.7" y="61.8"/>
<use href="#e3a" x="469.1" y="61.8"/>
<use href="#e1a" x="491.0" y="61.8"/>
<use href="#e4a" x="407.3" y="61.8"/>
<use href="#e1a" x="409.8" y="61.9"/>
<use href="#e3b" x="470.0" y="61.9"/>
<use href="#e2b" x="453.7" y="62.0"/>
<use href="#e1b" x="463.8" y="62.0"/>
<use href="#e1b" x="446.9" y="62.1"/>
<use href="#e1b" x="483.1" y="62.1"/>
<use href="#e3b" x="376.0" y="62.1"/>
<use href="#e4b" x="466.2" y="62.2"/>
<use href="#e2b" x="436.7" y="62.3"/>
<use href="#e3b" x="371.4" y="62.3"/>
<use href="#e3b" x="400.8" y="62.3"/>
<use href="#e1b" x="482.4" y="62.4"/>
<use href="#e1b" x="477.5" y="62.4"/>
<use href="#e3b" x="392.6" y="62.5"/>
<use href="#e1b" x="373.2" y="62.5"/>
<use href="#e2b" x="480.7" y="62.6"/>
<use href="#e3b" x="493.6" y="62.6"/>
<use href="#e2b" x="391.7" y="62.6"/>
<use href="#e2b" x="448.5" y="62.6"/>
<use href="#e2b" x="464.8" y="62.8"/>
<use href="#e3b" x="436.1" y="62.9"/>
<use href="#e3b" x="399.9" y="62.9"/>
<use href="#e4b" x="400.3" y="62.9"/>
<use href="#e3b" x="483.8" y="63.0"/>
<use href="#e2b" x="387.3" y="63.1"/>
<use href="#e2b" x="373.5" y="63.1"/>
<use href="#e3b" x="435.6" y="63.1"/>
<use href="#e4b" x="473.1" y="63.1"/>
<use href="#e2b" x="430.4" y="63.1"/>
<use href="#e1b" x="454.6" y="63.2"/>
<use href="#e2b" x="480.1" y="63.2"/>
<use href="#e2b" x="427.3" y="63.2"/>
<use href="#e1b" x="376.5" y="63.2"/>
<use href="#e2b" x="467.1" y="63.3"/>
<use href="#e2b" x="433.0" y="63.4"/>
<use href="#e4b" x="495.6" y="63.4"/>
<use href="#e3b" x="374.9" y="63.5"/>
<use href="#e1b" x="382.1" y="63.5"/>
<use href="#e1b" x="482.9" y="63.5"/>
<use href="#e1b" x="412.5" y="63.5"/>
<use href="#e1b" x="414.9" y="63.5"/>
<use href="#e3b" x="493.8" y="63.6"/>
<use href="#e2b" x="485.4" y="63.6"/>
<use href="#e1b" x="435.7" y="63.7"/>
<use href="#e2b" x="484.2" y="63.7"/>
<use href="#e3b" x="472.8" y="63.8"/>
<use href="#e1b" x="420.5" y="63.8"/>
<use href="#e4b" x="479.3" y="63.9"/>
<use href="#e4b" x="455.2" y="63.9"/>
<use href="#e2b" x="466.6" y="64.1"/>
<use href="#e3b" x="390.1" y="64.1"/>
<use href="#e4b" x="428.2" y="64.2"/>
<use href="#e1b" x="436.4" y="64.2"/>
<use href="#e3b" x="494.0" y="64.2"/>
<use href="#e1b" x="391.6" y="64.2"/>
<use href="#e2b" x="495.9" y="64.3"/>
<use href="#e2b" x="490.2" y="64.3"/>
<use href="#e3b" x="469.9" y="64.4"/>
<use href="#e2b" x="378.9" y="64.5"/>
<use href="#e3b" x="394.5" y="64.5"/>
<use href="#e3b" x="473.6" y="64.5"/>
<use href="#e1b" x="372.1" y="64.6"/>
<use href="#e3b" x="432.4" y="64.7"/>
<use href="#e3b" x="432.1" y="64.7"/>
<use href="#e2b" x="408.6" y="64.7"/>
<use href="#e1b" x="470.9" y="64.8"/>
<use href="#e1b" x="374.3" y="64.8"/>
<use href="#e3b" x="370.3" y="64.8"/>
<use href="#e3b" x="384.0" y="64.9"/>
<use href="#e4b" x="450.5" y="64.9"/>
<use href="#e4b" x="430.3" y="65.0"/>
<use href="#e1b" x="373.4" y="65.0"/>
<use href="#e2b" x="398.6" y="65.0"/>
<use href="#e3b" x="497.2" y="65.1"/>
<use href="#e1b" x="385.9" y="65.1"/>
<use href="#e1b" x="432.1" y="65.1"/>
<use href="#e1b" x="480.7" y="65.1"/>
<use href="#e1b" x="410.0" y="65.1"/>
<use href="#e1b" x="417.8" y="65.2"/>
<use href="#e3b" x="391.8" y="65.2"/>
<use href="#e2b" x="409.7" y="65.3"/>
<use href="#e3b" x="384.2" y="65.3"/>
<use href="#e1b" x="493.5" y="65.3"/>
<use href="#e1b" x="374.2" y="65.3"/>
<use href="#e3b" x="370.7" y="65.4"/>
<use href="#e3b" x="398.6" y="65.4"/>
<use href="#e1b" x="472.5" y="65.5"/>
<use href="#e3b" x="374.8" y="65.5"/>
<use href="#e1b" x="413.2" y="65.6"/>
<use href="#e3b" x="404.6" y="65.6"/>
<use href="#e3b" x="386.6" y="65.6"/>
<use href="#e1b" x="471.0" y="65.6"/>
<use href="#e2b" x="421.0" y="65.6"/>
<use href="#e3b" x="451.2" y="65.6"/>
<use href="#e3b" x="439.1" y="65.7"/>
<use href="#e3b" x="387.3" y="65.8"/>
<use href="#e2b" x="476.2" y="65.8"/>
<use href="#e3b" x="422.9" y="65.8"/>
<use href="#e1b" x="412.8" y="65.9"/>
<use href="#e3b" x="381.6" y="66.0"/>
<use href="#e1b" x="467.5" y="66.0"/>
<use href="#e3b" x="397.6" y="66.0"/>
<use href="#e2b" x="417.8" y="66.1"/>
<use href="#e1b" x="376.5" y="66.1"/>
<use href="#e1b" x="453.0" y="66.1"/>
<use href="#e1b" x="484.7" y="66.1"/>
<use href="#e2b" x="457.6" y="66.1"/>
<use href="#e2b" x="413.4" y="66.1"/>
<use href="#e2b" x="432.7" y="66.1"/>
<use href="#e4b" x="490.4" y="66.2"/>
<use href="#e4b" x="457.5" y="66.2"/>
<use href="#e2b" x="444.4" y="66.3"/>
<use href="#e1b" x="463.4" y="66.3"/>
<use href="#e3b" x="393.8" y="66.3"/>
<use href="#e1b" x="476.0" y="66.4"/>
<use href="#e3b" x="488.6" y="66.4"/>
<use href="#e1b" x="436.2" y="66.4"/>
<use href="#e2b" x="372.7" y="66.5"/>
<use href="#e3b" x="379.0" y="66.5"/>
<use href="#e4b" x="409.2" y="66.6"/>
<use href="#e3b" x="394.3" y="66.6"/>
<use href="#e1b" x="418.2" y="66.7"/>
<use href="#e4b" x="434.6" y="66.7"/>
<use href="#e2b" x="494.0" y="66.7"/>
<use href="#e3b" x="458.6" y="66.7"/>
<use href="#e3b" x="406.3" y="66.7"/>
<use href="#e4b" x="407.7" y="66.8"/>
<use href="#e4b" x="478.8" y="66.8"/>
<use href="#e2b" x="418.7" y="66.9"/>
<use href="#e2b" x="402.9" y="67.0"/>
<use href="#e2b" x="427.3" y="67.0"/>
<use href="#e3b" x="378.4" y="67.2"/>
<use href="#e4b" x="482.2" y="67.2"/>
<use href="#e1b" x="467.5" y="67.2"/>
<use href="#e2b" x="447.5" y="67.3"/>
<use href="#e1b" x="447.9" y="67.3"/>
<use href="#e3b" x="429.5" y="67.3"/>
<use href="#e3b" x="478.1" y="67.4"/>
<use href="#e3b" x="476.2" y="67.4"/>
<use href="#e2b" x="439.4" y="67.5"/>
<use href="#e2b" x="421.5" y="67.5"/>
<use href="#e2b" x="404.8" y="67.5"/>
<use href="#e2b" x="373.0" y="67.5"/>
<use href="#e2b" x="428.2" y="67.5"/>
<use href="#e3b" x="467.7" y="67.8"/>
<use href="#e3b" x="429.6" y="67.8"/>
<use href="#e3b" x="465.6" y="67.8"/>
<use href="#e1b" x="475.8" y="67.9"/>
<use href="#e2b" x="436.0" y="67.9"/>
<use href="#e1b" x="434.7" y="67.9"/>
<use href="#e3b" x="445.2" y="68.0"/>
<use href="#e1b" x="435.5" y="68.1"/>
<use href="#e4b" x="447.8" y="68.1"/>
<use href="#e1b" x="453.7" y="68.2"/>
<use href="#e2b" x="419.8" y="68.2"/>
<use href="#e1b" x="457.5" y="68.2"/>
<use href="#e2b" x="403.0" y="68.3"/>
<use href="#e2b" x="384.3" y="68.4"/>
<use href="#e3b" x="483.0" y="68.5"/>
<use href="#e3b" x="449.1" y="68.6"/>
<use href="#e1b" x="490.6" y="68.7"/>
<use href="#e2b" x="404.3" y="68.7"/>
<use href="#e1b" x="379.1" y="68.7"/>
<use href="#e3b" x="470.1" y="68.7"/>
<use href="#e3b" x="426.8" y="68.7"/>
<use href="#e2b" x="370.0" y="68.7"/>
<use href="#e1b" x="415.3" y="68.8"/>
<use href="#e1b" x="467.1" y="68.9"/>
<use href="#e1b" x="368.4" y="68.9"/>
<use href="#e4b" x="396.8" y="68.9"/>
<use href="#e2b" x="401.8" y="68.9"/>
<use href="#e3b" x="493.6" y="69.0"/>
<use href="#e1b" x="416.3" y="69.0"/>
<use href="#e1b" x="489.8" y="69.0"/>
<use href="#e1b" x="392.5" y="69.1"/>
<use href="#e3b" x="402.2" y="69.1"/>
<use href="#e1b" x="428.8" y="69.2"/>
<use href="#e2b" x="458.8" y="69.3"/>
<use href="#e3b" x="374.5" y="69.3"/>
<use href="#e2b" x="405.0" y="69.3"/>
<use href="#e4b" x="396.4" y="69.3"/>
<use href="#e2b" x="498.6" y="69.4"/>
<use href="#e3b" x="422.9" y="69.4"/>
<use href="#e1b" x="460.8" y="69.4"/>
<use href="#e2b" x="417.9" y="69.4"/>
<use href="#e3b" x="479.2" y="69.4"/>
<use href="#e3b" x="495.8" y="69.5"/>
<use href="#e1b" x="428.5" y="69.5"/>
<use href="#e2b" x="471.2" y="69.5"/>
<use href="#e3b" x="377.3" y="69.5"/>
<use href="#e4b" x="451.5" y="69.5"/>
<use href="#e3b" x="372.1" y="69.5"/>
<use href="#e3b" x="438.2" y="69.6"/>
<use href="#e2b" x="495.5" y="69.6"/>
<use href="#e2b" x="459.2" y="69.6"/>
<use href="#e2b" x="369.8" y="69.7"/>
<use href="#e3b" x="404.0" y="69.7"/>
<use href="#e1b" x="431.4" y="69.8"/>
<use href="#e1b" x="402.8" y="69.8"/>
<use href="#e3b" x="424.9" y="69.9"/>
<use href="#e3b" x="396.1" y="69.9"/>
<use href="#e3b" x="475.5" y="70.0"/>
<use href="#e1b" x="450.8" y="70.0"/>
<use href="#e3b" x="468.8" y="70.0"/>
<use href="#e1b" x="386.5" y="70.0"/>
<use href="#e3b" x="389.3" y="70.1"/>
<use href="#e3b" x="390.6" y="70.2"/>
<use href="#e3b" x="378.1" y="70.2"/>
<use href="#e4b" x="408.8" y="70.2"/>
<use href="#e3b" x="435.1" y="70.2"/>
<use href="#e2b" x="470.7" y="70.2"/>
<use href="#e1b" x="433.9" y="70.3"/>
<use href="#e1b" x="412.7" y="70.3"/>
<use href="#e3b" x="479.2" y="70.4"/>
<use href="#e4b" x="401.2" y="70.4"/>
<use href="#e1b" x="383.7" y="70.5"/>
<use href="#e3b" x="459.8" y="70.5"/>
<use href="#e2b" x="375.7" y="70.5"/>
<use href="#e1b" x="394.3" y="70.5"/>
<use href="#e2b" x="462.1" y="70.5"/>
<use href="#e2b" x="414.2" y="70.6"/>
<use href="#e2b" x="493.6" y="70.6"/>
<use href="#e3b" x="448.3" y="70.6"/>
<use href="#e2b" x="413.4" y="70.7"/>
<use href="#e3b" x="478.6" y="70.7"/>
<use href="#e2b" x="466.4" y="70.8"/>
<use href="#e1b" x="383.4" y="70.8"/>
<use href="#e3b" x="438.9" y="70.8"/>
<use href="#e1b" x="385.3" y="70.8"/>
<use href="#e2b" x="482.4" y="70.8"/>
<use href="#e3b" x="459.4" y="70.9"/>
<use href="#e1b" x="436.5" y="70.9"/>
<use href="#e2b" x="390.2" y="70.9"/>
<use href="#e1b" x="431.8" y="70.9"/>
<use href="#e2b" x="455.1" y="71.0"/>
<use href="#e1b" x="461.9" y="71.0"/>
<use href="#e2b" x="391.6" y="71.0"/>
<use href="#e1b" x="484.1" y="71.0"/>
<use href="#e3b" x="487.2" y="71.1"/>
<use href="#e3b" x="497.4" y="71.1"/>
<use href="#e2b" x="463.9" y="71.2"/>
<use href="#e3b" x="435.1" y="71.2"/>
<use href="#e3b" x="435.6" y="71.2"/>
<use href="#e3b" x="439.6" y="71.2"/>
<use href="#e1b" x="492.4" y="71.2"/>
<use href="#e3b" x="495.4" y="71.3"/>
<use href="#e1b" x="474.6" y="71.3"/>
<use href="#e1b" x="480.9" y="71.4"/>
<use href="#e1b" x="386.1" y="71.5"/>
<use href="#e2b" x="442.1" y="71.7"/>
<use href="#e2b" x="465.0" y="71.8"/>
<use href="#e3b" x="391.6" y="71.8"/>
<use href="#e1b" x="462.2" y="71.8"/>
<use href="#e1b" x="439.0" y="71.9"/>
<use href="#e2b" x="480.7" y="71.9"/>
<use href="#e1b" x="473.4" y="71.9"/>
<use href="#e2b" x="395.0" y="72.0"/>
<use href="#e3b" x="472.6" y="72.1"/>
<use href="#e4b" x="493.4" y="72.1"/>
<use href="#e4b" x="458.2" y="72.1"/>
<use href="#e3b" x="486.2" y="72.1"/>
<use href="#e1b" x="453.9" y="72.2"/>
<use href="#e2b" x="377.3" y="72.3"/>
<use href="#e4b" x="420.7" y="72.3"/>
<use href="#e3b" x="411.6" y="72.3"/>
<use href="#e1b" x="457.2" y="72.3"/>
<use href="#e3b" x="469.2" y="72.4"/>
<use href="#e3b" x="391.7" y="72.5"/>
<use href="#e1b" x="476.3" y="72.5"/>
<use href="#e1b" x="386.3" y="72.5"/>
<use href="#e2b" x="494.9" y="72.6"/>
<use href="#e1b" x="375.4" y="72.7"/>
<use href="#e1b" x="497.8" y="72.8"/>
<use href="#e1b" x="387.3" y="72.8"/>
<use href="#e4b" x="441.0" y="72.9"/>
<use href="#e1b" x="492.3" y="72.9"/>
<use href="#e1b" x="385.8" y="73.0"/>
<use href="#e4b" x="492.2" y="73.1"/>
<use href="#e3b" x="395.7" y="73.1"/>
<use href="#e2b" x="474.5" y="73.1"/>
<use href="#e1b" x="430.9" y="73.1"/>
<use href="#e1b" x="398.6" y="73.3"/>
<use href="#e4b" x="487.6" y="73.3"/>
<use href="#e2b" x="428.1" y="73.3"/>
<use href="#e2b" x="448.6" y="73.3"/>
<use href="#e2b" x="420.4" y="73.4"/>
<use href="#e1b" x="396.1" y="73.4"/>
<use href="#e2b" x="426.5" y="73.5"/>
<use href="#e4b" x="388.3" y="73.5"/>
<use href="#e1b" x="387.1" y="73.6"/>
<use href="#e4b" x="366.9" y="73.6"/>
<use href="#e3b" x="369.3" y="73.6"/>
<use href="#e2b" x="471.4" y="73.6"/>
<use href="#e2b" x="461.7" y="73.7"/>
<use href="#e3b" x="449.4" y="73.8"/>
<use href="#e2b" x="453.6" y="73.8"/>
<use href="#e1b" x="385.2" y="73.8"/>
<use href="#e2b" x="404.2" y="73.8"/>
<use href="#e2b" x="370.9" y="73.8"/>
<use href="#e1b" x="495.0" y="73.8"/>
<use href="#e1b" x="478.5" y="73.9"/>
<use href="#e4b" x="477.3" y="73.9"/>
<use href="#e2b" x="404.1" y="73.9"/>
<use href="#e3b" x="460.7" y="73.9"/>
<use href="#e3b" x="380.8" y="74.0"/>
<use href="#e3b" x="466.2" y="74.0"/>
<use href="#e2b" x="484.5" y="74.1"/>
<use href="#e4b" x="433.6" y="74.2"/>
<use href="#e1b" x="421.3" y="74.2"/>
<use href="#e3b" x="476.6" y="74.2"/>
<use href="#e1b" x="463.7" y="74.3"/>
<use href="#e1b" x="484.3" y="74.3"/>
<use href="#e2b" x="430.0" y="74.3"/>
<use href="#e2b" x="385.6" y="74.4"/>
<use href="#e2b" x="434.9" y="74.4"/>
<use href="#e4b" x="461.2" y="74.4"/>
<use href="#e2b" x="398.3" y="74.4"/>
<use href="#e2b" x="433.3" y="74.4"/>
<use href="#e4b" x="394.5" y="74.4"/>
<use href="#e1b" x="446.9" y="74.5"/>
<use href="#e4b" x="475.0" y="74.5"/>
<use href="#e3b" x="374.4" y="74.5"/>
<use href="#e2b" x="490.8" y="74.5"/>
<use href="#e1b" x="375.6" y="74.5"/>
<use href="#e1b" x="422.3" y="74.5"/>
<use href="#e2b" x="385.8" y="74.6"/>
<use href="#e3b" x="438.6" y="74.6"/>
<use href="#e2b" x="413.6" y="74.6"/>
<use href="#e2b" x="500.9" y="74.6"/>
<use href="#e1b" x="441.4" y="74.6"/>
<use href="#e1b" x="423.1" y="74.7"/>
<use href="#e1b" x="400.7" y="74.7"/>
<use href="#e2b" x="472.3" y="74.8"/>
<use href="#e3b" x="461.7" y="74.8"/>
<use href="#e2b" x="486.2" y="74.8"/>
<use href="#e1b" x="451.9" y="74.9"/>
<use href="#e4b" x="406.1" y="75.0"/>
<use href="#e2b" x="395.6" y="75.0"/>
<use href="#e1b" x="412.0" y="75.0"/>
<use href="#e3b" x="382.2" y="75.1"/>
<use href="#e3b" x="365.3" y="75.1"/>
<use href="#e2b" x="501.2" y="75.1"/>
<use href="#e3b" x="405.9" y="75.1"/>
<use href="#e1b" x="396.8" y="75.2"/>
<use href="#e1b" x="468.3" y="75.2"/>
<use href="#e3b" x="477.2" y="75.2"/>
<use href="#e4b" x="436.6" y="75.2"/>
<use href="#e3b" x="488.1" y="75.2"/>
<use href="#e3b" x="438.4" y="75.4"/>
<use href="#e1b" x="471.2" y="75.4"/>
<use href="#e2b" x="415.1" y="75.5"/>
<use href="#e3b" x="467.8" y="75.5"/>
<use href="#e2b" x="389.9" y="75.6"/>
<use href="#e3b" x="497.5" y="75.6"/>
<use href="#e3b" x="388.7" y="75.7"/>
<use href="#e3b" x="498.5" y="75.8"/>
<use href="#e3b" x="456.8" y="75.8"/>
<use href="#e4b" x="447.8" y="75.8"/>
<use href="#e4b" x="373.0" y="75.8"/>
<use href="#e3b" x="450.4" y="75.8"/>
<use href="#e2b" x="455.9" y="75.8"/>
<use href="#e3b" x="472.8" y="75.9"/>
<use href="#e1b" x="431.0" y="75.9"/>
<use href="#e2b" x="389.9" y="75.9"/>
<use href="#e3b" x="393.3" y="75.9"/>
<use href="#e3b" x="421.8" y="76.0"/>
<use href="#e2b" x="379.4" y="76.0"/>
<use href="#e1b" x="419.8" y="76.0"/>
<use href="#e4b" x="499.9" y="76.1"/>
<use href="#e4b" x="447.2" y="76.1"/>
<use href="#e1b" x="399.5" y="76.2"/>
<use href="#e2b" x="487.4" y="76.2"/>
<use href="#e2b" x="411.8" y="76.2"/>
<use href="#e2b" x="406.3" y="76.2"/>
<use href="#e3b" x="403.8" y="76.2"/>
<use href="#e3b" x="405.4" y="76.2"/>
<use href="#e1b" x="413.8" y="76.3"/>
<use href="#e3b" x="461.7" y="76.3"/>
<use href="#e2b" x="447.0" y="76.3"/>
<use href="#e3b" x="420.7" y="76.3"/>
<use href="#e1b" x="430.7" y="76.4"/>
<use href="#e3b" x="459.0" y="76.4"/>
<use href="#e1b" x="493.2" y="76.4"/>
<use href="#e2b" x="381.6" y="76.5"/>
<use href="#e4b" x="365.4" y="76.6"/>
<use href="#e2b" x="453.8" y="76.6"/>
<use href="#e4b" x="470.0" y="76.6"/>
<use href="#e1b" x="486.4" y="76.7"/>
<use href="#e3b" x="396.4" y="76.7"/>
<use href="#e2b" x="420.0" y="76.7"/>
<use href="#e3b" x="501.0" y="76.7"/>
<use href="#e1b" x="385.5" y="76.7"/>
<use href="#e1b" x="414.8" y="76.8"/>
<use href="#e3b" x="376.8" y="76.9"/>
<use href="#e1b" x="500.3" y="77.1"/>
<use href="#e4b" x="410.3" y="77.1"/>
<use href="#e1b" x="482.2" y="77.1"/>
<use href="#e3b" x="463.7" y="77.1"/>
<use href="#e3b" x="481.4" y="77.2"/>
<use href="#e3b" x="471.8" y="77.2"/>
<use href="#e3b" x="451.2" y="77.2"/>
<use href="#e2b" x="447.6" y="77.2"/>
<use href="#e3b" x="437.2" y="77.2"/>
<use href="#e3b" x="473.3" y="77.2"/>
<use href="#e2b" x="480.1" y="77.2"/>
<use href="#e3b" x="429.6" y="77.3"/>
<use href="#e3b" x="473.3" y="77.3"/>
<use href="#e1b" x="396.7" y="77.3"/>
<use href="#e4b" x="403.5" y="77.3"/>
<use href="#e1b" x="422.5" y="77.3"/>
<use href="#e1b" x="418.6" y="77.3"/>
<use href="#e1b" x="418.1" y="77.3"/>
<use href="#e2b" x="483.5" y="77.4"/>
<use href="#e3b" x="377.7" y="77.4"/>
<use href="#e3b" x="378.5" y="77.4"/>
<use href="#e3b" x="477.9" y="77.4"/>
<use href="#e3b" x="374.0" y="77.6"/>
<use href="#e4b" x="486.1" y="77.6"/>
<use href="#e2b" x="388.0" y="77.7"/>
<use href="#e2b" x="492.5" y="77.8"/>
<use href="#e3b" x="429.2" y="77.8"/>
<use href="#e3b" x="411.2" y="77.8"/>
<use href="#e1b" x="457.0" y="77.9"/>
<use href="#e2b" x="367.6" y="77.9"/>
<use href="#e3b" x="485.3" y="78.0"/>
<use href="#e3b" x="444.6" y="78.0"/>
<use href="#e3b" x="488.6" y="78.0"/>
<use href="#e4b" x="382.3" y="78.1"/>
<use href="#e1b" x="419.7" y="78.1"/>
<use href="#e2b" x="462.8" y="78.1"/>
<use href="#e1b" x="485.4" y="78.2"/>
<use href="#e1b" x="457.0" y="78.2"/>
<use href="#e2b" x="372.8" y="78.2"/>
<use href="#e1b" x="379.2" y="78.3"/>
<use href="#e3b" x="454.0" y="78.3"/>
<use href="#e1b" x="462.2" y="78.3"/>
<use href="#e3b" x="410.5" y="78.3"/>
<use href="#e1b" x="366.8" y="78.4"/>
<use href="#e3b" x="393.9" y="78.4"/>
<use href="#e2b" x="380.7" y="78.4"/>
<use href="#e3b" x="383.7" y="78.4"/>
<use href="#e2b" x="382.2" y="78.5"/>
<use href="#e2b" x="453.4" y="78.5"/>
<use href="#e3b" x="487.8" y="78.6"/>
<use href="#e4b" x="421.0" y="78.6"/>
<use href="#e4b" x="370.1" y="78.7"/>
<use href="#e1b" x="479.7" y="78.7"/>
<use href="#e2b" x="411.5" y="78.7"/>
<use href="#e2b" x="470.5" y="78.8"/>
<use href="#e2b" x="444.6" y="78.8"/>
<use href="#e2b" x="383.4" y="78.8"/>
<use href="#e2b" x="385.9" y="78.9"/>
<use href="#e1b" x="437.1" y="78.9"/>
<use href="#e2b" x="494.2" y="79.0"/>
<use href="#e1b" x="375.6" y="79.0"/>
<use href="#e3b" x="391.5" y="79.0"/>
<use href="#e1b" x="390.5" y="79.1"/>
<use href="#e1b" x="379.5" y="79.1"/>
<use href="#e1b" x="497.9" y="79.2"/>
<use href="#e3b" x="424.4" y="79.2"/>
<use href="#e3b" x="422.0" y="79.2"/>
<use href="#e3b" x="485.7" y="79.2"/>
<use href="#e3b" x="385.0" y="79.3"/>
<use href="#e2b" x="392.1" y="79.3"/>
<use href="#e1b" x="453.7" y="79.4"/>
<use href="#e2b" x="389.7" y="79.4"/>
<use href="#e3b" x="435.2" y="79.4"/>
<use href="#e1b" x="447.0" y="79.4"/>
<use href="#e2b" x="386.6" y="79.4"/>
<use href="#e1b" x="462.6" y="79.5"/>
<use href="#e3b" x="385.1" y="79.5"/>
<use href="#e3b" x="478.1" y="79.5"/>
<use href="#e3b" x="443.2" y="79.5"/>
<use href="#e3b" x="429.3" y="79.6"/>
<use href="#e4b" x="369.5" y="79.6"/>
<use href="#e3b" x="427.6" y="79.7"/>
<use href="#e3b" x="460.6" y="79.7"/>
<use href="#e1b" x="495.9" y="79.7"/>
<use href="#e1b" x="379.2" y="79.8"/>
<use href="#e2b" x="486.4" y="79.9"/>
<use href="#e4b" x="410.7" y="79.9"/>
<use href="#e3b" x="491.9" y="79.9"/>
<use href="#e2b" x="379.3" y="79.9"/>
<use href="#e1b" x="491.5" y="79.9"/>
<use href="#e1b" x="383.0" y="80.0"/>
<use href="#e3b" x="428.6" y="80.0"/>
<use href="#e1b" x="477.9" y="80.0"/>
<use href="#e2b" x="434.1" y="80.1"/>
<use href="#e4b" x="441.2" y="80.1"/>
<use href="#e2b" x="418.8" y="80.2"/>
<use href="#e3b" x="429.3" y="80.2"/>
<use href="#e4b" x="412.1" y="80.3"/>
<use href="#e2b" x="446.5" y="80.3"/>
<use href="#e4b" x="426.9" y="80.3"/>
<use href="#e1b" x="453.9" y="80.4"/>
<use href="#e4b" x="503.6" y="80.4"/>
<use href="#e3b" x="380.3" y="80.5"/>
<use href="#e2b" x="403.4" y="80.5"/>
<use href="#e1b" x="424.9" y="80.7"/>
<use href="#e1b" x="466.9" y="80.7"/>
<use href="#e3b" x="402.4" y="80.7"/>
<use href="#e1b" x="403.8" y="80.7"/>
<use href="#e3b" x="489.3" y="80.8"/>
<use href="#e4b" x="395.3" y="80.8"/>
<use href="#e2b" x="373.1" y="80.9"/>
<use href="#e2b" x="467.5" y="80.9"/>
<use href="#e3b" x="482.3" y="80.9"/>
<use href="#e3b" x="409.5" y="80.9"/>
<use href="#e4b" x="365.3" y="81.0"/>
<use href="#e2b" x="479.8" y="81.0"/>
<use href="#e1b" x="473.5" y="81.0"/>
<use href="#e3b" x="393.0" y="81.0"/>
<use href="#e2b" x="498.3" y="81.0"/>
<use href="#e3b" x="402.1" y="81.1"/>
<use href="#e3b" x="445.0" y="81.1"/>
<use href="#e2b" x="385.5" y="81.2"/>
<use href="#e2b" x="479.9" y="81.3"/>
<use href="#e1b" x="380.5" y="81.3"/>
<use href="#e2b" x="454.0" y="81.3"/>
<use href="#e3b" x="443.1" y="81.4"/>
<use href="#e1b" x="399.3" y="81.4"/>
<use href="#e1b" x="483.5" y="81.4"/>
<use href="#e3b" x="460.2" y="81.5"/>
<use href="#e1b" x="428.8" y="81.5"/>
<use href="#e2b" x="428.0" y="81.6"/>
<use href="#e3b" x="438.3" y="81.6"/>
<use href="#e1b" x="502.6" y="81.6"/>
<use href="#e3b" x="392.8" y="81.6"/>
<use href="#e1b" x="453.8" y="81.7"/>
<use href="#e2b" x="419.9" y="81.7"/>
<use href="#e1b" x="462.1" y="81.8"/>
<use href="#e2b" x="429.8" y="81.8"/>
<use href="#e1b" x="496.4" y="82.0"/>
<use href="#e1b" x="445.1" y="82.1"/>
<use href="#e1b" x="429.9" y="82.1"/>
<use href="#e2b" x="468.2" y="82.1"/>
<use href="#e2b" x="406.3" y="82.1"/>
<use href="#e2b" x="469.4" y="82.1"/>
<use href="#e3b" x="399.5" y="82.1"/>
<use href="#e4b" x="369.9" y="82.2"/>
<use href="#e4b" x="367.9" y="82.2"/>
<use href="#e1b" x="419.5" y="82.2"/>
<use href="#e2b" x="373.3" y="82.2"/>
<use href="#e2b" x="366.5" y="82.3"/>
<use href="#e1b" x="473.5" y="82.3"/>
<use href="#e2b" x="444.0" y="82.3"/>
<use href="#e1b" x="460.4" y="82.4"/>
<use href="#e3b" x="432.5" y="82.6"/>
<use href="#e2b" x="405.0" y="82.6"/>
<use href="#e2b" x="451.1" y="82.7"/>
<use href="#e3b" x="481.9" y="82.7"/>
<use href="#e3b" x="386.9" y="82.7"/>
<use href="#e1b" x="402.9" y="82.8"/>
<use href="#e2b" x="427.5" y="82.8"/>
<use href="#e1b" x="490.3" y="82.8"/>
<use href="#e2b" x="378.4" y="82.9"/>
<use href="#e3b" x="413.4" y="82.9"/>
<use href="#e2b" x="375.0" y="82.9"/>
<use href="#e4b" x="426.9" y="83.0"/>
<use href="#e1b" x="424.2" y="83.0"/>
<use href="#e1b" x="408.6" y="83.0"/>
<use href="#e1b" x="484.6" y="83.0"/>
<use href="#e2b" x="459.9" y="83.1"/>
<use href="#e3b" x="382.3" y="83.1"/>
<use href="#e2b" x="407.8" y="83.2"/>
<use href="#e1b" x="482.5" y="83.3"/>
<use href="#e2b" x="436.7" y="83.3"/>
<use href="#e1b" x="400.2" y="83.3"/>
<use href="#e4b" x="366.9" y="83.4"/>
<use href="#e1b" x="416.0" y="83.5"/>
<use href="#e1b" x="475.8" y="83.5"/>
<use href="#e2b" x="466.8" y="83.5"/>
<use href="#e2b" x="383.3" y="83.5"/>
<use href="#e4b" x="399.2" y="83.6"/>
<use href="#e1b" x="367.6" y="83.7"/>
<use href="#e1b" x="423.5" y="83.7"/>
<use href="#e2b" x="475.3" y="83.7"/>
<use href="#e1b" x="362.9" y="83.7"/>
<use href="#e3b" x="457.9" y="83.8"/>
<use href="#e3b" x="463.6" y="83.8"/>
<use href="#e3b" x="443.4" y="83.8"/>
<use href="#e2b" x="474.8" y="83.9"/>
<use href="#e3b" x="486.0" y="83.9"/>
<use href="#e3b" x="379.2" y="84.0"/>
<use href="#e3b" x="502.2" y="84.0"/>
<use href="#e3b" x="457.8" y="84.0"/>
<use href="#e2b" x="364.2" y="84.1"/>
<use href="#e4b" x="372.1" y="84.1"/>
<use href="#e2b" x="451.8" y="84.1"/>
<use href="#e2b" x="392.1" y="84.2"/>
<use href="#e3b" x="465.5" y="84.2"/>
<use href="#e3b" x="389.2" y="84.2"/>
<use href="#e3b" x="491.8" y="84.3"/>
<use href="#e2b" x="398.3" y="84.3"/>
<use href="#e2b" x="420.9" y="84.3"/>
<use href="#e2b" x="494.6" y="84.4"/>
<use href="#e2b" x="387.7" y="84.4"/>
<use href="#e2b" x="442.2" y="84.4"/>
<use href="#e1b" x="391.7" y="84.4"/>
<use href="#e1b" x="503.4" y="84.5"/>
<use href="#e2b" x="429.6" y="84.5"/>
<use href="#e4b" x="380.2" y="84.5"/>
<use href="#e1b" x="485.4" y="84.6"/>
<use href="#e4b" x="362.4" y="84.6"/>
<use href="#e3b" x="484.1" y="84.6"/>
<use href="#e1b" x="487.8" y="84.6"/>
<use href="#e2b" x="489.3" y="84.6"/>
<use href="#e1b" x="397.0" y="84.7"/>
<use href="#e3b" x="439.1" y="84.7"/>
<use href="#e2b" x="419.6" y="84.7"/>
<use href="#e4b" x="367.7" y="84.7"/>
<use href="#e1b" x="413.3" y="84.7"/>
<use href="#e1b" x="393.0" y="84.7"/>
<use href="#e2b" x="417.6" y="84.9"/>
<use href="#e3b" x="472.9" y="84.9"/>
<use href="#e3b" x="496.9" y="84.9"/>
<use href="#e1b" x="431.0" y="85.0"/>
<use href="#e1b" x="425.0" y="85.0"/>
<use href="#e3b" x="466.9" y="85.0"/>
<use href="#e3b" x="389.2" y="85.1"/>
<use href="#e3b" x="478.1" y="85.1"/>
<use href="#e1b" x="484.7" y="85.1"/>
<use href="#e3b" x="462.8" y="85.1"/>
<use href="#e1b" x="386.9" y="85.2"/>
<use href="#e3b" x="432.4" y="85.2"/>
<use href="#e2b" x="405.9" y="85.3"/>
<use href="#e2b" x="370.7" y="85.3"/>
<use href="#e4b" x="416.9" y="85.3"/>
<use href="#e2b" x="434.5" y="85.4"/>
<use href="#e2b" x="460.5" y="85.5"/>
<use href="#e3b" x="457.5" y="85.5"/>
<use href="#e4b" x="372.3" y="85.5"/>
<use href="#e1b" x="447.4" y="85.6"/>
<use href="#e4b" x="368.4" y="85.6"/>
<use href="#e3b" x="435.4" y="85.6"/>
<use href="#e3b" x="489.2" y="85.7"/>
<use href="#e3b" x="441.2" y="85.7"/>
<use href="#e1b" x="411.0" y="85.7"/>
<use href="#e2b" x="409.3" y="85.7"/>
<use href="#e2b" x="416.6" y="85.9"/>
<use href="#e1b" x="465.3" y="85.9"/>
<use href="#e4b" x="409.6" y="86.0"/>
<use href="#e2b" x="486.8" y="86.1"/>
<use href="#e2b" x="365.8" y="86.1"/>
<use href="#e2b" x="426.4" y="86.1"/>
<use href="#e3b" x="466.6" y="86.1"/>
<use href="#e1b" x="456.7" y="86.2"/>
<use href="#e1b" x="480.0" y="86.2"/>
<use href="#e4b" x="488.1" y="86.3"/>
<use href="#e3b" x="429.0" y="86.3"/>
<use href="#e3b" x="410.5" y="86.3"/>
<use href="#e2b" x="499.7" y="86.3"/>
<use href="#e4b" x="441.3" y="86.4"/>
<use href="#e3b" x="437.8" y="86.4"/>
<use href="#e4b" x="424.0" y="86.4"/>
<use href="#e2b" x="455.7" y="86.4"/>
<use href="#e2b" x="369.1" y="86.4"/>
<use href="#e2b" x="376.5" y="86.5"/>
<use href="#e2b" x="394.1" y="86.5"/>
<use href="#e3b" x="394.3" y="86.7"/>
<use href="#e4b" x="457.2" y="86.7"/>
<use href="#e1b" x="485.6" y="86.7"/>
<use href="#e4b" x="466.3" y="86.8"/>
<use href="#e1b" x="375.8" y="86.9"/>
<use href="#e2b" x="421.5" y="86.9"/>
<use href="#e4b" x="376.5" y="86.9"/>
<use href="#e2b" x="488.4" y="86.9"/>
<use href="#e1b" x="442.3" y="86.9"/>
<use href="#e3b" x="382.1" y="87.0"/>
<use href="#e1b" x="429.8" y="87.0"/>
<use href="#e1b" x="484.0" y="87.0"/>
<use href="#e3b" x="388.2" y="87.0"/>
<use href="#e1b" x="437.0" y="87.1"/>
<use href="#e3b" x="467.1" y="87.1"/>
<use href="#e3b" x="395.0" y="87.1"/>
<use href="#e3b" x="449.7" y="87.1"/>
<use href="#e2b" x="447.5" y="87.2"/>
<use href="#e1b" x="502.8" y="87.2"/>
<use href="#e3b" x="491.2" y="87.3"/>
<use href="#e2b" x="361.5" y="87.3"/>
<use href="#e1b" x="421.6" y="87.3"/>
<use href="#e3b" x="465.4" y="87.4"/>
<use href="#e3b" x="401.0" y="87.4"/>
<use href="#e1b" x="382.8" y="87.4"/>
<use href="#e3b" x="380.4" y="87.4"/>
<use href="#e4b" x="413.8" y="87.4"/>
<use href="#e4b" x="471.0" y="87.5"/>
<use href="#e1b" x="394.9" y="87.6"/>
<use href="#e4b" x="361.6" y="87.6"/>
<use href="#e4b" x="413.0" y="87.6"/>
<use href="#e2b" x="384.2" y="87.6"/>
<use href="#e3b" x="379.1" y="87.7"/>
<use href="#e2b" x="426.8" y="87.7"/>
<use href="#e1b" x="483.6" y="87.7"/>
<use href="#e3b" x="438.5" y="87.7"/>
<use href="#e4b" x="374.7" y="87.8"/>
<use href="#e3b" x="397.0" y="87.8"/>
<use href="#e4b" x="371.0" y="87.8"/>
<use href="#e1b" x="397.3" y="87.9"/>
<use href="#e1b" x="361.6" y="87.9"/>
<use href="#e4b" x="371.5" y="87.9"/>
<use href="#e1b" x="421.4" y="88.0"/>
<use href="#e3b" x="434.1" y="88.0"/>
<use href="#e1b" x="506.7" y="88.0"/>
<use href="#e1b" x="361.0" y="88.1"/>
<use href="#e1b" x="381.4" y="88.1"/>
<use href="#e3b" x="478.8" y="88.1"/>
<use href="#e3b" x="472.9" y="88.1"/>
<use href="#e4b" x="383.2" y="88.2"/>
<use href="#e1b" x="427.6" y="88.2"/>
<use href="#e4b" x="414.8" y="88.2"/>
<use href="#e1b" x="473.9" y="88.2"/>
<use href="#e3b" x="404.6" y="88.2"/>
<use href="#e4b" x="496.3" y="88.2"/>
<use href="#e2b" x="374.0" y="88.3"/>
<use href="#e1b" x="370.3" y="88.3"/>
<use href="#e1b" x="460.2" y="88.4"/>
<use href="#e2b" x="487.3" y="88.5"/>
<use href="#e1b" x="394.0" y="88.7"/>
<use href="#e3b" x="472.4" y="88.7"/>
<use href="#e4b" x="368.7" y="88.7"/>
<use href="#e2b" x="395.2" y="88.7"/>
<use href="#e1b" x="374.6" y="88.8"/>
<use href="#e1b" x="488.4" y="88.8"/>
<use href="#e1b" x="442.7" y="88.8"/>
<use href="#e1b" x="461.9" y="88.9"/>
<use href="#e1b" x="403.7" y="89.0"/>
<use href="#e3b" x="472.2" y="89.1"/>
<use href="#e2b" x="361.7" y="89.2"/>
<use href="#e3b" x="438.7" y="89.2"/>
<use href="#e2b" x="416.0" y="89.2"/>
<use href="#e3b" x="386.8" y="89.3"/>
<use href="#e3b" x="392.7" y="89.3"/>
<use href="#e1b" x="464.5" y="89.4"/>
<use href="#e4b" x="362.3" y="89.4"/>
<use href="#e3b" x="472.4" y="89.5"/>
<use href="#e4b" x="367.4" y="89.5"/>
<use href="#e2b" x="413.4" y="89.6"/>
<use href="#e2b" x="451.1" y="89.7"/>
<use href="#e1b" x="444.0" y="89.7"/>
<use href="#e1b" x="440.3" y="89.7"/>
<use href="#e1b" x="365.5" y="89.7"/>
<use href="#e1b" x="445.1" y="89.8"/>
<use href="#e4b" x="367.5" y="89.8"/>
<use href="#e2b" x="431.1" y="89.8"/>
<use href="#e1b" x="449.7" y="89.8"/>
<use href="#e3b" x="476.5" y="89.8"/>
<use href="#e1b" x="478.4" y="89.9"/>
<use href="#e1b" x="483.2" y="89.9"/>
<use href="#e4b" x="482.4" y="90.0"/>
<use href="#e3b" x="474.2" y="90.1"/>
<use href="#e2b" x="366.9" y="90.2"/>
<use href="#e3b" x="477.8" y="90.2"/>
<use href="#e1b" x="362.5" y="90.2"/>
<use href="#e1b" x="506.8" y="90.3"/>
<use href="#e1b" x="487.1" y="90.3"/>
<use href="#e3b" x="442.5" y="90.3"/>
<use href="#e3b" x="384.2" y="90.3"/>
<use href="#e3b" x="429.8" y="90.4"/>
<use href="#e1b" x="388.4" y="90.4"/>
<use href="#e2b" x="416.8" y="90.4"/>
<use href="#e4b" x="487.2" y="90.5"/>
<use href="#e3b" x="459.2" y="90.5"/>
<use href="#e1b" x="425.5" y="90.5"/>
<use href="#e2b" x="403.9" y="90.5"/>
<use href="#e2b" x="405.3" y="90.7"/>
<use href="#e1b" x="424.8" y="90.8"/>
<use href="#e3b" x="440.6" y="90.9"/>
<use href="#e3b" x="409.8" y="90.9"/>
<use href="#e1b" x="397.0" y="90.9"/>
<use href="#e2b" x="412.1" y="91.0"/>
<use href="#e1b" x="490.1" y="91.0"/>
<use href="#e2b" x="445.9" y="91.1"/>
<use href="#e1b" x="379.1" y="91.2"/>
<use href="#e1b" x="446.3" y="91.3"/>
<use href="#e2b" x="368.5" y="91.5"/>
<use href="#e1b" x="421.9" y="91.5"/>
<use href="#e3b" x="506.9" y="91.5"/>
<use href="#e1b" x="361.8" y="91.5"/>
<use href="#e1b" x="444.5" y="91.6"/>
<use href="#e2b" x="429.4" y="91.6"/>
<use href="#e1b" x="400.8" y="91.6"/>
<use href="#e2b" x="363.6" y="91.6"/>
<use href="#e3b" x="433.8" y="91.6"/>
<use href="#e1b" x="431.2" y="91.6"/>
<use href="#e4b" x="418.8" y="91.7"/>
<use href="#e1b" x="429.1" y="91.7"/>
<use href="#e2b" x="486.8" y="91.7"/>
<use href="#e2b" x="419.7" y="91.7"/>
<use href="#e1b" x="373.6" y="91.8"/>
<use href="#e4b" x="500.8" y="91.8"/>
<use href="#e2b" x="398.3" y="91.8"/>
<use href="#e2b" x="469.1" y="91.8"/>
<use href="#e2b" x="484.7" y="91.9"/>
<use href="#e1b" x="461.7" y="91.9"/>
<use href="#e2b" x="379.9" y="92.0"/>
<use href="#e3b" x="502.3" y="92.1"/>
<use href="#e2b" x="395.9" y="92.2"/>
<use href="#e2b" x="411.4" y="92.3"/>
<use href="#e1b" x="506.0" y="92.3"/>
<use href="#e3b" x="391.6" y="92.3"/>
<use href="#e2b" x="451.5" y="92.4"/>
<use href="#e1b" x="439.7" y="92.4"/>
<use href="#e4b" x="369.4" y="92.4"/>
<use href="#e4b" x="412.7" y="92.4"/>
<use href="#e1b" x="404.9" y="92.5"/>
<use href="#e3b" x="394.0" y="92.5"/>
<use href="#e1b" x="370.6" y="92.5"/>
<use href="#e2b" x="446.6" y="92.5"/>
<use href="#e2b" x="403.1" y="92.6"/>
<use href="#e4b" x="374.5" y="92.6"/>
<use href="#e2b" x="389.7" y="92.7"/>
<use href="#e1b" x="461.2" y="92.7"/>
<use href="#e2b" x="471.3" y="92.8"/>
<use href="#e3b" x="408.5" y="92.8"/>
<use href="#e2b" x="408.1" y="92.8"/>
<use href="#e1b" x="387.0" y="92.8"/>
<use href="#e2b" x="377.3" y="92.9"/>
<use href="#e3b" x="451.7" y="92.9"/>
<use href="#e4b" x="390.7" y="92.9"/>
<use href="#e1b" x="430.6" y="92.9"/>
<use href="#e4b" x="503.7" y="92.9"/>
<use href="#e3b" x="383.8" y="92.9"/>
<use href="#e3b" x="474.3" y="93.1"/>
<use href="#e1b" x="462.5" y="93.2"/>
<use href="#e4b" x="363.1" y="93.2"/>
<use href="#e4b" x="424.8" y="93.3"/>
<use href="#e2b" x="473.6" y="93.4"/>
<use href="#e1b" x="399.5" y="93.5"/>
<use href="#e1b" x="442.0" y="93.5"/>
<use href="#e1b" x="445.3" y="93.5"/>
<use href="#e2b" x="432.9" y="93.5"/>
<use href="#e1b" x="369.1" y="93.6"/>
<use href="#e2b" x="369.9" y="93.6"/>
<use href="#e2b" x="427.5" y="93.7"/>
<use href="#e1b" x="485.9" y="93.7"/>
<use href="#e2b" x="376.8" y="93.7"/>
<use href="#e4b" x="421.8" y="93.7"/>
<use href="#e2b" x="441.5" y="93.7"/>
<use href="#e2b" x="383.3" y="93.8"/>
<use href="#e1b" x="455.5" y="93.8"/>
<use href="#e4b" x="396.7" y="93.9"/>
<use href="#e2b" x="440.1" y="93.9"/>
<use href="#e1b" x="390.7" y="93.9"/>
<use href="#e1b" x="445.9" y="93.9"/>
<use href="#e2b" x="369.4" y="93.9"/>
<use href="#e3b" x="459.8" y="93.9"/>
<use href="#e3b" x="394.1" y="94.0"/>
<use href="#e4b" x="363.4" y="94.0"/>
<use href="#e2b" x="487.8" y="94.1"/>
<use href="#e3b" x="406.2" y="94.1"/>
<use href="#e2b" x="432.5" y="94.1"/>
<use href="#e1b" x="440.3" y="94.2"/>
<use href="#e1b" x="505.0" y="94.2"/>
<use href="#e4b" x="371.7" y="94.2"/>
<use href="#e2b" x="466.4" y="94.3"/>
<use href="#e3b" x="433.0" y="94.3"/>
<use href="#e1b" x="380.7" y="94.3"/>
<use href="#e3b" x="446.6" y="94.3"/>
<use href="#e3b" x="461.0" y="94.3"/>
<use href="#e1b" x="460.5" y="94.3"/>
<use href="#e3b" x="392.8" y="94.3"/>
<use href="#e4b" x="423.5" y="94.3"/>
<use href="#e2b" x="462.2" y="94.4"/>
<use href="#e1b" x="395.4" y="94.4"/>
<use href="#e3b" x="408.9" y="94.5"/>
<use href="#e4b" x="505.4" y="94.6"/>
<use href="#e3b" x="429.5" y="94.6"/>
<use href="#e4b" x="364.3" y="94.6"/>
<use href="#e1b" x="453.6" y="94.6"/>
<use href="#e2b" x="508.6" y="94.7"/>
<use href="#e1b" x="428.7" y="94.7"/>
<use href="#e3b" x="376.2" y="94.7"/>
<use href="#e1b" x="435.4" y="94.7"/>
<use href="#e2b" x="366.4" y="94.8"/>
<use href="#e3b" x="499.7" y="94.9"/>
<use href="#e2b" x="383.5" y="94.9"/>
<use href="#e2b" x="410.5" y="94.9"/>
<use href="#e3b" x="441.5" y="95.0"/>
<use href="#e3b" x="381.6" y="95.1"/>
<use href="#e3b" x="397.2" y="95.1"/>
<use href="#e3b" x="492.6" y="95.1"/>
<use href="#e1b" x="498.6" y="95.2"/>
<use href="#e2b" x="486.9" y="95.3"/>
<use href="#e4b" x="431.3" y="95.3"/>
<use href="#e3b" x="494.8" y="95.3"/>
<use href="#e3b" x="477.1" y="95.3"/>
<use href="#e2b" x="419.9" y="95.4"/>
<use href="#e1b" x="465.7" y="95.4"/>
<use href="#e4b" x="366.4" y="95.5"/>
<use href="#e3b" x="435.3" y="95.5"/>
<use href="#e3b" x="459.5" y="95.5"/>
<use href="#e1b" x="470.4" y="95.6"/>
<use href="#e1b" x="411.9" y="95.6"/>
<use href="#e1b" x="367.1" y="95.6"/>
<use href="#e3b" x="466.7" y="95.7"/>
<use href="#e2b" x="425.7" y="95.7"/>
<use href="#e1b" x="414.3" y="95.7"/>
<use href="#e1b" x="478.1" y="95.7"/>
<use href="#e3b" x="401.3" y="95.8"/>
<use href="#e2b" x="412.6" y="95.8"/>
<use href="#e1b" x="389.5" y="95.8"/>
<use href="#e2b" x="442.5" y="95.9"/>
<use href="#e1b" x="368.3" y="96.0"/>
<use href="#e2b" x="410.2" y="96.0"/>
<use href="#e4b" x="429.2" y="96.1"/>
<use href="#e1b" x="463.7" y="96.1"/>
<use href="#e2b" x="414.2" y="96.2"/>
<use href="#e3b" x="486.0" y="96.2"/>
<use href="#e3b" x="440.7" y="96.2"/>
<use href="#e1b" x="427.3" y="96.2"/>
<use href="#e3b" x="385.0" y="96.3"/>
<use href="#e3b" x="438.1" y="96.3"/>
<use href="#e1b" x="401.9" y="96.4"/>
<use href="#e3b" x="481.3" y="96.4"/>
<use href="#e1b" x="508.0" y="96.4"/>
<use href="#e4b" x="360.1" y="96.4"/>
<use href="#e1b" x="433.2" y="96.5"/>
<use href="#e4b" x="369.8" y="96.5"/>
<use href="#e4b" x="415.5" y="96.5"/>
<use href="#e2b" x="390.5" y="96.6"/>
<use href="#e1b" x="385.6" y="96.6"/>
<use href="#e3b" x="395.7" y="96.6"/>
<use href="#e3b" x="493.1" y="96.6"/>
<use href="#e1b" x="455.8" y="96.6"/>
<use href="#e1b" x="439.4" y="96.7"/>
<use href="#e1b" x="465.7" y="96.7"/>
<use href="#e3b" x="405.8" y="96.7"/>
<use href="#e3b" x="456.2" y="96.8"/>
<use href="#e4b" x="449.0" y="96.8"/>
<use href="#e2b" x="463.3" y="96.8"/>
<use href="#e2b" x="422.0" y="96.9"/>
<use href="#e3b" x="440.8" y="96.9"/>
<use href="#e4b" x="424.6" y="97.0"/>
<use href="#e3b" x="397.6" y="97.1"/>
<use href="#e2b" x="404.6" y="97.1"/>
<use href="#e4b" x="382.2" y="97.1"/>
<use href="#e3b" x="372.5" y="97.3"/>
<use href="#tri" x="465.5" y="56.2"/>
<use href="#tri" x="381.2" y="62.3"/>
<use href="#tri" x="377.1" y="63.5"/>
<use href="#tri" x="370.5" y="80.5"/>
<use href="#tri" x="388.4" y="94.7"/>
<use href="#tri" x="371.8" y="74.1"/>
<use href="#tri" x="456.0" y="44.9"/>
<use href="#tri" x="453.5" y="68.6"/>
<use href="#tri" x="451.7" y="44.0"/>
<use href="#tri" x="429.9" y="87.9"/>
<use href="#tri" x="452.1" y="48.0"/>
<use href="#tri" x="407.5" y="90.8"/>
<use href="#tri" x="435.6" y="60.5"/>
<use href="#tri" x="487.2" y="62.2"/>
<use href="#tri" x="400.8" y="62.0"/>
<use href="#tri" x="485.1" y="82.8"/>
</g>
<path d="M24.7,69.7 L21.4,75.2" stroke="#222" stroke-width="1.3"/>
<path d="M192.8,94.2 L187.4,101.6" stroke="#666" stroke-width="0.7"/>
<text x="48.1" y="46.1" fill="none" font-size="13.9" stroke="#3a2420" stroke-width="1.3" stroke-opacity="0.8">Au</text>
<text x="48.1" y="46.1" fill="#bce6de" font-size="13.9" stroke="#bce6de" stroke-width="0.3">Au</text>
<text x="234.2" y="48.2" fill="none" font-size="13.9" stroke="#3a2420" stroke-width="1.3" stroke-opacity="0.8">PEG</text>
<text x="234.2" y="48.2" fill="#bce6de" font-size="13.9" stroke="#bce6de" stroke-width="0.3">PEG</text>
<text x="378.6" y="47.8" fill="none" font-size="13.9" stroke="#3a2420" stroke-width="1.3" stroke-opacity="0.8">PF4</text>
<text x="378.6" y="47.8" fill="#bce6de" font-size="13.9" stroke="#bce6de" stroke-width="0.3">PF4</text>
<text x="455.9" y="85.8" fill="none" font-size="13.9" stroke="#3a2420" stroke-width="1.3" stroke-opacity="0.8">200 nm</text>
<text x="455.9" y="85.8" fill="#bce6de" font-size="13.9" stroke="#bce6de" stroke-width="0.3">200 nm</text>
<rect x="464" y="89" width="30" height="3" fill="#86d2da"/>
<text x="7.4" y="16.7" font-size="11.5" font-weight="bold" fill="#111">A</text>
<text x="7.4" y="130" font-size="11" font-weight="bold" fill="#111">B</text>
<text x="246.5" y="129.4" font-size="11" font-weight="bold" fill="#111">C</text>
<path d="M43.3,261.3H46.3 M43.3,225.5H46.3 M43.3,189.7H46.3 M43.3,153.9H46.3 M44.7,254.14H46.3 M44.7,246.98H46.3 M44.7,239.82H46.3 M44.7,232.66H46.3 M44.7,218.34H46.3 M44.7,211.18H46.3 M44.7,204.02H46.3 M44.7,196.86H46.3 M44.7,182.54H46.3 M44.7,175.38H46.3 M44.7,168.22H46.3 M44.7,161.06H46.3 M44.7,146.74H46.3 M44.7,139.58H46.3 M46.3,261V263.6 M63.45,261V262.3 M80.6,261V263.6 M97.75,261V262.3 M114.9,261V263.6 M132.05,261V262.3 M149.2,261V263.6 M166.35,261V262.3 M183.5,261V263.6 M200.65,261V262.3 M217.8,261V263.6" stroke="#111" stroke-width="1" fill="none"/>
<clipPath id="cb"><rect x="46.3" y="135.7" width="172.0" height="125.30000000000001"/></clipPath>
<g clip-path="url(#cb)">
<path d="M46.3,228 C46.47,228.8 47.66,234.75 48,236 C48.34,237.25 49.35,241.6 49.7,240.5 C50.05,239.4 51.1,230.03 51.5,225 C51.9,219.97 53.35,191.2 53.7,190.2 C54.05,189.2 54.67,211.22 55,215 C55.33,218.78 56.6,228.5 57,228 C57.4,227.5 58.58,213.92 59,210 C59.42,206.08 60.85,189.3 61.2,188.8 C61.55,188.3 62.2,200.96 62.5,205 C62.8,209.04 63.85,228.2 64.2,229.2 C64.55,230.2 65.62,217.42 66,215 C66.38,212.58 67.6,204 68,205 C68.4,206 69.6,222.3 70,225 C70.4,227.7 71.5,230.65 72,232 C72.5,233.35 74.5,240.2 75,238.5 C75.5,236.8 76.6,216.35 77,215 C77.4,213.65 78.6,223.3 79,225 C79.4,226.7 80.6,230.6 81,232 C81.4,233.4 82.5,240.2 83,239 C83.5,237.8 85.5,222.9 86,220 C86.5,217.1 87.6,209.8 88,210 C88.4,210.2 89.6,221.5 90,222 C90.4,222.5 91.6,214.7 92,215 C92.4,215.3 93.6,226 94,225 C94.4,224 95.63,208.06 96,205 C96.37,201.94 97.35,193.4 97.7,194.4 C98.05,195.4 99.17,210.44 99.5,215 C99.83,219.56 100.72,236 101,240 C101.28,244 102,255.5 102.3,255 C102.6,254.5 103.63,239 104,235 C104.37,231 105.6,218 106,215 C106.4,212 107.53,207.61 108,205 C108.47,202.39 110.3,189.4 110.7,188.9 C111.1,188.4 111.63,200.56 112,200 C112.37,199.44 114,182.8 114.4,183.3 C114.8,183.8 115.64,200.83 116,205 C116.36,209.17 117.6,224.5 118,225 C118.4,225.5 119.62,212.7 120,210 C120.38,207.3 121.45,197.5 121.8,198 C122.15,198.5 123.18,212.6 123.5,215 C123.82,217.4 124.71,223.13 125,222 C125.29,220.87 126.1,204.1 126.4,203.7 C126.7,203.3 127.54,215.09 128,218 C128.46,220.91 130.55,234.6 131,232.8 C131.45,231 132.14,207.18 132.5,200 C132.86,192.82 134.2,161 134.6,161 C135,161 136.16,193.9 136.5,200 C136.84,206.1 137.65,220.5 138,222 C138.35,223.5 139.6,219.15 140,215 C140.4,210.85 141.6,178.54 142,180.5 C142.4,182.46 143.6,230.65 144,234.6 C144.4,238.55 145.65,222.96 146,220 C146.35,217.04 147.2,205.5 147.5,205 C147.8,204.5 148.65,213 149,215 C149.35,217 150.5,224.15 151,225 C151.5,225.85 153.5,225 154,223.5 C154.5,222 155.6,210.85 156,210 C156.4,209.15 157.54,215.46 158,215 C158.46,214.54 160.2,205.4 160.6,205.4 C161,205.4 161.66,213.34 162,215 C162.34,216.66 163.6,222.5 164,222 C164.4,221.5 165.42,209.48 166,210 C166.58,210.52 169.25,226.7 169.8,227.2 C170.35,227.7 171.13,216.62 171.5,215 C171.87,213.38 173.02,211.5 173.5,211 C173.98,210.5 175.85,209.1 176.3,210 C176.75,210.9 177.53,221.65 178,220 C178.47,218.35 180.4,198.2 181,193.5 C181.6,188.8 183.5,172.35 184,173 C184.5,173.65 185.65,194.3 186,200 C186.35,205.7 187.17,225.24 187.5,230 C187.83,234.76 188.95,247.1 189.3,247.6 C189.65,248.1 190.63,237.56 191,235 C191.37,232.44 192.6,224.3 193,222 C193.4,219.7 194.6,211.7 195,212 C195.4,212.3 196.6,223 197,225 C197.4,227 198.57,232.11 199,232 C199.43,231.89 200.98,222.43 201.3,223.9 C201.62,225.37 201.93,247.09 202.2,246.7 C202.47,246.31 203.63,225.24 204,220 C204.37,214.76 205.5,194.8 205.9,194.3 C206.3,193.8 207.59,211.93 208,215 C208.41,218.07 209.6,224.7 210,225 C210.4,225.3 211.65,217.7 212,218 C212.35,218.3 213.18,228.52 213.5,228 C213.82,227.48 214.94,211.5 215.2,212.8 C215.46,214.1 215.84,239.78 216.1,241 C216.36,242.22 217.63,226.6 217.8,225" stroke="#74b9a3" stroke-width="0.9" fill="none" stroke-linejoin="round" />
<path d="M46.3,200 C46.41,197.6 47.13,174 47.4,176 C47.67,178 48.64,214 49,220 C49.36,226 50.6,235.5 51,236 C51.4,236.5 52.65,227.2 53,225 C53.35,222.8 54.19,213 54.5,214 C54.81,215 55.75,234.2 56.1,235 C56.45,235.8 57.61,225 58,222 C58.39,219 59.6,207.6 60,205 C60.4,202.4 61.65,197.5 62,196 C62.35,194.5 63.15,191.86 63.5,190 C63.85,188.14 65.1,176.4 65.5,177.4 C65.9,178.4 67.03,193.36 67.5,200 C67.97,206.64 69.75,241.8 70.2,243.8 C70.65,245.8 71.67,223.88 72,220 C72.33,216.12 73.18,207.71 73.5,205 C73.82,202.29 74.85,192.4 75.2,192.9 C75.55,193.4 76.62,206.09 77,210 C77.38,213.91 78.6,231 79,232 C79.4,233 80.66,222.7 81,220 C81.34,217.3 82.1,205.5 82.4,205 C82.7,204.5 83.64,213 84,215 C84.36,217 85.6,225.3 86,225 C86.4,224.7 87.57,214 88,212 C88.43,210 89.9,204 90.3,205 C90.7,206 91.54,217.46 92,222 C92.46,226.54 94.4,249.6 94.9,250.4 C95.4,251.2 96.59,233.54 97,230 C97.41,226.46 98.6,215.8 99,215 C99.4,214.2 100.6,220.3 101,222 C101.4,223.7 102.6,232.4 103,232 C103.4,231.6 104.6,220.55 105,218 C105.4,215.45 106.6,206.3 107,206.5 C107.4,206.7 108.65,219.45 109,220 C109.35,220.55 110.15,213.54 110.5,212 C110.85,210.46 112.15,203.3 112.5,204.6 C112.85,205.9 113.65,222.18 114,225 C114.35,227.82 115.6,233.3 116,232.8 C116.4,232.3 117.6,222.28 118,220 C118.4,217.72 119.6,209.5 120,210 C120.4,210.5 121.45,223 122,225 C122.55,227 125,231 125.5,230 C126,229 126.65,218 127,215 C127.35,212 128.6,202.8 129,200 C129.4,197.2 130.6,185.5 131,187 C131.4,188.5 132.6,211.1 133,215 C133.4,218.9 134.47,224.6 135,226 C135.53,227.4 137.8,230.1 138.3,229 C138.8,227.9 139.63,217.4 140,215 C140.37,212.6 141.6,205 142,205 C142.4,205 143.44,212.7 144,215 C144.56,217.3 147.05,230 147.6,228 C148.15,226 149.07,201.69 149.5,195 C149.93,188.31 151.5,161.6 151.9,161.1 C152.3,160.6 153.24,186.21 153.5,190 C153.76,193.79 154.16,198.3 154.5,199 C154.84,199.7 156.5,195.9 156.9,197 C157.3,198.1 158.13,209.16 158.5,210 C158.87,210.84 160.12,203.5 160.6,205.4 C161.08,207.3 162.81,228.04 163.3,229 C163.79,229.96 164.94,217.83 165.5,215 C166.06,212.17 168.35,200.2 168.9,200.7 C169.45,201.2 170.54,216.24 171,220 C171.46,223.76 173.05,237.8 173.5,238.3 C173.95,238.8 175.05,227.33 175.5,225 C175.95,222.67 177.55,215 178,215 C178.45,215 179.6,223.3 180,225 C180.4,226.7 181.54,230.2 182,232 C182.46,233.8 184.15,243.7 184.6,243 C185.05,242.3 186.16,227.8 186.5,225 C186.84,222.2 187.63,217.06 188,215 C188.37,212.94 189.61,206.84 190.2,204.4 C190.79,201.96 193.25,190.78 193.9,190.6 C194.55,190.42 196.24,199.16 196.7,202.6 C197.16,206.04 198.04,221.16 198.5,225 C198.96,228.84 200.8,241 201.3,241 C201.8,241 203.03,227.6 203.5,225 C203.97,222.4 205.5,217 206,215 C206.5,213 208.01,207.35 208.5,205 C208.99,202.65 210.42,191.74 210.9,191.5 C211.38,191.26 212.84,199.55 213.3,202.6 C213.76,205.65 215.05,220.76 215.5,222 C215.95,223.24 217.57,215.7 217.8,215" stroke="#3c3c3c" stroke-width="0.9" fill="none" stroke-linejoin="round" />
<path d="M46.8,221.7 C46.86,221.67 47.6,221.28 47.72,221.24 C47.85,221.2 48.53,221.06 48.65,221.12 C48.77,221.18 49.45,222.01 49.58,222.1 C49.7,222.2 50.38,222.55 50.5,222.6 C50.62,222.65 51.3,222.77 51.42,222.85 C51.55,222.93 52.23,223.58 52.35,223.77 C52.47,223.97 53.15,225.57 53.28,225.79 C53.4,226.02 54.08,227.17 54.2,227.2 C54.32,227.23 55,226.44 55.12,226.21 C55.25,225.99 55.93,224.13 56.05,223.83 C56.17,223.53 56.85,221.99 56.98,221.66 C57.1,221.34 57.79,219.35 57.9,218.9 C58.01,218.45 58.51,215.38 58.6,214.95 C58.69,214.53 59.21,212.97 59.3,212.55 C59.39,212.12 59.91,209.08 60,208.64 C60.09,208.21 60.61,206.11 60.7,206 C60.79,205.89 61.29,206.8 61.38,206.97 C61.46,207.15 61.96,208.38 62.05,208.63 C62.14,208.88 62.63,210.42 62.73,210.73 C62.82,211.04 63.29,212.88 63.4,213.3 C63.51,213.72 64.2,216.56 64.33,216.96 C64.45,217.36 65.13,218.94 65.25,219.26 C65.37,219.57 66.05,221.46 66.17,221.75 C66.3,222.03 66.99,223.42 67.1,223.5 C67.21,223.58 67.71,223.14 67.8,222.91 C67.89,222.67 68.41,220.22 68.5,219.95 C68.59,219.68 69.11,219.01 69.2,218.88 C69.29,218.75 69.79,217.89 69.9,218 C70.01,218.11 70.7,220.24 70.83,220.58 C70.95,220.92 71.63,222.76 71.75,223.1 C71.87,223.44 72.55,225.41 72.67,225.67 C72.8,225.93 73.49,226.73 73.6,227 C73.71,227.27 74.21,229.51 74.3,229.66 C74.39,229.81 74.91,229.1 75,229.28 C75.09,229.45 75.61,232.01 75.7,232.3 C75.79,232.6 76.28,233.66 76.4,233.7 C76.52,233.74 77.4,233.13 77.55,232.97 C77.7,232.82 78.55,231.61 78.7,231.37 C78.85,231.12 79.7,229.49 79.85,229.34 C80,229.18 80.86,229.27 81,229 C81.14,228.73 81.8,225.82 81.92,225.26 C82.05,224.7 82.73,220.99 82.85,220.58 C82.97,220.17 83.65,219.52 83.78,219.1 C83.9,218.69 84.56,214.72 84.7,214.3 C84.84,213.88 85.72,213.12 85.88,212.8 C86.03,212.48 86.89,209.95 87.05,209.52 C87.21,209.1 88.07,206.77 88.23,206.43 C88.38,206.1 89.26,204.27 89.4,204.5 C89.54,204.73 90.18,209.28 90.3,209.86 C90.42,210.45 91.08,212.72 91.2,213.29 C91.32,213.86 91.98,217.83 92.1,218.39 C92.22,218.95 92.88,221.31 93,221.7 C93.12,222.09 93.82,223.97 93.95,224.18 C94.08,224.39 94.77,224.74 94.9,224.87 C95.03,225.01 95.72,225.99 95.85,226.2 C95.98,226.41 96.69,227.75 96.8,228 C96.91,228.25 97.41,229.7 97.5,229.91 C97.59,230.12 98.11,230.98 98.2,231.12 C98.29,231.26 98.81,231.84 98.9,232.07 C98.99,232.3 99.46,234.74 99.6,234.6 C99.74,234.46 100.77,230.44 100.95,229.94 C101.13,229.44 102.12,227.71 102.3,227.11 C102.48,226.51 103.47,221.57 103.65,220.96 C103.83,220.35 104.86,218.06 105,218 C105.14,217.94 105.65,219.62 105.75,220.07 C105.85,220.53 106.4,224.35 106.5,224.83 C106.6,225.3 107.15,226.77 107.25,227.18 C107.35,227.59 107.88,230.69 108,231 C108.12,231.31 108.97,231.68 109.12,231.77 C109.28,231.85 110.1,232.22 110.25,232.28 C110.4,232.33 111.22,232.52 111.38,232.62 C111.53,232.71 112.37,233.56 112.5,233.7 C112.63,233.84 113.26,234.85 113.38,234.77 C113.49,234.69 114.13,232.59 114.25,232.46 C114.37,232.33 115.01,232.78 115.12,232.8 C115.24,232.82 115.84,233.21 116,232.8 C116.16,232.39 117.3,227.35 117.5,226.65 C117.7,225.96 118.8,223.1 119,222.39 C119.2,221.69 120.3,216.83 120.5,216.09 C120.7,215.35 121.85,211.38 122,211.3 C122.15,211.22 122.67,214.37 122.78,214.95 C122.88,215.53 123.45,219.46 123.55,219.99 C123.65,220.52 124.22,222.41 124.32,222.91 C124.43,223.4 124.98,227.29 125.1,227.4 C125.22,227.51 125.97,224.86 126.1,224.53 C126.23,224.19 126.97,222.88 127.1,222.4 C127.23,221.92 127.97,217.76 128.1,217.29 C128.23,216.81 129,215.21 129.1,215.3 C129.2,215.39 129.56,218.15 129.62,218.71 C129.69,219.27 130.08,222.97 130.15,223.7 C130.22,224.42 130.6,228.99 130.67,229.64 C130.74,230.29 131.11,233.19 131.2,233.5 C131.28,233.81 131.85,234.28 131.95,234.3 C132.05,234.32 132.6,233.8 132.7,233.82 C132.8,233.83 133.35,234.45 133.45,234.56 C133.55,234.67 134.1,235.53 134.2,235.5 C134.3,235.47 134.85,234.24 134.95,234.16 C135.05,234.09 135.6,234.48 135.7,234.39 C135.8,234.3 136.35,232.87 136.45,232.81 C136.55,232.75 137.1,233.28 137.2,233.5 C137.3,233.72 137.87,235.7 137.97,236.04 C138.08,236.38 138.65,238.26 138.75,238.58 C138.85,238.89 139.42,240.56 139.53,240.76 C139.63,240.96 140.15,242.31 140.3,241.6 C140.45,240.89 141.6,231.6 141.8,230.06 C142,228.52 143.1,220.24 143.3,218.5 C143.5,216.75 144.6,205.6 144.8,203.9 C145,202.2 146.15,193.49 146.3,193 C146.45,192.51 146.95,195.88 147.05,196.5 C147.15,197.12 147.7,201.69 147.8,202.31 C147.9,202.94 148.45,205.41 148.55,205.87 C148.65,206.32 149.2,208.92 149.3,209.2 C149.4,209.48 149.97,209.78 150.08,209.99 C150.18,210.21 150.75,212.23 150.85,212.4 C150.95,212.58 151.52,212.53 151.62,212.59 C151.73,212.65 152.32,213.13 152.4,213.3 C152.48,213.47 152.75,215.05 152.8,215.15 C152.85,215.25 153.15,214.78 153.2,214.81 C153.25,214.84 153.55,215.4 153.6,215.57 C153.65,215.75 153.93,217.33 154,217.4 C154.07,217.47 154.63,216.71 154.72,216.55 C154.82,216.4 155.35,215.16 155.45,215.05 C155.55,214.95 156.08,215.02 156.18,214.99 C156.27,214.96 156.76,214.33 156.9,214.6 C157.04,214.87 158.09,218.65 158.28,219.05 C158.46,219.45 159.47,220.39 159.65,220.66 C159.83,220.93 160.84,222.61 161.03,223.07 C161.21,223.54 162.23,227.5 162.4,227.6 C162.57,227.7 163.4,224.87 163.55,224.57 C163.7,224.26 164.55,223.16 164.7,223.04 C164.85,222.92 165.7,222.98 165.85,222.79 C166,222.6 166.89,220.58 167,220.2 C167.11,219.82 167.41,217.45 167.47,217.04 C167.54,216.63 167.89,214.47 167.95,214.05 C168.01,213.64 168.36,211.09 168.43,210.75 C168.49,210.42 168.81,208.65 168.9,209 C168.99,209.35 169.7,215.29 169.82,216.05 C169.95,216.81 170.63,219.76 170.75,220.4 C170.87,221.04 171.55,224.85 171.68,225.64 C171.8,226.43 172.46,231.89 172.6,232.2 C172.74,232.51 173.6,230.52 173.75,230.35 C173.9,230.18 174.75,229.72 174.9,229.64 C175.05,229.57 175.9,229.25 176.05,229.24 C176.2,229.22 177.04,229.57 177.2,229.4 C177.35,229.23 178.22,227.13 178.38,226.63 C178.53,226.14 179.39,222.58 179.55,222.04 C179.71,221.5 180.57,218.9 180.72,218.53 C180.88,218.16 181.75,216.48 181.9,216.5 C182.06,216.52 182.9,218.51 183.05,218.78 C183.2,219.04 184.05,220.05 184.2,220.45 C184.35,220.84 185.2,224.34 185.35,224.69 C185.5,225.04 186.31,225.91 186.5,225.7 C186.69,225.49 187.91,221.92 188.12,221.49 C188.34,221.07 189.53,219.64 189.75,219.33 C189.97,219.01 191.16,217.17 191.38,216.74 C191.59,216.3 192.83,212.92 193,212.8 C193.17,212.68 193.8,214.47 193.93,214.86 C194.05,215.26 194.73,218.35 194.85,218.67 C194.97,218.99 195.65,219.42 195.77,219.64 C195.9,219.86 196.56,221.75 196.7,222 C196.84,222.25 197.7,223.16 197.85,223.43 C198,223.69 198.85,225.72 199,225.97 C199.15,226.21 200,226.8 200.15,227.1 C200.3,227.39 201.18,230.07 201.3,230.4 C201.42,230.73 201.89,231.84 201.98,232.05 C202.07,232.25 202.56,233.12 202.65,233.45 C202.74,233.77 203.23,236.67 203.32,236.96 C203.41,237.25 203.91,238 204,237.8 C204.09,237.6 204.63,234.65 204.72,234.04 C204.82,233.42 205.35,229.3 205.45,228.55 C205.55,227.79 206.08,223.32 206.18,222.71 C206.27,222.09 206.78,219.49 206.9,219.3 C207.03,219.11 207.9,219.7 208.05,219.81 C208.2,219.92 209.05,220.78 209.2,220.93 C209.35,221.08 210.2,221.79 210.35,221.99 C210.5,222.19 211.36,223.74 211.5,223.9 C211.64,224.06 212.3,224.13 212.43,224.35 C212.55,224.57 213.23,227.02 213.35,227.16 C213.47,227.3 214.15,226.33 214.27,226.42 C214.4,226.51 215.09,228.55 215.2,228.5 C215.31,228.45 215.81,225.85 215.9,225.71 C215.99,225.57 216.51,226.49 216.6,226.36 C216.69,226.24 217.21,224.09 217.3,223.79 C217.39,223.5 217.95,222.12 218,222" stroke="#e0242a" stroke-width="1.4" fill="none" stroke-linejoin="round" />
</g>
<rect x="46.3" y="135.7" width="172" height="125.3" stroke="#111" stroke-width="1.2" fill="none"/>
<text x="39.6" y="264" text-anchor="end" font-size="7.6" fill="#111">-2</text>
<text x="39.6" y="228.2" text-anchor="end" font-size="7.6" fill="#111">0</text>
<text x="39.6" y="192.4" text-anchor="end" font-size="7.6" fill="#111">2</text>
<text x="39.6" y="156.6" text-anchor="end" font-size="7.6" fill="#111">4</text>
<text x="46.3" y="274.2" text-anchor="middle" font-size="7.6" fill="#111">0</text>
<text x="80.6" y="274.2" text-anchor="middle" font-size="7.6" fill="#111">200</text>
<text x="114.9" y="274.2" text-anchor="middle" font-size="7.6" fill="#111">400</text>
<text x="149.2" y="274.2" text-anchor="middle" font-size="7.6" fill="#111">600</text>
<text x="183.5" y="274.2" text-anchor="middle" font-size="7.6" fill="#111">800</text>
<text x="217.8" y="274.2" text-anchor="middle" font-size="7.6" fill="#111">1000</text>
<text x="132.5" y="286.6" text-anchor="middle" font-size="9" fill="#111">Size (nm)</text>
<text transform="translate(27.6,198.8) rotate(-90)" text-anchor="middle" font-size="8.8" fill="#111">Height (nm)</text>
<path d="M82.3,146H97.1" stroke="#666" stroke-width="0.9"/>
<text x="100.7" y="149" font-size="7.4" fill="#111">Au</text>
<path d="M121.4,146.2H137.3" stroke="#a5d5c8" stroke-width="0.9"/>
<text x="140.5" y="149" font-size="7.4" fill="#111">PEG</text>
<path d="M176,146.2H192.5" stroke="#c2394a" stroke-width="1.3"/>
<text x="195.7" y="149" font-size="7.4" fill="#111">PF4</text>
<path d="M288.2,261H291.4 M289.8,245.4H291.4 M288.2,229.8H291.4 M289.8,214.2H291.4 M288.2,198.6H291.4 M289.8,183H291.4 M288.2,167.4H291.4 M289.8,151.8H291.4 M288.2,136.2H291.4 M291.4,261V263.6 M308.43,261V262.3 M325.46,261V263.6 M342.49,261V262.3 M359.52,261V263.6 M376.55,261V262.3 M393.58,261V263.6 M410.61,261V262.3 M427.64,261V263.6 M444.67,261V262.3 M461.7,261V263.6" stroke="#111" stroke-width="1" fill="none"/>
<clipPath id="cc"><rect x="291.4" y="136.2" width="170.3" height="124.80000000000001"/></clipPath>
<g clip-path="url(#cc)">
<rect x="293.55" y="148.68" width="4.21" height="112.32" fill="#b3123a" stroke="#7e0a24" stroke-width="0.45"/>
<rect x="298.66" y="125.8" width="4.21" height="135.2" fill="#b3123a" stroke="#7e0a24" stroke-width="0.45"/>
<rect x="303.77" y="202.14" width="4.21" height="58.86" fill="#b3123a" stroke="#7e0a24" stroke-width="0.45"/>
<rect x="308.88" y="221.69" width="4.21" height="39.31" fill="#b3123a" stroke="#7e0a24" stroke-width="0.45"/>
<rect x="313.99" y="232.71" width="4.21" height="28.29" fill="#b3123a" stroke="#7e0a24" stroke-width="0.45"/>
<rect x="319.1" y="230.84" width="4.21" height="30.16" fill="#b3123a" stroke="#7e0a24" stroke-width="0.45"/>
<rect x="324.21" y="244.46" width="4.21" height="16.54" fill="#b3123a" stroke="#7e0a24" stroke-width="0.45"/>
<rect x="329.32" y="250.91" width="4.21" height="10.09" fill="#b3123a" stroke="#7e0a24" stroke-width="0.45"/>
<rect x="334.42" y="237.5" width="4.21" height="23.5" fill="#b3123a" stroke="#7e0a24" stroke-width="0.45"/>
<rect x="339.53" y="248.83" width="4.21" height="12.17" fill="#b3123a" stroke="#7e0a24" stroke-width="0.45"/>
<rect x="344.64" y="247.9" width="4.21" height="13.1" fill="#b3123a" stroke="#7e0a24" stroke-width="0.45"/>
<rect x="349.75" y="255.7" width="4.21" height="5.3" fill="#b3123a" stroke="#7e0a24" stroke-width="0.45"/>
<rect x="354.86" y="252.58" width="4.21" height="8.42" fill="#b3123a" stroke="#7e0a24" stroke-width="0.45"/>
<rect x="359.97" y="254.86" width="4.21" height="6.14" fill="#b3123a" stroke="#7e0a24" stroke-width="0.45"/>
<rect x="365.08" y="253.72" width="4.21" height="7.28" fill="#b3123a" stroke="#7e0a24" stroke-width="0.45"/>
<rect x="370.19" y="253.72" width="4.21" height="7.28" fill="#b3123a" stroke="#7e0a24" stroke-width="0.45"/>
<rect x="375.3" y="254.55" width="4.21" height="6.45" fill="#b3123a" stroke="#7e0a24" stroke-width="0.45"/>
<rect x="380.41" y="256.94" width="4.21" height="4.06" fill="#b3123a" stroke="#7e0a24" stroke-width="0.45"/>
<rect x="385.51" y="256.94" width="4.21" height="4.06" fill="#b3123a" stroke="#7e0a24" stroke-width="0.45"/>
<rect x="390.62" y="257.67" width="4.21" height="3.33" fill="#b3123a" stroke="#7e0a24" stroke-width="0.45"/>
<rect x="395.73" y="257.98" width="4.21" height="3.02" fill="#b3123a" stroke="#7e0a24" stroke-width="0.45"/>
<rect x="400.84" y="253.72" width="4.21" height="7.28" fill="#b3123a" stroke="#7e0a24" stroke-width="0.45"/>
<rect x="405.95" y="256.01" width="4.21" height="4.99" fill="#b3123a" stroke="#7e0a24" stroke-width="0.45"/>
<rect x="411.06" y="257.98" width="4.21" height="3.02" fill="#b3123a" stroke="#7e0a24" stroke-width="0.45"/>
<rect x="416.17" y="256.94" width="4.21" height="4.06" fill="#b3123a" stroke="#7e0a24" stroke-width="0.45"/>
<rect x="421.28" y="257.57" width="4.21" height="3.43" fill="#b3123a" stroke="#7e0a24" stroke-width="0.45"/>
<rect x="426.39" y="259.34" width="4.21" height="1.66" fill="#b3123a" stroke="#7e0a24" stroke-width="0.45"/>
<rect x="431.5" y="259.96" width="4.21" height="1.04" fill="#b3123a" stroke="#7e0a24" stroke-width="0.45"/>
<rect x="436.6" y="259.96" width="4.21" height="1.04" fill="#b3123a" stroke="#7e0a24" stroke-width="0.45"/>
<rect x="446.82" y="259.65" width="4.21" height="1.35" fill="#b3123a" stroke="#7e0a24" stroke-width="0.45"/>
<rect x="457.04" y="259.65" width="4.21" height="1.35" fill="#b3123a" stroke="#7e0a24" stroke-width="0.45"/>
</g>
<rect x="291.4" y="136.2" width="170.3" height="124.8" stroke="#111" stroke-width="1.2" fill="none"/>
<text x="285" y="263.7" text-anchor="end" font-size="7.6" fill="#111">0</text>
<text x="285" y="232.5" text-anchor="end" font-size="7.6" fill="#111">30</text>
<text x="285" y="201.3" text-anchor="end" font-size="7.6" fill="#111">60</text>
<text x="285" y="170.1" text-anchor="end" font-size="7.6" fill="#111">90</text>
<text x="285" y="138.9" text-anchor="end" font-size="7.6" fill="#111">120</text>
<text x="291.4" y="274.2" text-anchor="middle" font-size="7.6" fill="#111">0</text>
<text x="325.46" y="274.2" text-anchor="middle" font-size="7.6" fill="#111">200</text>
<text x="359.52" y="274.2" text-anchor="middle" font-size="7.6" fill="#111">400</text>
<text x="393.58" y="274.2" text-anchor="middle" font-size="7.6" fill="#111">600</text>
<text x="427.64" y="274.2" text-anchor="middle" font-size="7.6" fill="#111">800</text>
<text x="461.7" y="274.2" text-anchor="middle" font-size="7.6" fill="#111">1000</text>
<text x="376.75" y="286.7" text-anchor="middle" font-size="9" textLength="40.3" lengthAdjust="spacingAndGlyphs" fill="#222">Force (pN)</text>
<text transform="translate(265.4,200.6) rotate(-90)" text-anchor="middle" font-size="10" textLength="31" lengthAdjust="spacingAndGlyphs" fill="#222">Counts</text>
<text x="407.6" y="147.3" font-size="7.5" fill="#111">25 μg/ml PF4</text>
<path d="M0,0H520V1H0Z M0,0H1V297H0Z M518,0H520V297H518Z M0,295H520V297H0Z" fill="#000"/>
</svg>
</body></html>
